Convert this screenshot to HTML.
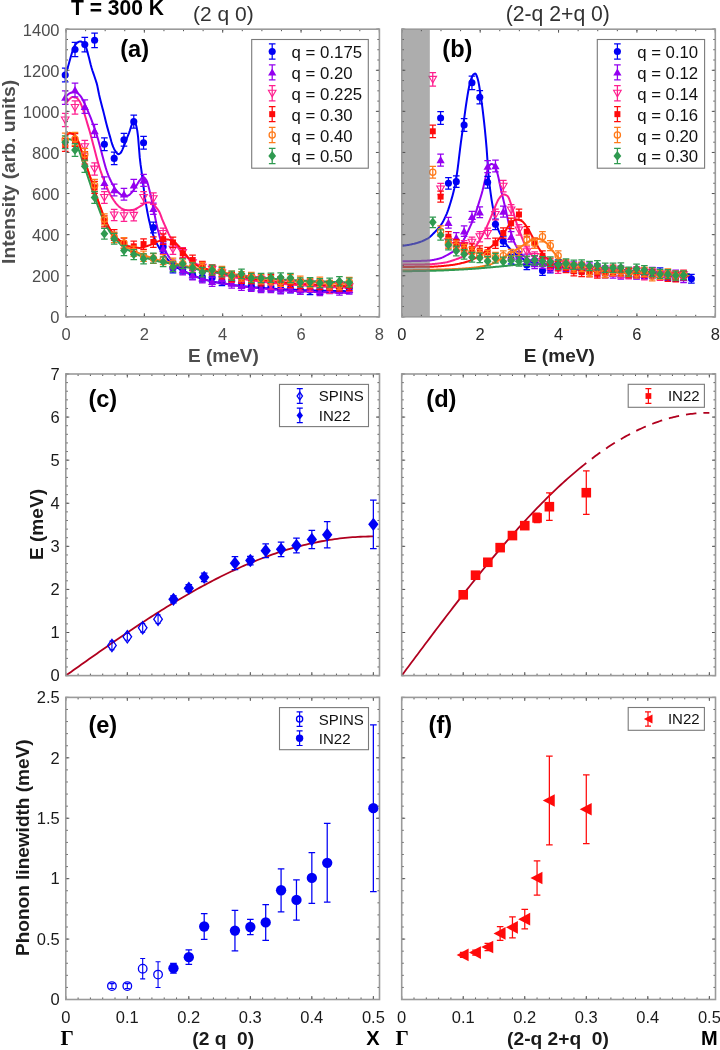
<!DOCTYPE html>
<html><head><meta charset="utf-8"><style>
html,body{margin:0;padding:0;background:#fff;}
svg{display:block;filter:blur(0.3px);}
</style></head><body>
<svg width="720" height="1050" viewBox="0 0 720 1050">
<rect width="720" height="1050" fill="#fff"/>
<path d="M65.8 73.6L66.63 71.06L67.46 68.42L68.29 65.67L69.12 62.82L69.95 59.79L70.79 56.72L71.62 53.93L72.45 51.26L73.28 48.75L74.11 46.73L74.94 45.35L75.77 44.2L76.6 43.27L77.43 42.57L78.26 42.06L79.1 41.63L79.93 41.41L80.76 41.48L81.59 41.78L82.42 42.23L83.25 42.79L84.08 43.7L84.91 45L85.74 46.59L86.57 48.76L87.41 51.71L88.24 54.95L89.07 58.09L89.9 61.42L90.73 64.77L91.56 67.81L92.39 70.45L93.22 72.89L94.05 75.27L94.88 77.76L95.72 80.24L96.55 82.86L97.38 86.11L98.21 90.28L99.04 94.38L99.87 97.94L100.7 101.32L101.53 104.55L102.36 107.64L103.19 110.78L104.03 114.12L104.86 117.57L105.69 121L106.52 124.27L107.35 127.37L108.18 130.37L109.01 133.28L109.84 136.15L110.67 139.09L111.5 142.04L112.34 144.73L113.17 146.89L114 148.69L114.83 150.25L115.66 151.55L116.49 152.63L117.32 153.64L118.15 154.19L118.98 154.05L119.81 153.55L120.65 152.87L121.48 151.65L122.31 149.87L123.14 147.84L123.97 145.84L124.8 143.8L125.63 141.62L126.46 139.4L127.29 137.26L128.12 135.2L128.96 133.1L129.79 130.75L130.62 128.04L131.45 125.62L132.28 123.53L133.11 121.85L133.94 121.59L134.77 122.38L135.6 123.69L136.43 126.37L137.27 130.61L138.1 137.17L138.93 147.49L139.76 157.67L140.59 164.66L141.42 170.45L142.25 176.75L143.08 183.29L143.91 189.95L144.74 196.5L145.58 201.94L146.41 206.68L147.24 211.25L148.07 215.57L148.9 219.48L149.73 223.08L150.56 226.53L151.39 229.76L152.22 232.39L153.05 234.64L153.89 236.72L154.72 238.78L155.55 240.77L156.38 242.63L157.21 244.31L158.04 245.86L158.87 247.32L159.7 248.71L160.53 250.07L161.36 251.38L162.2 252.64L163.03 253.83L163.86 254.93L164.69 255.96L165.52 256.94L166.35 257.89L167.18 258.84L168.01 259.8L168.84 260.81L169.67 261.84L170.51 262.85L171.34 263.8L172.17 264.65L173 265.38L173.83 265.96L174.66 266.47L175.49 266.94L176.32 267.36L177.15 267.76L177.98 268.13L178.82 268.49L179.65 268.84L180.48 269.2L181.31 269.57L182.14 269.97L182.97 270.39L183.8 270.82L184.63 271.26L185.46 271.7L186.29 272.15L187.13 272.59L187.96 273.04L188.79 273.47L189.62 273.9L190.45 274.31L191.28 274.71L192.11 275.09L192.94 275.45L193.77 275.79L194.6 276.12L195.44 276.44L196.27 276.75L197.1 277.05L197.93 277.35L198.76 277.63L199.59 277.91L200.42 278.19L201.25 278.45L202.08 278.71L202.91 278.96L203.75 279.21L204.58 279.45L205.41 279.69L206.24 279.92L207.07 280.16L207.9 280.38L208.73 280.61L209.56 280.83L210.39 281.04L211.22 281.24L212.05 281.44L212.89 281.63L213.72 281.82L214.55 281.99L215.38 282.16L216.21 282.31L217.04 282.46L217.87 282.6L218.7 282.73L219.53 282.86L220.36 282.99L221.2 283.11L222.03 283.23L222.86 283.34L223.69 283.46L224.52 283.58L225.35 283.7L226.18 283.82L227.01 283.95L227.84 284.08L228.67 284.21L229.51 284.35L230.34 284.48L231.17 284.62L232 284.75L232.83 284.88L233.66 285.01L234.49 285.14L235.32 285.27L236.15 285.38L236.98 285.5L237.82 285.6L238.65 285.7L239.48 285.8L240.31 285.9L241.14 286L241.97 286.09L242.8 286.19L243.63 286.28L244.46 286.37L245.29 286.46L246.13 286.55L246.96 286.64L247.79 286.72L248.62 286.8L249.45 286.89L250.28 286.97L251.11 287.05L251.94 287.12L252.77 287.2L253.6 287.27L254.44 287.35L255.27 287.42L256.1 287.49L256.93 287.56L257.76 287.63L258.59 287.69L259.42 287.76L260.25 287.82L261.08 287.88L261.91 287.94L262.75 288L263.58 288.06L264.41 288.12L265.24 288.18L266.07 288.24L266.9 288.3L267.73 288.36L268.56 288.41L269.39 288.47L270.22 288.52L271.06 288.58L271.89 288.63L272.72 288.68L273.55 288.73L274.38 288.79L275.21 288.84L276.04 288.89L276.87 288.93L277.7 288.98L278.53 289.03L279.37 289.08L280.2 289.12L281.03 289.17L281.86 289.21L282.69 289.25L283.52 289.3L284.35 289.34L285.18 289.38L286.01 289.42L286.84 289.46L287.68 289.5L288.51 289.53L289.34 289.57L290.17 289.61L291 289.64L291.83 289.68L292.66 289.71L293.49 289.75L294.32 289.78L295.15 289.81L295.99 289.84L296.82 289.88L297.65 289.91L298.48 289.94L299.31 289.97L300.14 290L300.97 290.03L301.8 290.06L302.63 290.09L303.46 290.12L304.3 290.14L305.13 290.17L305.96 290.2L306.79 290.23L307.62 290.25L308.45 290.28L309.28 290.3L310.11 290.33L310.94 290.35L311.77 290.38L312.61 290.4L313.44 290.43L314.27 290.45L315.1 290.47L315.93 290.49L316.76 290.52L317.59 290.54L318.42 290.56L319.25 290.58L320.08 290.6L320.92 290.62L321.75 290.64L322.58 290.66L323.41 290.68L324.24 290.7L325.07 290.72L325.9 290.74L326.73 290.76L327.56 290.78L328.39 290.8L329.23 290.82L330.06 290.84L330.89 290.86L331.72 290.87L332.55 290.89L333.38 290.91L334.21 290.93L335.04 290.94L335.87 290.96L336.7 290.98L337.54 290.99L338.37 291.01L339.2 291.03L340.03 291.04L340.86 291.06L341.69 291.07L342.52 291.09L343.35 291.1L344.18 291.11L345.01 291.13L345.85 291.14L346.68 291.15L347.51 291.17L348.34 291.18L349.17 291.19L350 291.2" stroke="#0000f5" stroke-width="2.0" fill="none" stroke-linejoin="round"/>
<path d="M65.8 96.7L66.63 95.77L67.46 94.94L68.29 94.23L69.12 93.68L69.95 93.19L70.79 92.77L71.62 92.45L72.45 92.28L73.28 92.18L74.11 92.12L74.94 92.1L75.77 92.29L76.6 92.69L77.43 93.22L78.26 93.79L79.1 94.49L79.93 95.4L80.76 96.45L81.59 97.63L82.42 99.08L83.25 100.8L84.08 102.64L84.91 104.44L85.74 106.21L86.57 108.01L87.41 109.87L88.24 111.79L89.07 113.78L89.9 115.85L90.73 117.98L91.56 120.16L92.39 122.4L93.22 124.7L94.05 127.05L94.88 129.45L95.72 131.85L96.55 134.32L97.38 136.96L98.21 139.84L99.04 142.9L99.87 146.02L100.7 149.15L101.53 152.35L102.36 155.5L103.19 158.58L104.03 161.69L104.86 164.74L105.69 167.63L106.52 170.27L107.35 172.62L108.18 174.81L109.01 176.85L109.84 178.75L110.67 180.54L111.5 182.23L112.34 183.84L113.17 185.36L114 186.77L114.83 188.05L115.66 189.23L116.49 190.35L117.32 191.4L118.15 192.33L118.98 193.12L119.81 193.81L120.65 194.5L121.48 195.12L122.31 195.58L123.14 195.79L123.97 195.8L124.8 195.8L125.63 195.8L126.46 195.8L127.29 195.8L128.12 195.68L128.96 195.22L129.79 194.5L130.62 193.65L131.45 192.76L132.28 191.86L133.11 190.78L133.94 189.56L134.77 188.28L135.6 187L136.43 185.69L137.27 184.26L138.1 182.81L138.93 181.45L139.76 180.28L140.59 179.31L141.42 178.33L142.25 177.54L143.08 177.12L143.91 177.26L144.74 177.94L145.58 179L146.41 180.31L147.24 182.01L148.07 184.79L148.9 188.04L149.73 191.28L150.56 194.78L151.39 198.55L152.22 202.62L153.05 207.03L153.89 211.23L154.72 215.31L155.55 219.43L156.38 223.52L157.21 227.19L158.04 230.55L158.87 233.77L159.7 236.96L160.53 239.94L161.36 242.51L162.2 244.85L163.03 246.9L163.86 248.62L164.69 250.1L165.52 251.44L166.35 252.74L167.18 254.08L168.01 255.41L168.84 256.7L169.67 257.88L170.51 258.91L171.34 259.86L172.17 260.74L173 261.57L173.83 262.37L174.66 263.17L175.49 263.98L176.32 264.8L177.15 265.63L177.98 266.44L178.82 267.23L179.65 267.99L180.48 268.71L181.31 269.37L182.14 269.96L182.97 270.5L183.8 271.01L184.63 271.5L185.46 271.97L186.29 272.41L187.13 272.84L187.96 273.25L188.79 273.65L189.62 274.03L190.45 274.4L191.28 274.76L192.11 275.11L192.94 275.45L193.77 275.79L194.6 276.12L195.44 276.44L196.27 276.75L197.1 277.05L197.93 277.35L198.76 277.63L199.59 277.91L200.42 278.19L201.25 278.45L202.08 278.71L202.91 278.96L203.75 279.21L204.58 279.45L205.41 279.69L206.24 279.92L207.07 280.15L207.9 280.38L208.73 280.6L209.56 280.82L210.39 281.03L211.22 281.23L212.05 281.43L212.89 281.62L213.72 281.81L214.55 281.99L215.38 282.16L216.21 282.32L217.04 282.47L217.87 282.62L218.7 282.76L219.53 282.89L220.36 283.03L221.2 283.15L222.03 283.28L222.86 283.41L223.69 283.53L224.52 283.66L225.35 283.79L226.18 283.92L227.01 284.05L227.84 284.19L228.67 284.33L229.51 284.47L230.34 284.61L231.17 284.75L232 284.89L232.83 285.03L233.66 285.17L234.49 285.31L235.32 285.44L236.15 285.56L236.98 285.69L237.82 285.8L238.65 285.91L239.48 286.02L240.31 286.13L241.14 286.24L241.97 286.34L242.8 286.45L243.63 286.55L244.46 286.65L245.29 286.75L246.13 286.85L246.96 286.94L247.79 287.04L248.62 287.13L249.45 287.23L250.28 287.32L251.11 287.41L251.94 287.5L252.77 287.58L253.6 287.67L254.44 287.75L255.27 287.84L256.1 287.92L256.93 288L257.76 288.09L258.59 288.17L259.42 288.25L260.25 288.32L261.08 288.4L261.91 288.48L262.75 288.56L263.58 288.63L264.41 288.71L265.24 288.79L266.07 288.86L266.9 288.94L267.73 289.01L268.56 289.08L269.39 289.16L270.22 289.23L271.06 289.3L271.89 289.37L272.72 289.44L273.55 289.51L274.38 289.58L275.21 289.65L276.04 289.72L276.87 289.78L277.7 289.85L278.53 289.91L279.37 289.98L280.2 290.04L281.03 290.1L281.86 290.16L282.69 290.22L283.52 290.28L284.35 290.34L285.18 290.4L286.01 290.45L286.84 290.51L287.68 290.56L288.51 290.61L289.34 290.66L290.17 290.71L291 290.76L291.83 290.81L292.66 290.85L293.49 290.9L294.32 290.95L295.15 290.99L295.99 291.04L296.82 291.08L297.65 291.12L298.48 291.17L299.31 291.21L300.14 291.25L300.97 291.29L301.8 291.33L302.63 291.37L303.46 291.41L304.3 291.45L305.13 291.49L305.96 291.53L306.79 291.57L307.62 291.6L308.45 291.64L309.28 291.67L310.11 291.71L310.94 291.75L311.77 291.78L312.61 291.81L313.44 291.85L314.27 291.88L315.1 291.91L315.93 291.95L316.76 291.98L317.59 292.01L318.42 292.04L319.25 292.07L320.08 292.1L320.92 292.13L321.75 292.16L322.58 292.19L323.41 292.22L324.24 292.25L325.07 292.28L325.9 292.31L326.73 292.34L327.56 292.37L328.39 292.39L329.23 292.42L330.06 292.45L330.89 292.48L331.72 292.5L332.55 292.53L333.38 292.56L334.21 292.58L335.04 292.61L335.87 292.63L336.7 292.66L337.54 292.68L338.37 292.71L339.2 292.73L340.03 292.75L340.86 292.78L341.69 292.8L342.52 292.82L343.35 292.84L344.18 292.86L345.01 292.88L345.85 292.9L346.68 292.92L347.51 292.94L348.34 292.96L349.17 292.98L350 293" stroke="#9400f0" stroke-width="2.0" fill="none" stroke-linejoin="round"/>
<path d="M65.7 104.2L66.53 102.81L67.36 101.55L68.19 100.46L69.03 99.58L69.86 98.78L70.69 98.02L71.52 97.43L72.35 97.12L73.18 97.12L74.01 97.22L74.84 97.4L75.68 97.63L76.51 97.9L77.34 98.43L78.17 99.33L79 100.47L79.83 101.75L80.66 103.36L81.49 105.39L82.33 107.57L83.16 109.9L83.99 112.44L84.82 115.06L85.65 117.76L86.48 120.55L87.31 123.34L88.14 126.1L88.98 128.86L89.81 131.73L90.64 134.76L91.47 137.89L92.3 141.02L93.13 144.18L93.96 147.36L94.8 150.59L95.63 153.82L96.46 156.92L97.29 159.96L98.12 162.94L98.95 165.81L99.78 168.52L100.61 171.05L101.45 173.45L102.28 175.74L103.11 177.95L103.94 180.12L104.77 182.28L105.6 184.43L106.43 186.52L107.26 188.52L108.1 190.37L108.93 192.06L109.76 193.65L110.59 195.14L111.42 196.56L112.25 197.91L113.08 199.21L113.91 200.49L114.75 201.71L115.58 202.84L116.41 203.87L117.24 204.79L118.07 205.65L118.9 206.44L119.73 207.15L120.56 207.75L121.4 208.26L122.23 208.73L123.06 209.15L123.89 209.5L124.72 209.74L125.55 209.89L126.38 210.02L127.22 210.13L128.05 210.21L128.88 210.25L129.71 210.24L130.54 210.19L131.37 210.1L132.2 209.98L133.03 209.85L133.87 209.67L134.7 209.36L135.53 208.96L136.36 208.52L137.19 208.06L138.02 207.62L138.85 207.15L139.68 206.64L140.52 206.13L141.35 205.61L142.18 205.09L143.01 204.5L143.84 203.9L144.67 203.37L145.5 202.98L146.33 202.78L147.17 202.61L148 202.48L148.83 202.41L149.66 202.43L150.49 202.64L151.32 202.99L152.15 203.41L152.99 203.92L153.82 204.67L154.65 205.61L155.48 206.62L156.31 207.6L157.14 208.63L157.97 209.74L158.8 211.02L159.64 212.56L160.47 214.57L161.3 216.84L162.13 219.08L162.96 221.09L163.79 223L164.62 224.87L165.45 226.73L166.29 228.6L167.12 230.5L167.95 232.37L168.78 234.15L169.61 235.8L170.44 237.36L171.27 238.84L172.1 240.2L172.94 241.42L173.77 242.52L174.6 243.55L175.43 244.55L176.26 245.57L177.09 246.59L177.92 247.6L178.75 248.59L179.59 249.54L180.42 250.45L181.25 251.3L182.08 252.13L182.91 252.94L183.74 253.75L184.57 254.58L185.41 255.45L186.24 256.32L187.07 257.17L187.9 257.95L188.73 258.65L189.56 259.31L190.39 259.94L191.22 260.53L192.06 261.11L192.89 261.66L193.72 262.19L194.55 262.72L195.38 263.24L196.21 263.75L197.04 264.25L197.87 264.75L198.71 265.24L199.54 265.72L200.37 266.19L201.2 266.64L202.03 267.08L202.86 267.5L203.69 267.91L204.52 268.29L205.36 268.65L206.19 269.01L207.02 269.35L207.85 269.68L208.68 270L209.51 270.32L210.34 270.63L211.18 270.93L212.01 271.22L212.84 271.51L213.67 271.79L214.5 272.06L215.33 272.33L216.16 272.59L216.99 272.85L217.83 273.1L218.66 273.35L219.49 273.6L220.32 273.84L221.15 274.08L221.98 274.32L222.81 274.55L223.64 274.78L224.48 275.01L225.31 275.23L226.14 275.45L226.97 275.66L227.8 275.87L228.63 276.08L229.46 276.28L230.29 276.48L231.13 276.67L231.96 276.86L232.79 277.04L233.62 277.22L234.45 277.39L235.28 277.56L236.11 277.72L236.95 277.88L237.78 278.04L238.61 278.2L239.44 278.35L240.27 278.5L241.1 278.65L241.93 278.8L242.76 278.95L243.6 279.09L244.43 279.23L245.26 279.37L246.09 279.51L246.92 279.64L247.75 279.77L248.58 279.9L249.41 280.03L250.25 280.16L251.08 280.28L251.91 280.41L252.74 280.53L253.57 280.65L254.4 280.76L255.23 280.88L256.06 280.99L256.9 281.1L257.73 281.21L258.56 281.32L259.39 281.42L260.22 281.53L261.05 281.63L261.88 281.73L262.71 281.83L263.55 281.93L264.38 282.03L265.21 282.12L266.04 282.22L266.87 282.31L267.7 282.4L268.53 282.49L269.37 282.58L270.2 282.67L271.03 282.76L271.86 282.85L272.69 282.93L273.52 283.02L274.35 283.1L275.18 283.18L276.02 283.26L276.85 283.35L277.68 283.42L278.51 283.5L279.34 283.58L280.17 283.66L281 283.73L281.83 283.81L282.67 283.88L283.5 283.96L284.33 284.03L285.16 284.1L285.99 284.17L286.82 284.24L287.65 284.31L288.48 284.38L289.32 284.45L290.15 284.51L290.98 284.58L291.81 284.64L292.64 284.71L293.47 284.77L294.3 284.84L295.14 284.9L295.97 284.96L296.8 285.02L297.63 285.09L298.46 285.15L299.29 285.21L300.12 285.27L300.95 285.33L301.79 285.38L302.62 285.44L303.45 285.5L304.28 285.55L305.11 285.61L305.94 285.67L306.77 285.72L307.6 285.77L308.44 285.83L309.27 285.88L310.1 285.93L310.93 285.98L311.76 286.03L312.59 286.08L313.42 286.13L314.25 286.18L315.09 286.23L315.92 286.28L316.75 286.32L317.58 286.37L318.41 286.42L319.24 286.46L320.07 286.5L320.9 286.55L321.74 286.59L322.57 286.63L323.4 286.68L324.23 286.72L325.06 286.76L325.89 286.8L326.72 286.84L327.56 286.88L328.39 286.92L329.22 286.96L330.05 287L330.88 287.04L331.71 287.08L332.54 287.12L333.37 287.16L334.21 287.19L335.04 287.23L335.87 287.27L336.7 287.3L337.53 287.34L338.36 287.37L339.19 287.41L340.02 287.44L340.86 287.47L341.69 287.51L342.52 287.54L343.35 287.57L344.18 287.6L345.01 287.63L345.84 287.66L346.67 287.69L347.51 287.72L348.34 287.75L349.17 287.77L350 287.8" stroke="#ff1f8f" stroke-width="2.0" fill="none" stroke-linejoin="round"/>
<path d="M65.8 135.6L66.63 134.67L67.46 133.9L68.29 133.31L69.12 132.94L69.95 132.8L70.79 132.89L71.62 133.14L72.45 133.54L73.28 134.04L74.11 134.63L74.94 135.31L75.77 136.4L76.6 137.88L77.43 139.6L78.26 141.42L79.1 143.49L79.93 145.94L80.76 148.57L81.59 151.17L82.42 153.66L83.25 156.18L84.08 158.71L84.91 161.24L85.74 163.76L86.57 166.29L87.41 168.81L88.24 171.31L89.07 173.76L89.9 176.18L90.73 178.6L91.56 181.08L92.39 183.66L93.22 186.32L94.05 189.01L94.88 191.64L95.72 194.21L96.55 196.76L97.38 199.29L98.21 201.78L99.04 204.23L99.87 206.63L100.7 209.01L101.53 211.42L102.36 213.79L103.19 216.08L104.03 218.23L104.86 220.19L105.69 221.94L106.52 223.58L107.35 225.12L108.18 226.57L109.01 227.94L109.84 229.26L110.67 230.52L111.5 231.75L112.34 232.93L113.17 234.07L114 235.15L114.83 236.17L115.66 237.13L116.49 238.02L117.32 238.89L118.15 239.72L118.98 240.52L119.81 241.29L120.65 242.04L121.48 242.75L122.31 243.44L123.14 244.1L123.97 244.74L124.8 245.36L125.63 245.95L126.46 246.53L127.29 247.09L128.12 247.63L128.96 248.16L129.79 248.67L130.62 249.16L131.45 249.64L132.28 250.1L133.11 250.55L133.94 250.98L134.77 251.39L135.6 251.79L136.43 252.16L137.27 252.53L138.1 252.88L138.93 253.22L139.76 253.55L140.59 253.87L141.42 254.18L142.25 254.49L143.08 254.8L143.91 255.1L144.74 255.41L145.58 255.71L146.41 256.02L147.24 256.33L148.07 256.63L148.9 256.94L149.73 257.25L150.56 257.55L151.39 257.85L152.22 258.14L153.05 258.43L153.89 258.71L154.72 258.99L155.55 259.26L156.38 259.51L157.21 259.76L158.04 260L158.87 260.22L159.7 260.43L160.53 260.62L161.36 260.81L162.2 260.98L163.03 261.14L163.86 261.29L164.69 261.44L165.52 261.58L166.35 261.72L167.18 261.86L168.01 262.01L168.84 262.16L169.67 262.31L170.51 262.48L171.34 262.65L172.17 262.83L173 263.03L173.83 263.23L174.66 263.43L175.49 263.64L176.32 263.85L177.15 264.06L177.98 264.28L178.82 264.49L179.65 264.69L180.48 264.9L181.31 265.1L182.14 265.29L182.97 265.47L183.8 265.65L184.63 265.83L185.46 266.01L186.29 266.18L187.13 266.35L187.96 266.52L188.79 266.69L189.62 266.86L190.45 267.03L191.28 267.19L192.11 267.36L192.94 267.53L193.77 267.7L194.6 267.87L195.44 268.04L196.27 268.21L197.1 268.38L197.93 268.55L198.76 268.72L199.59 268.89L200.42 269.06L201.25 269.22L202.08 269.38L202.91 269.54L203.75 269.69L204.58 269.83L205.41 269.97L206.24 270.11L207.07 270.24L207.9 270.37L208.73 270.49L209.56 270.62L210.39 270.74L211.22 270.86L212.05 270.98L212.89 271.1L213.72 271.22L214.55 271.35L215.38 271.47L216.21 271.59L217.04 271.71L217.87 271.83L218.7 271.95L219.53 272.07L220.36 272.19L221.2 272.31L222.03 272.42L222.86 272.54L223.69 272.66L224.52 272.78L225.35 272.9L226.18 273.02L227.01 273.15L227.84 273.27L228.67 273.4L229.51 273.53L230.34 273.66L231.17 273.79L232 273.93L232.83 274.06L233.66 274.19L234.49 274.32L235.32 274.44L236.15 274.57L236.98 274.69L237.82 274.8L238.65 274.92L239.48 275.03L240.31 275.14L241.14 275.25L241.97 275.36L242.8 275.47L243.63 275.57L244.46 275.68L245.29 275.78L246.13 275.89L246.96 275.99L247.79 276.09L248.62 276.19L249.45 276.29L250.28 276.39L251.11 276.49L251.94 276.59L252.77 276.68L253.6 276.78L254.44 276.88L255.27 276.97L256.1 277.06L256.93 277.16L257.76 277.25L258.59 277.34L259.42 277.44L260.25 277.53L261.08 277.62L261.91 277.71L262.75 277.8L263.58 277.89L264.41 277.98L265.24 278.08L266.07 278.17L266.9 278.26L267.73 278.35L268.56 278.44L269.39 278.53L270.22 278.61L271.06 278.7L271.89 278.79L272.72 278.88L273.55 278.96L274.38 279.05L275.21 279.14L276.04 279.22L276.87 279.3L277.7 279.39L278.53 279.47L279.37 279.55L280.2 279.63L281.03 279.71L281.86 279.79L282.69 279.87L283.52 279.94L284.35 280.02L285.18 280.09L286.01 280.17L286.84 280.24L287.68 280.31L288.51 280.38L289.34 280.45L290.17 280.51L291 280.58L291.83 280.64L292.66 280.71L293.49 280.77L294.32 280.84L295.15 280.9L295.99 280.96L296.82 281.02L297.65 281.08L298.48 281.14L299.31 281.2L300.14 281.26L300.97 281.31L301.8 281.37L302.63 281.43L303.46 281.48L304.3 281.54L305.13 281.59L305.96 281.65L306.79 281.7L307.62 281.76L308.45 281.81L309.28 281.86L310.11 281.91L310.94 281.96L311.77 282.01L312.61 282.07L313.44 282.12L314.27 282.17L315.1 282.21L315.93 282.26L316.76 282.31L317.59 282.36L318.42 282.41L319.25 282.46L320.08 282.5L320.92 282.55L321.75 282.6L322.58 282.65L323.41 282.69L324.24 282.74L325.07 282.78L325.9 282.83L326.73 282.88L327.56 282.92L328.39 282.96L329.23 283.01L330.06 283.05L330.89 283.1L331.72 283.14L332.55 283.18L333.38 283.23L334.21 283.27L335.04 283.31L335.87 283.35L336.7 283.39L337.54 283.43L338.37 283.47L339.2 283.51L340.03 283.55L340.86 283.59L341.69 283.63L342.52 283.67L343.35 283.71L344.18 283.75L345.01 283.78L345.85 283.82L346.68 283.86L347.51 283.89L348.34 283.93L349.17 283.97L350 284" stroke="#ff7a1a" stroke-width="2.0" fill="none" stroke-linejoin="round"/>
<path d="M65.8 136.3L66.63 135.31L67.46 134.49L68.29 133.86L69.12 133.45L69.95 133.3L70.79 133.38L71.62 133.62L72.45 134L73.28 134.49L74.11 135.05L74.94 135.7L75.77 136.75L76.6 138.17L77.43 139.84L78.26 141.62L79.1 143.67L79.93 146.12L80.76 148.76L81.59 151.37L82.42 153.86L83.25 156.38L84.08 158.91L84.91 161.44L85.74 163.96L86.57 166.49L87.41 169.01L88.24 171.51L89.07 173.97L89.9 176.4L90.73 178.83L91.56 181.29L92.39 183.79L93.22 186.33L94.05 188.86L94.88 191.36L95.72 193.81L96.55 196.23L97.38 198.64L98.21 201.01L99.04 203.35L99.87 205.65L100.7 207.92L101.53 210.19L102.36 212.43L103.19 214.61L104.03 216.7L104.86 218.67L105.69 220.54L106.52 222.35L107.35 224.1L108.18 225.76L109.01 227.31L109.84 228.74L110.67 230.06L111.5 231.32L112.34 232.52L113.17 233.65L114 234.72L114.83 235.71L115.66 236.64L116.49 237.5L117.32 238.31L118.15 239.08L118.98 239.8L119.81 240.49L120.65 241.14L121.48 241.77L122.31 242.36L123.14 242.95L123.97 243.53L124.8 244.09L125.63 244.62L126.46 245.1L127.29 245.51L128.12 245.85L128.96 246.14L129.79 246.42L130.62 246.68L131.45 246.92L132.28 247.14L133.11 247.32L133.94 247.47L134.77 247.58L135.6 247.66L136.43 247.73L137.27 247.79L138.1 247.84L138.93 247.88L139.76 247.9L140.59 247.87L141.42 247.75L142.25 247.55L143.08 247.3L143.91 247.03L144.74 246.77L145.58 246.53L146.41 246.28L147.24 246.02L148.07 245.73L148.9 245.43L149.73 245.11L150.56 244.76L151.39 244.35L152.22 243.9L153.05 243.45L153.89 243.01L154.72 242.62L155.55 242.28L156.38 241.97L157.21 241.67L158.04 241.39L158.87 241.13L159.7 240.88L160.53 240.65L161.36 240.41L162.2 240.18L163.03 239.96L163.86 239.78L164.69 239.64L165.52 239.54L166.35 239.46L167.18 239.4L168.01 239.44L168.84 239.63L169.67 239.9L170.51 240.17L171.34 240.49L172.17 240.86L173 241.28L173.83 241.76L174.66 242.27L175.49 242.86L176.32 243.59L177.15 244.43L177.98 245.34L178.82 246.27L179.65 247.2L180.48 248.19L181.31 249.22L182.14 250.26L182.97 251.3L183.8 252.3L184.63 253.29L185.46 254.27L186.29 255.25L187.13 256.25L187.96 257.26L188.79 258.32L189.62 259.35L190.45 260.33L191.28 261.31L192.11 262.25L192.94 263.03L193.77 263.62L194.6 264.13L195.44 264.61L196.27 265.06L197.1 265.47L197.93 265.85L198.76 266.21L199.59 266.55L200.42 266.87L201.25 267.17L202.08 267.47L202.91 267.77L203.75 268.07L204.58 268.36L205.41 268.66L206.24 268.94L207.07 269.22L207.9 269.49L208.73 269.75L209.56 270L210.39 270.24L211.22 270.48L212.05 270.72L212.89 270.94L213.72 271.17L214.55 271.38L215.38 271.6L216.21 271.81L217.04 272.01L217.87 272.21L218.7 272.41L219.53 272.61L220.36 272.8L221.2 272.99L222.03 273.18L222.86 273.36L223.69 273.55L224.52 273.73L225.35 273.9L226.18 274.08L227.01 274.25L227.84 274.42L228.67 274.59L229.51 274.75L230.34 274.91L231.17 275.08L232 275.24L232.83 275.39L233.66 275.55L234.49 275.71L235.32 275.86L236.15 276.01L236.98 276.16L237.82 276.31L238.65 276.46L239.48 276.61L240.31 276.76L241.14 276.9L241.97 277.05L242.8 277.19L243.63 277.33L244.46 277.47L245.29 277.61L246.13 277.75L246.96 277.89L247.79 278.02L248.62 278.15L249.45 278.28L250.28 278.41L251.11 278.54L251.94 278.67L252.77 278.79L253.6 278.92L254.44 279.04L255.27 279.16L256.1 279.27L256.93 279.39L257.76 279.5L258.59 279.62L259.42 279.73L260.25 279.83L261.08 279.94L261.91 280.04L262.75 280.15L263.58 280.25L264.41 280.35L265.24 280.46L266.07 280.56L266.9 280.66L267.73 280.76L268.56 280.85L269.39 280.95L270.22 281.05L271.06 281.14L271.89 281.23L272.72 281.33L273.55 281.42L274.38 281.51L275.21 281.6L276.04 281.69L276.87 281.77L277.7 281.86L278.53 281.94L279.37 282.03L280.2 282.11L281.03 282.19L281.86 282.27L282.69 282.35L283.52 282.43L284.35 282.51L285.18 282.58L286.01 282.66L286.84 282.73L287.68 282.8L288.51 282.88L289.34 282.95L290.17 283.01L291 283.08L291.83 283.15L292.66 283.21L293.49 283.28L294.32 283.34L295.15 283.41L295.99 283.47L296.82 283.53L297.65 283.6L298.48 283.66L299.31 283.72L300.14 283.78L300.97 283.84L301.8 283.89L302.63 283.95L303.46 284.01L304.3 284.06L305.13 284.12L305.96 284.17L306.79 284.23L307.62 284.28L308.45 284.33L309.28 284.39L310.11 284.44L310.94 284.49L311.77 284.54L312.61 284.59L313.44 284.64L314.27 284.68L315.1 284.73L315.93 284.78L316.76 284.83L317.59 284.87L318.42 284.92L319.25 284.96L320.08 285L320.92 285.05L321.75 285.09L322.58 285.13L323.41 285.18L324.24 285.22L325.07 285.26L325.9 285.3L326.73 285.34L327.56 285.38L328.39 285.42L329.23 285.46L330.06 285.5L330.89 285.54L331.72 285.58L332.55 285.62L333.38 285.66L334.21 285.69L335.04 285.73L335.87 285.77L336.7 285.8L337.54 285.84L338.37 285.87L339.2 285.91L340.03 285.94L340.86 285.97L341.69 286.01L342.52 286.04L343.35 286.07L344.18 286.1L345.01 286.13L345.85 286.16L346.68 286.19L347.51 286.22L348.34 286.25L349.17 286.27L350 286.3" stroke="#ff0a0a" stroke-width="2.0" fill="none" stroke-linejoin="round"/>
<path d="M65.8 140L66.63 139.67L67.46 139.46L68.29 139.34L69.12 139.3L69.95 139.37L70.79 139.58L71.62 139.91L72.45 140.33L73.28 140.79L74.11 141.43L74.94 142.36L75.77 143.52L76.6 144.84L77.43 146.44L78.26 148.47L79.1 150.76L79.93 153.1L80.76 155.48L81.59 158.01L82.42 160.61L83.25 163.15L84.08 165.61L84.91 168.05L85.74 170.47L86.57 172.93L87.41 175.42L88.24 177.94L89.07 180.47L89.9 182.99L90.73 185.53L91.56 188.08L92.39 190.62L93.22 193.08L94.05 195.45L94.88 197.76L95.72 200.03L96.55 202.28L97.38 204.53L98.21 206.81L99.04 209.1L99.87 211.37L100.7 213.58L101.53 215.7L102.36 217.69L103.19 219.56L104.03 221.38L104.86 223.14L105.69 224.82L106.52 226.41L107.35 227.91L108.18 229.29L109.01 230.6L109.84 231.85L110.67 233.05L111.5 234.19L112.34 235.29L113.17 236.34L114 237.34L114.83 238.31L115.66 239.24L116.49 240.16L117.32 241.06L118.15 241.93L118.98 242.78L119.81 243.61L120.65 244.41L121.48 245.17L122.31 245.9L123.14 246.59L123.97 247.25L124.8 247.86L125.63 248.43L126.46 248.98L127.29 249.5L128.12 249.99L128.96 250.47L129.79 250.93L130.62 251.37L131.45 251.79L132.28 252.21L133.11 252.61L133.94 253.01L134.77 253.39L135.6 253.78L136.43 254.15L137.27 254.52L138.1 254.88L138.93 255.22L139.76 255.57L140.59 255.9L141.42 256.22L142.25 256.53L143.08 256.84L143.91 257.13L144.74 257.41L145.58 257.69L146.41 257.96L147.24 258.23L148.07 258.5L148.9 258.76L149.73 259.01L150.56 259.27L151.39 259.51L152.22 259.75L153.05 259.99L153.89 260.22L154.72 260.44L155.55 260.66L156.38 260.87L157.21 261.07L158.04 261.27L158.87 261.46L159.7 261.64L160.53 261.81L161.36 261.97L162.2 262.12L163.03 262.26L163.86 262.4L164.69 262.53L165.52 262.66L166.35 262.79L167.18 262.92L168.01 263.05L168.84 263.19L169.67 263.33L170.51 263.48L171.34 263.65L172.17 263.83L173 264.01L173.83 264.21L174.66 264.42L175.49 264.63L176.32 264.84L177.15 265.06L177.98 265.27L178.82 265.49L179.65 265.7L180.48 265.9L181.31 266.1L182.14 266.29L182.97 266.47L183.8 266.64L184.63 266.81L185.46 266.98L186.29 267.14L187.13 267.3L187.96 267.46L188.79 267.62L189.62 267.78L190.45 267.94L191.28 268.1L192.11 268.26L192.94 268.43L193.77 268.6L194.6 268.77L195.44 268.95L196.27 269.13L197.1 269.31L197.93 269.49L198.76 269.68L199.59 269.86L200.42 270.03L201.25 270.21L202.08 270.37L202.91 270.53L203.75 270.69L204.58 270.83L205.41 270.97L206.24 271.1L207.07 271.22L207.9 271.34L208.73 271.46L209.56 271.57L210.39 271.68L211.22 271.79L212.05 271.91L212.89 272.02L213.72 272.13L214.55 272.25L215.38 272.37L216.21 272.49L217.04 272.62L217.87 272.74L218.7 272.87L219.53 273L220.36 273.13L221.2 273.26L222.03 273.39L222.86 273.52L223.69 273.65L224.52 273.78L225.35 273.9L226.18 274.03L227.01 274.14L227.84 274.26L228.67 274.38L229.51 274.5L230.34 274.62L231.17 274.74L232 274.85L232.83 274.97L233.66 275.08L234.49 275.19L235.32 275.3L236.15 275.4L236.98 275.5L237.82 275.6L238.65 275.7L239.48 275.79L240.31 275.89L241.14 275.98L241.97 276.07L242.8 276.16L243.63 276.25L244.46 276.34L245.29 276.42L246.13 276.51L246.96 276.59L247.79 276.68L248.62 276.76L249.45 276.84L250.28 276.92L251.11 277L251.94 277.08L252.77 277.16L253.6 277.23L254.44 277.31L255.27 277.39L256.1 277.46L256.93 277.53L257.76 277.61L258.59 277.68L259.42 277.75L260.25 277.82L261.08 277.89L261.91 277.96L262.75 278.03L263.58 278.1L264.41 278.17L265.24 278.24L266.07 278.31L266.9 278.37L267.73 278.44L268.56 278.51L269.39 278.57L270.22 278.64L271.06 278.7L271.89 278.77L272.72 278.83L273.55 278.9L274.38 278.96L275.21 279.02L276.04 279.08L276.87 279.14L277.7 279.2L278.53 279.26L279.37 279.32L280.2 279.38L281.03 279.44L281.86 279.49L282.69 279.55L283.52 279.6L284.35 279.66L285.18 279.71L286.01 279.76L286.84 279.81L287.68 279.86L288.51 279.91L289.34 279.96L290.17 280.01L291 280.06L291.83 280.1L292.66 280.15L293.49 280.19L294.32 280.24L295.15 280.28L295.99 280.33L296.82 280.37L297.65 280.41L298.48 280.45L299.31 280.5L300.14 280.54L300.97 280.58L301.8 280.62L302.63 280.66L303.46 280.7L304.3 280.74L305.13 280.77L305.96 280.81L306.79 280.85L307.62 280.89L308.45 280.92L309.28 280.96L310.11 281L310.94 281.03L311.77 281.07L312.61 281.1L313.44 281.14L314.27 281.17L315.1 281.2L315.93 281.24L316.76 281.27L317.59 281.31L318.42 281.34L319.25 281.37L320.08 281.4L320.92 281.44L321.75 281.47L322.58 281.5L323.41 281.53L324.24 281.56L325.07 281.59L325.9 281.62L326.73 281.65L327.56 281.69L328.39 281.72L329.23 281.75L330.06 281.77L330.89 281.8L331.72 281.83L332.55 281.86L333.38 281.89L334.21 281.92L335.04 281.95L335.87 281.98L336.7 282L337.54 282.03L338.37 282.06L339.2 282.08L340.03 282.11L340.86 282.14L341.69 282.16L342.52 282.19L343.35 282.21L344.18 282.24L345.01 282.26L345.85 282.28L346.68 282.31L347.51 282.33L348.34 282.35L349.17 282.38L350 282.4" stroke="#2f9a50" stroke-width="2.0" fill="none" stroke-linejoin="round"/>
<path d="M65.22 68.05V81.97M61.92 68.05h6.6M61.92 81.97h6.6" stroke="#0000f5" stroke-width="1.25" fill="none"/>
<circle cx="65.22" cy="75.01" r="3.55" fill="#0000f5"/>
<path d="M75.01 42.38V56.69M71.71 42.38h6.6M71.71 56.69h6.6" stroke="#0000f5" stroke-width="1.25" fill="none"/>
<circle cx="75.01" cy="49.54" r="3.55" fill="#0000f5"/>
<path d="M84.8 37.41V51.8M81.5 37.41h6.6M81.5 51.8h6.6" stroke="#0000f5" stroke-width="1.25" fill="none"/>
<circle cx="84.8" cy="44.61" r="3.55" fill="#0000f5"/>
<path d="M94.6 33.07V47.52M91.3 33.07h6.6M91.3 47.52h6.6" stroke="#0000f5" stroke-width="1.25" fill="none"/>
<circle cx="94.6" cy="40.29" r="3.55" fill="#0000f5"/>
<path d="M104.39 137.88V150.6M101.09 137.88h6.6M101.09 150.6h6.6" stroke="#0000f5" stroke-width="1.25" fill="none"/>
<circle cx="104.39" cy="144.24" r="3.55" fill="#0000f5"/>
<path d="M114.19 152.2V164.63M110.89 152.2h6.6M110.89 164.63h6.6" stroke="#0000f5" stroke-width="1.25" fill="none"/>
<circle cx="114.19" cy="158.41" r="3.55" fill="#0000f5"/>
<path d="M123.98 133.32V146.12M120.68 133.32h6.6M120.68 146.12h6.6" stroke="#0000f5" stroke-width="1.25" fill="none"/>
<circle cx="123.98" cy="139.72" r="3.55" fill="#0000f5"/>
<path d="M133.77 115.08V128.21M130.47 115.08h6.6M130.47 128.21h6.6" stroke="#0000f5" stroke-width="1.25" fill="none"/>
<circle cx="133.77" cy="121.64" r="3.55" fill="#0000f5"/>
<path d="M143.57 136.43V149.17M140.27 136.43h6.6M140.27 149.17h6.6" stroke="#0000f5" stroke-width="1.25" fill="none"/>
<circle cx="143.57" cy="142.8" r="3.55" fill="#0000f5"/>
<path d="M153.36 222V232.88M150.06 222h6.6M150.06 232.88h6.6" stroke="#0000f5" stroke-width="1.25" fill="none"/>
<circle cx="153.36" cy="227.44" r="3.55" fill="#0000f5"/>
<path d="M163.15 241.58V251.92M159.85 241.58h6.6M159.85 251.92h6.6" stroke="#0000f5" stroke-width="1.25" fill="none"/>
<circle cx="163.15" cy="246.75" r="3.55" fill="#0000f5"/>
<path d="M172.95 263.29V272.93M169.65 263.29h6.6M169.65 272.93h6.6" stroke="#0000f5" stroke-width="1.25" fill="none"/>
<circle cx="172.95" cy="268.11" r="3.55" fill="#0000f5"/>
<path d="M182.74 264.27V273.88M179.44 264.27h6.6M179.44 273.88h6.6" stroke="#0000f5" stroke-width="1.25" fill="none"/>
<circle cx="182.74" cy="269.07" r="3.55" fill="#0000f5"/>
<path d="M192.54 269.76V279.16M189.24 269.76h6.6M189.24 279.16h6.6" stroke="#0000f5" stroke-width="1.25" fill="none"/>
<circle cx="192.54" cy="274.46" r="3.55" fill="#0000f5"/>
<path d="M202.33 272.47V281.77M199.03 272.47h6.6M199.03 281.77h6.6" stroke="#0000f5" stroke-width="1.25" fill="none"/>
<circle cx="202.33" cy="277.12" r="3.55" fill="#0000f5"/>
<path d="M212.12 273.12V282.4M208.82 273.12h6.6M208.82 282.4h6.6" stroke="#0000f5" stroke-width="1.25" fill="none"/>
<circle cx="212.12" cy="277.76" r="3.55" fill="#0000f5"/>
<path d="M221.92 276.6V285.74M218.62 276.6h6.6M218.62 285.74h6.6" stroke="#0000f5" stroke-width="1.25" fill="none"/>
<circle cx="221.92" cy="281.17" r="3.55" fill="#0000f5"/>
<path d="M231.71 276.46V285.61M228.41 276.46h6.6M228.41 285.61h6.6" stroke="#0000f5" stroke-width="1.25" fill="none"/>
<circle cx="231.71" cy="281.04" r="3.55" fill="#0000f5"/>
<path d="M241.5 278.5V287.56M238.2 278.5h6.6M238.2 287.56h6.6" stroke="#0000f5" stroke-width="1.25" fill="none"/>
<circle cx="241.5" cy="283.03" r="3.55" fill="#0000f5"/>
<path d="M251.3 281.14V290.09M248 281.14h6.6M248 290.09h6.6" stroke="#0000f5" stroke-width="1.25" fill="none"/>
<circle cx="251.3" cy="285.61" r="3.55" fill="#0000f5"/>
<path d="M261.09 282.32V291.22M257.79 282.32h6.6M257.79 291.22h6.6" stroke="#0000f5" stroke-width="1.25" fill="none"/>
<circle cx="261.09" cy="286.77" r="3.55" fill="#0000f5"/>
<path d="M270.89 282.33V291.23M267.59 282.33h6.6M267.59 291.23h6.6" stroke="#0000f5" stroke-width="1.25" fill="none"/>
<circle cx="270.89" cy="286.78" r="3.55" fill="#0000f5"/>
<path d="M280.68 284.35V293.15M277.38 284.35h6.6M277.38 293.15h6.6" stroke="#0000f5" stroke-width="1.25" fill="none"/>
<circle cx="280.68" cy="288.75" r="3.55" fill="#0000f5"/>
<path d="M290.47 283.94V292.76M287.17 283.94h6.6M287.17 292.76h6.6" stroke="#0000f5" stroke-width="1.25" fill="none"/>
<circle cx="290.47" cy="288.35" r="3.55" fill="#0000f5"/>
<path d="M300.27 285.42V294.18M296.97 285.42h6.6M296.97 294.18h6.6" stroke="#0000f5" stroke-width="1.25" fill="none"/>
<circle cx="300.27" cy="289.8" r="3.55" fill="#0000f5"/>
<path d="M310.06 285.9V294.63M306.76 285.9h6.6M306.76 294.63h6.6" stroke="#0000f5" stroke-width="1.25" fill="none"/>
<circle cx="310.06" cy="290.27" r="3.55" fill="#0000f5"/>
<path d="M319.85 285.5V294.25M316.55 285.5h6.6M316.55 294.25h6.6" stroke="#0000f5" stroke-width="1.25" fill="none"/>
<circle cx="319.85" cy="289.88" r="3.55" fill="#0000f5"/>
<path d="M329.65 283.55V292.39M326.35 283.55h6.6M326.35 292.39h6.6" stroke="#0000f5" stroke-width="1.25" fill="none"/>
<circle cx="329.65" cy="287.97" r="3.55" fill="#0000f5"/>
<path d="M339.44 283.76V292.59M336.14 283.76h6.6M336.14 292.59h6.6" stroke="#0000f5" stroke-width="1.25" fill="none"/>
<circle cx="339.44" cy="288.18" r="3.55" fill="#0000f5"/>
<path d="M349.24 283.94V292.77M345.94 283.94h6.6M345.94 292.77h6.6" stroke="#0000f5" stroke-width="1.25" fill="none"/>
<circle cx="349.24" cy="288.36" r="3.55" fill="#0000f5"/>
<path d="M65.22 90.84V104.38M61.92 90.84h6.6M61.92 104.38h6.6" stroke="#9400f0" stroke-width="1.25" fill="none"/>
<path d="M65.22 93.65L69.32 100.85L61.12 100.85Z" fill="#9400f0"/>
<path d="M75.01 83.17V96.84M71.71 83.17h6.6M71.71 96.84h6.6" stroke="#9400f0" stroke-width="1.25" fill="none"/>
<path d="M75.01 86.05L79.11 93.25L70.91 93.25Z" fill="#9400f0"/>
<path d="M84.8 99.95V113.34M81.5 99.95h6.6M81.5 113.34h6.6" stroke="#9400f0" stroke-width="1.25" fill="none"/>
<path d="M84.8 102.69L88.9 109.89L80.7 109.89Z" fill="#9400f0"/>
<path d="M94.6 124.41V137.37M91.3 124.41h6.6M91.3 137.37h6.6" stroke="#9400f0" stroke-width="1.25" fill="none"/>
<path d="M94.6 126.93L98.7 134.13L90.5 134.13Z" fill="#9400f0"/>
<path d="M104.39 176.89V188.83M101.09 176.89h6.6M101.09 188.83h6.6" stroke="#9400f0" stroke-width="1.25" fill="none"/>
<path d="M104.39 178.9L108.49 186.1L100.29 186.1Z" fill="#9400f0"/>
<path d="M114.19 184.16V195.94M110.89 184.16h6.6M110.89 195.94h6.6" stroke="#9400f0" stroke-width="1.25" fill="none"/>
<path d="M114.19 186.09L118.29 193.29L110.09 193.29Z" fill="#9400f0"/>
<path d="M123.98 188.32V200M120.68 188.32h6.6M120.68 200h6.6" stroke="#9400f0" stroke-width="1.25" fill="none"/>
<path d="M123.98 190.2L128.08 197.4L119.88 197.4Z" fill="#9400f0"/>
<path d="M133.77 179.39V191.27M130.47 179.39h6.6M130.47 191.27h6.6" stroke="#9400f0" stroke-width="1.25" fill="none"/>
<path d="M133.77 181.37L137.87 188.57L129.67 188.57Z" fill="#9400f0"/>
<path d="M143.57 174.4V186.39M140.27 174.4h6.6M140.27 186.39h6.6" stroke="#9400f0" stroke-width="1.25" fill="none"/>
<path d="M143.57 176.44L147.67 183.64L139.47 183.64Z" fill="#9400f0"/>
<path d="M153.36 203.07V214.42M150.06 203.07h6.6M150.06 214.42h6.6" stroke="#9400f0" stroke-width="1.25" fill="none"/>
<path d="M153.36 204.78L157.46 211.98L149.26 211.98Z" fill="#9400f0"/>
<path d="M163.15 243.25V253.54M159.85 243.25h6.6M159.85 253.54h6.6" stroke="#9400f0" stroke-width="1.25" fill="none"/>
<path d="M163.15 244.43L167.25 251.63L159.05 251.63Z" fill="#9400f0"/>
<path d="M172.95 260.16V269.91M169.65 260.16h6.6M169.65 269.91h6.6" stroke="#9400f0" stroke-width="1.25" fill="none"/>
<path d="M172.95 261.07L177.05 268.27L168.85 268.27Z" fill="#9400f0"/>
<path d="M182.74 265.17V274.75M179.44 265.17h6.6M179.44 274.75h6.6" stroke="#9400f0" stroke-width="1.25" fill="none"/>
<path d="M182.74 266L186.84 273.2L178.64 273.2Z" fill="#9400f0"/>
<path d="M192.54 270.41V279.79M189.24 270.41h6.6M189.24 279.79h6.6" stroke="#9400f0" stroke-width="1.25" fill="none"/>
<path d="M192.54 271.14L196.64 278.34L188.44 278.34Z" fill="#9400f0"/>
<path d="M202.33 273.7V282.95M199.03 273.7h6.6M199.03 282.95h6.6" stroke="#9400f0" stroke-width="1.25" fill="none"/>
<path d="M202.33 274.37L206.43 281.57L198.23 281.57Z" fill="#9400f0"/>
<path d="M212.12 277.22V286.34M208.82 277.22h6.6M208.82 286.34h6.6" stroke="#9400f0" stroke-width="1.25" fill="none"/>
<path d="M212.12 277.82L216.22 285.02L208.02 285.02Z" fill="#9400f0"/>
<path d="M221.92 274.73V283.94M218.62 274.73h6.6M218.62 283.94h6.6" stroke="#9400f0" stroke-width="1.25" fill="none"/>
<path d="M221.92 275.37L226.02 282.57L217.82 282.57Z" fill="#9400f0"/>
<path d="M231.71 279V288.04M228.41 279h6.6M228.41 288.04h6.6" stroke="#9400f0" stroke-width="1.25" fill="none"/>
<path d="M231.71 279.56L235.81 286.76L227.61 286.76Z" fill="#9400f0"/>
<path d="M241.5 281.37V290.31M238.2 281.37h6.6M238.2 290.31h6.6" stroke="#9400f0" stroke-width="1.25" fill="none"/>
<path d="M241.5 281.88L245.6 289.08L237.4 289.08Z" fill="#9400f0"/>
<path d="M251.3 282.54V291.42M248 282.54h6.6M248 291.42h6.6" stroke="#9400f0" stroke-width="1.25" fill="none"/>
<path d="M251.3 283.02L255.4 290.22L247.2 290.22Z" fill="#9400f0"/>
<path d="M261.09 283.82V292.65M257.79 283.82h6.6M257.79 292.65h6.6" stroke="#9400f0" stroke-width="1.25" fill="none"/>
<path d="M261.09 284.28L265.19 291.48L256.99 291.48Z" fill="#9400f0"/>
<path d="M270.89 283.85V292.68M267.59 283.85h6.6M267.59 292.68h6.6" stroke="#9400f0" stroke-width="1.25" fill="none"/>
<path d="M270.89 284.31L274.99 291.51L266.79 291.51Z" fill="#9400f0"/>
<path d="M280.68 284.98V293.76M277.38 284.98h6.6M277.38 293.76h6.6" stroke="#9400f0" stroke-width="1.25" fill="none"/>
<path d="M280.68 285.41L284.78 292.61L276.58 292.61Z" fill="#9400f0"/>
<path d="M290.47 283.89V292.72M287.17 283.89h6.6M287.17 292.72h6.6" stroke="#9400f0" stroke-width="1.25" fill="none"/>
<path d="M290.47 284.35L294.57 291.55L286.37 291.55Z" fill="#9400f0"/>
<path d="M300.27 285.5V294.25M296.97 285.5h6.6M296.97 294.25h6.6" stroke="#9400f0" stroke-width="1.25" fill="none"/>
<path d="M300.27 285.92L304.37 293.12L296.17 293.12Z" fill="#9400f0"/>
<path d="M310.06 283.64V292.47M306.76 283.64h6.6M306.76 292.47h6.6" stroke="#9400f0" stroke-width="1.25" fill="none"/>
<path d="M310.06 284.09L314.16 291.29L305.96 291.29Z" fill="#9400f0"/>
<path d="M319.85 287.02V295.7M316.55 287.02h6.6M316.55 295.7h6.6" stroke="#9400f0" stroke-width="1.25" fill="none"/>
<path d="M319.85 287.4L323.95 294.6L315.75 294.6Z" fill="#9400f0"/>
<path d="M329.65 284.74V293.53M326.35 284.74h6.6M326.35 293.53h6.6" stroke="#9400f0" stroke-width="1.25" fill="none"/>
<path d="M329.65 285.17L333.75 292.37L325.55 292.37Z" fill="#9400f0"/>
<path d="M339.44 286.52V295.22M336.14 286.52h6.6M336.14 295.22h6.6" stroke="#9400f0" stroke-width="1.25" fill="none"/>
<path d="M339.44 286.91L343.54 294.11L335.34 294.11Z" fill="#9400f0"/>
<path d="M349.24 285.36V294.11M345.94 285.36h6.6M345.94 294.11h6.6" stroke="#9400f0" stroke-width="1.25" fill="none"/>
<path d="M349.24 285.77L353.34 292.97L345.14 292.97Z" fill="#9400f0"/>
<path d="M65.22 113.42V126.58M61.92 113.42h6.6M61.92 126.58h6.6" stroke="#ff1f8f" stroke-width="1.25" fill="none"/>
<path d="M65.22 123.63L69.02 117.03L61.42 117.03Z" fill="none" stroke="#ff1f8f" stroke-width="1.1"/>
<path d="M75.01 100.78V114.16M71.71 100.78h6.6M71.71 114.16h6.6" stroke="#ff1f8f" stroke-width="1.25" fill="none"/>
<path d="M75.01 111.1L78.81 104.5L71.21 104.5Z" fill="none" stroke="#ff1f8f" stroke-width="1.1"/>
<path d="M84.8 140.37V153.04M81.5 140.37h6.6M81.5 153.04h6.6" stroke="#ff1f8f" stroke-width="1.25" fill="none"/>
<path d="M84.8 150.34L88.6 143.74L81 143.74Z" fill="none" stroke="#ff1f8f" stroke-width="1.1"/>
<path d="M94.6 162.99V175.21M91.3 162.99h6.6M91.3 175.21h6.6" stroke="#ff1f8f" stroke-width="1.25" fill="none"/>
<path d="M94.6 172.73L98.4 166.13L90.8 166.13Z" fill="none" stroke="#ff1f8f" stroke-width="1.1"/>
<path d="M104.39 191.64V203.25M101.09 191.64h6.6M101.09 203.25h6.6" stroke="#ff1f8f" stroke-width="1.25" fill="none"/>
<path d="M104.39 201.08L108.19 194.48L100.59 194.48Z" fill="none" stroke="#ff1f8f" stroke-width="1.1"/>
<path d="M114.19 209.31V220.51M110.89 209.31h6.6M110.89 220.51h6.6" stroke="#ff1f8f" stroke-width="1.25" fill="none"/>
<path d="M114.19 218.54L117.99 211.94L110.39 211.94Z" fill="none" stroke="#ff1f8f" stroke-width="1.1"/>
<path d="M123.98 210.14V221.32M120.68 210.14h6.6M120.68 221.32h6.6" stroke="#ff1f8f" stroke-width="1.25" fill="none"/>
<path d="M123.98 219.36L127.78 212.76L120.18 212.76Z" fill="none" stroke="#ff1f8f" stroke-width="1.1"/>
<path d="M133.77 209.73V220.91M130.47 209.73h6.6M130.47 220.91h6.6" stroke="#ff1f8f" stroke-width="1.25" fill="none"/>
<path d="M133.77 218.95L137.57 212.35L129.97 212.35Z" fill="none" stroke="#ff1f8f" stroke-width="1.1"/>
<path d="M143.57 191.64V203.25M140.27 191.64h6.6M140.27 203.25h6.6" stroke="#ff1f8f" stroke-width="1.25" fill="none"/>
<path d="M143.57 201.08L147.37 194.48L139.77 194.48Z" fill="none" stroke="#ff1f8f" stroke-width="1.1"/>
<path d="M153.36 192.89V204.47M150.06 192.89h6.6M150.06 204.47h6.6" stroke="#ff1f8f" stroke-width="1.25" fill="none"/>
<path d="M153.36 202.31L157.16 195.71L149.56 195.71Z" fill="none" stroke="#ff1f8f" stroke-width="1.1"/>
<path d="M163.15 228.04V238.75M159.85 228.04h6.6M159.85 238.75h6.6" stroke="#ff1f8f" stroke-width="1.25" fill="none"/>
<path d="M163.15 237.03L166.95 230.43L159.35 230.43Z" fill="none" stroke="#ff1f8f" stroke-width="1.1"/>
<path d="M172.95 244.08V254.34M169.65 244.08h6.6M169.65 254.34h6.6" stroke="#ff1f8f" stroke-width="1.25" fill="none"/>
<path d="M172.95 252.84L176.75 246.24L169.15 246.24Z" fill="none" stroke="#ff1f8f" stroke-width="1.1"/>
<path d="M182.74 247.55V257.71M179.44 247.55h6.6M179.44 257.71h6.6" stroke="#ff1f8f" stroke-width="1.25" fill="none"/>
<path d="M182.74 256.26L186.54 249.66L178.94 249.66Z" fill="none" stroke="#ff1f8f" stroke-width="1.1"/>
<path d="M192.54 257.76V267.59M189.24 257.76h6.6M189.24 267.59h6.6" stroke="#ff1f8f" stroke-width="1.25" fill="none"/>
<path d="M192.54 266.3L196.34 259.7L188.74 259.7Z" fill="none" stroke="#ff1f8f" stroke-width="1.1"/>
<path d="M202.33 262.31V271.99M199.03 262.31h6.6M199.03 271.99h6.6" stroke="#ff1f8f" stroke-width="1.25" fill="none"/>
<path d="M202.33 270.78L206.13 264.18L198.53 264.18Z" fill="none" stroke="#ff1f8f" stroke-width="1.1"/>
<path d="M212.12 264.52V274.12M208.82 264.52h6.6M208.82 274.12h6.6" stroke="#ff1f8f" stroke-width="1.25" fill="none"/>
<path d="M212.12 272.95L215.92 266.35L208.32 266.35Z" fill="none" stroke="#ff1f8f" stroke-width="1.1"/>
<path d="M221.92 268.18V277.65M218.62 268.18h6.6M218.62 277.65h6.6" stroke="#ff1f8f" stroke-width="1.25" fill="none"/>
<path d="M221.92 276.55L225.72 269.95L218.12 269.95Z" fill="none" stroke="#ff1f8f" stroke-width="1.1"/>
<path d="M231.71 273.14V282.41M228.41 273.14h6.6M228.41 282.41h6.6" stroke="#ff1f8f" stroke-width="1.25" fill="none"/>
<path d="M231.71 281.4L235.51 274.8L227.91 274.8Z" fill="none" stroke="#ff1f8f" stroke-width="1.1"/>
<path d="M241.5 273.54V282.8M238.2 273.54h6.6M238.2 282.8h6.6" stroke="#ff1f8f" stroke-width="1.25" fill="none"/>
<path d="M241.5 281.8L245.3 275.2L237.7 275.2Z" fill="none" stroke="#ff1f8f" stroke-width="1.1"/>
<path d="M251.3 274.38V283.61M248 274.38h6.6M248 283.61h6.6" stroke="#ff1f8f" stroke-width="1.25" fill="none"/>
<path d="M251.3 282.62L255.1 276.02L247.5 276.02Z" fill="none" stroke="#ff1f8f" stroke-width="1.1"/>
<path d="M261.09 275.17V284.37M257.79 275.17h6.6M257.79 284.37h6.6" stroke="#ff1f8f" stroke-width="1.25" fill="none"/>
<path d="M261.09 283.4L264.89 276.8L257.29 276.8Z" fill="none" stroke="#ff1f8f" stroke-width="1.1"/>
<path d="M270.89 280.18V289.17M267.59 280.18h6.6M267.59 289.17h6.6" stroke="#ff1f8f" stroke-width="1.25" fill="none"/>
<path d="M270.89 288.3L274.69 281.7L267.09 281.7Z" fill="none" stroke="#ff1f8f" stroke-width="1.1"/>
<path d="M280.68 279.58V288.6M277.38 279.58h6.6M277.38 288.6h6.6" stroke="#ff1f8f" stroke-width="1.25" fill="none"/>
<path d="M280.68 287.72L284.48 281.12L276.88 281.12Z" fill="none" stroke="#ff1f8f" stroke-width="1.1"/>
<path d="M290.47 278.71V287.77M287.17 278.71h6.6M287.17 287.77h6.6" stroke="#ff1f8f" stroke-width="1.25" fill="none"/>
<path d="M290.47 286.87L294.27 280.27L286.67 280.27Z" fill="none" stroke="#ff1f8f" stroke-width="1.1"/>
<path d="M300.27 282.07V290.97M296.97 282.07h6.6M296.97 290.97h6.6" stroke="#ff1f8f" stroke-width="1.25" fill="none"/>
<path d="M300.27 290.15L304.07 283.55L296.47 283.55Z" fill="none" stroke="#ff1f8f" stroke-width="1.1"/>
<path d="M310.06 282.61V291.49M306.76 282.61h6.6M306.76 291.49h6.6" stroke="#ff1f8f" stroke-width="1.25" fill="none"/>
<path d="M310.06 290.68L313.86 284.08L306.26 284.08Z" fill="none" stroke="#ff1f8f" stroke-width="1.1"/>
<path d="M319.85 279.83V288.83M316.55 279.83h6.6M316.55 288.83h6.6" stroke="#ff1f8f" stroke-width="1.25" fill="none"/>
<path d="M319.85 287.96L323.65 281.36L316.05 281.36Z" fill="none" stroke="#ff1f8f" stroke-width="1.1"/>
<path d="M329.65 284.53V293.32M326.35 284.53h6.6M326.35 293.32h6.6" stroke="#ff1f8f" stroke-width="1.25" fill="none"/>
<path d="M329.65 292.55L333.45 285.95L325.85 285.95Z" fill="none" stroke="#ff1f8f" stroke-width="1.1"/>
<path d="M339.44 280.77V289.73M336.14 280.77h6.6M336.14 289.73h6.6" stroke="#ff1f8f" stroke-width="1.25" fill="none"/>
<path d="M339.44 288.88L343.24 282.28L335.64 282.28Z" fill="none" stroke="#ff1f8f" stroke-width="1.1"/>
<path d="M349.24 282.25V291.15M345.94 282.25h6.6M345.94 291.15h6.6" stroke="#ff1f8f" stroke-width="1.25" fill="none"/>
<path d="M349.24 290.33L353.04 283.73L345.44 283.73Z" fill="none" stroke="#ff1f8f" stroke-width="1.1"/>
<path d="M65.22 138.71V151.41M61.92 138.71h6.6M61.92 151.41h6.6" stroke="#ff0a0a" stroke-width="1.25" fill="none"/>
<rect x="62.22" y="142.06" width="6" height="6" fill="#ff0a0a"/>
<path d="M75.01 133.53V146.32M71.71 133.53h6.6M71.71 146.32h6.6" stroke="#ff0a0a" stroke-width="1.25" fill="none"/>
<rect x="72.01" y="136.93" width="6" height="6" fill="#ff0a0a"/>
<path d="M84.8 151.57V164.02M81.5 151.57h6.6M81.5 164.02h6.6" stroke="#ff0a0a" stroke-width="1.25" fill="none"/>
<rect x="81.8" y="154.8" width="6" height="6" fill="#ff0a0a"/>
<path d="M94.6 181.46V193.3M91.3 181.46h6.6M91.3 193.3h6.6" stroke="#ff0a0a" stroke-width="1.25" fill="none"/>
<rect x="91.6" y="184.38" width="6" height="6" fill="#ff0a0a"/>
<path d="M104.39 215.76V226.79M101.09 215.76h6.6M101.09 226.79h6.6" stroke="#ff0a0a" stroke-width="1.25" fill="none"/>
<rect x="101.39" y="218.28" width="6" height="6" fill="#ff0a0a"/>
<path d="M114.19 229.7V240.37M110.89 229.7h6.6M110.89 240.37h6.6" stroke="#ff0a0a" stroke-width="1.25" fill="none"/>
<rect x="111.19" y="232.04" width="6" height="6" fill="#ff0a0a"/>
<path d="M123.98 238.04V248.48M120.68 238.04h6.6M120.68 248.48h6.6" stroke="#ff0a0a" stroke-width="1.25" fill="none"/>
<rect x="120.98" y="240.26" width="6" height="6" fill="#ff0a0a"/>
<path d="M133.77 241.16V251.51M130.47 241.16h6.6M130.47 251.51h6.6" stroke="#ff0a0a" stroke-width="1.25" fill="none"/>
<rect x="130.77" y="243.34" width="6" height="6" fill="#ff0a0a"/>
<path d="M143.57 238.87V249.29M140.27 238.87h6.6M140.27 249.29h6.6" stroke="#ff0a0a" stroke-width="1.25" fill="none"/>
<rect x="140.57" y="241.08" width="6" height="6" fill="#ff0a0a"/>
<path d="M153.36 236.79V247.26M150.06 236.79h6.6M150.06 247.26h6.6" stroke="#ff0a0a" stroke-width="1.25" fill="none"/>
<rect x="150.36" y="239.02" width="6" height="6" fill="#ff0a0a"/>
<path d="M163.15 233.87V244.43M159.85 233.87h6.6M159.85 244.43h6.6" stroke="#ff0a0a" stroke-width="1.25" fill="none"/>
<rect x="160.15" y="236.15" width="6" height="6" fill="#ff0a0a"/>
<path d="M172.95 237.2V247.67M169.65 237.2h6.6M169.65 247.67h6.6" stroke="#ff0a0a" stroke-width="1.25" fill="none"/>
<rect x="169.95" y="239.43" width="6" height="6" fill="#ff0a0a"/>
<path d="M182.74 248.26V258.39M179.44 248.26h6.6M179.44 258.39h6.6" stroke="#ff0a0a" stroke-width="1.25" fill="none"/>
<rect x="179.74" y="250.32" width="6" height="6" fill="#ff0a0a"/>
<path d="M192.54 255.14V265.06M189.24 255.14h6.6M189.24 265.06h6.6" stroke="#ff0a0a" stroke-width="1.25" fill="none"/>
<rect x="189.54" y="257.1" width="6" height="6" fill="#ff0a0a"/>
<path d="M202.33 261.44V271.15M199.03 261.44h6.6M199.03 271.15h6.6" stroke="#ff0a0a" stroke-width="1.25" fill="none"/>
<rect x="199.33" y="263.29" width="6" height="6" fill="#ff0a0a"/>
<path d="M212.12 265.63V275.19M208.82 265.63h6.6M208.82 275.19h6.6" stroke="#ff0a0a" stroke-width="1.25" fill="none"/>
<rect x="209.12" y="267.41" width="6" height="6" fill="#ff0a0a"/>
<path d="M221.92 269.43V278.85M218.62 269.43h6.6M218.62 278.85h6.6" stroke="#ff0a0a" stroke-width="1.25" fill="none"/>
<rect x="218.92" y="271.14" width="6" height="6" fill="#ff0a0a"/>
<path d="M231.71 272.57V281.87M228.41 272.57h6.6M228.41 281.87h6.6" stroke="#ff0a0a" stroke-width="1.25" fill="none"/>
<rect x="228.71" y="274.22" width="6" height="6" fill="#ff0a0a"/>
<path d="M241.5 274.1V283.34M238.2 274.1h6.6M238.2 283.34h6.6" stroke="#ff0a0a" stroke-width="1.25" fill="none"/>
<rect x="238.5" y="275.72" width="6" height="6" fill="#ff0a0a"/>
<path d="M251.3 274.46V283.69M248 274.46h6.6M248 283.69h6.6" stroke="#ff0a0a" stroke-width="1.25" fill="none"/>
<rect x="248.3" y="276.08" width="6" height="6" fill="#ff0a0a"/>
<path d="M261.09 276.65V285.79M257.79 276.65h6.6M257.79 285.79h6.6" stroke="#ff0a0a" stroke-width="1.25" fill="none"/>
<rect x="258.09" y="278.22" width="6" height="6" fill="#ff0a0a"/>
<path d="M270.89 274.42V283.65M267.59 274.42h6.6M267.59 283.65h6.6" stroke="#ff0a0a" stroke-width="1.25" fill="none"/>
<rect x="267.89" y="276.03" width="6" height="6" fill="#ff0a0a"/>
<path d="M280.68 276.57V285.71M277.38 276.57h6.6M277.38 285.71h6.6" stroke="#ff0a0a" stroke-width="1.25" fill="none"/>
<rect x="277.68" y="278.14" width="6" height="6" fill="#ff0a0a"/>
<path d="M290.47 278.66V287.72M287.17 278.66h6.6M287.17 287.72h6.6" stroke="#ff0a0a" stroke-width="1.25" fill="none"/>
<rect x="287.47" y="280.19" width="6" height="6" fill="#ff0a0a"/>
<path d="M300.27 279.54V288.56M296.97 279.54h6.6M296.97 288.56h6.6" stroke="#ff0a0a" stroke-width="1.25" fill="none"/>
<rect x="297.27" y="281.05" width="6" height="6" fill="#ff0a0a"/>
<path d="M310.06 279.82V288.83M306.76 279.82h6.6M306.76 288.83h6.6" stroke="#ff0a0a" stroke-width="1.25" fill="none"/>
<rect x="307.06" y="281.33" width="6" height="6" fill="#ff0a0a"/>
<path d="M319.85 280.58V289.55M316.55 280.58h6.6M316.55 289.55h6.6" stroke="#ff0a0a" stroke-width="1.25" fill="none"/>
<rect x="316.85" y="282.07" width="6" height="6" fill="#ff0a0a"/>
<path d="M329.65 281.23V290.17M326.35 281.23h6.6M326.35 290.17h6.6" stroke="#ff0a0a" stroke-width="1.25" fill="none"/>
<rect x="326.65" y="282.7" width="6" height="6" fill="#ff0a0a"/>
<path d="M339.44 282.29V291.19M336.14 282.29h6.6M336.14 291.19h6.6" stroke="#ff0a0a" stroke-width="1.25" fill="none"/>
<rect x="336.44" y="283.74" width="6" height="6" fill="#ff0a0a"/>
<path d="M349.24 281.67V290.59M345.94 281.67h6.6M345.94 290.59h6.6" stroke="#ff0a0a" stroke-width="1.25" fill="none"/>
<rect x="346.24" y="283.13" width="6" height="6" fill="#ff0a0a"/>
<path d="M65.22 133.11V145.92M61.92 133.11h6.6M61.92 145.92h6.6" stroke="#ff7a1a" stroke-width="1.25" fill="none"/>
<circle cx="65.22" cy="139.52" r="3.1" fill="none" stroke="#ff7a1a" stroke-width="1.25"/>
<path d="M75.01 132.49V145.31M71.71 132.49h6.6M71.71 145.31h6.6" stroke="#ff7a1a" stroke-width="1.25" fill="none"/>
<circle cx="75.01" cy="138.9" r="3.1" fill="none" stroke="#ff7a1a" stroke-width="1.25"/>
<path d="M84.8 148.25V160.77M81.5 148.25h6.6M81.5 160.77h6.6" stroke="#ff7a1a" stroke-width="1.25" fill="none"/>
<circle cx="84.8" cy="154.51" r="3.1" fill="none" stroke="#ff7a1a" stroke-width="1.25"/>
<path d="M94.6 179.39V191.27M91.3 179.39h6.6M91.3 191.27h6.6" stroke="#ff7a1a" stroke-width="1.25" fill="none"/>
<circle cx="94.6" cy="185.33" r="3.1" fill="none" stroke="#ff7a1a" stroke-width="1.25"/>
<path d="M104.39 213.75V224.84M101.09 213.75h6.6M101.09 224.84h6.6" stroke="#ff7a1a" stroke-width="1.25" fill="none"/>
<circle cx="104.39" cy="219.29" r="3.1" fill="none" stroke="#ff7a1a" stroke-width="1.25"/>
<path d="M114.19 232.05V242.65M110.89 232.05h6.6M110.89 242.65h6.6" stroke="#ff7a1a" stroke-width="1.25" fill="none"/>
<circle cx="114.19" cy="237.35" r="3.1" fill="none" stroke="#ff7a1a" stroke-width="1.25"/>
<path d="M123.98 237.74V248.19M120.68 237.74h6.6M120.68 248.19h6.6" stroke="#ff7a1a" stroke-width="1.25" fill="none"/>
<circle cx="123.98" cy="242.97" r="3.1" fill="none" stroke="#ff7a1a" stroke-width="1.25"/>
<path d="M133.77 246.17V256.36M130.47 246.17h6.6M130.47 256.36h6.6" stroke="#ff7a1a" stroke-width="1.25" fill="none"/>
<circle cx="133.77" cy="251.27" r="3.1" fill="none" stroke="#ff7a1a" stroke-width="1.25"/>
<path d="M143.57 251.2V261.25M140.27 251.2h6.6M140.27 261.25h6.6" stroke="#ff7a1a" stroke-width="1.25" fill="none"/>
<circle cx="143.57" cy="256.23" r="3.1" fill="none" stroke="#ff7a1a" stroke-width="1.25"/>
<path d="M153.36 253.51V263.48M150.06 253.51h6.6M150.06 263.48h6.6" stroke="#ff7a1a" stroke-width="1.25" fill="none"/>
<circle cx="153.36" cy="258.49" r="3.1" fill="none" stroke="#ff7a1a" stroke-width="1.25"/>
<path d="M163.15 254.68V264.61M159.85 254.68h6.6M159.85 264.61h6.6" stroke="#ff7a1a" stroke-width="1.25" fill="none"/>
<circle cx="163.15" cy="259.65" r="3.1" fill="none" stroke="#ff7a1a" stroke-width="1.25"/>
<path d="M172.95 258.06V267.88M169.65 258.06h6.6M169.65 267.88h6.6" stroke="#ff7a1a" stroke-width="1.25" fill="none"/>
<circle cx="172.95" cy="262.97" r="3.1" fill="none" stroke="#ff7a1a" stroke-width="1.25"/>
<path d="M182.74 258.65V268.45M179.44 258.65h6.6M179.44 268.45h6.6" stroke="#ff7a1a" stroke-width="1.25" fill="none"/>
<circle cx="182.74" cy="263.55" r="3.1" fill="none" stroke="#ff7a1a" stroke-width="1.25"/>
<path d="M192.54 262.41V272.08M189.24 262.41h6.6M189.24 272.08h6.6" stroke="#ff7a1a" stroke-width="1.25" fill="none"/>
<circle cx="192.54" cy="267.25" r="3.1" fill="none" stroke="#ff7a1a" stroke-width="1.25"/>
<path d="M202.33 262.4V272.07M199.03 262.4h6.6M199.03 272.07h6.6" stroke="#ff7a1a" stroke-width="1.25" fill="none"/>
<circle cx="202.33" cy="267.23" r="3.1" fill="none" stroke="#ff7a1a" stroke-width="1.25"/>
<path d="M212.12 265.09V274.67M208.82 265.09h6.6M208.82 274.67h6.6" stroke="#ff7a1a" stroke-width="1.25" fill="none"/>
<circle cx="212.12" cy="269.88" r="3.1" fill="none" stroke="#ff7a1a" stroke-width="1.25"/>
<path d="M221.92 266.45V275.98M218.62 266.45h6.6M218.62 275.98h6.6" stroke="#ff7a1a" stroke-width="1.25" fill="none"/>
<circle cx="221.92" cy="271.21" r="3.1" fill="none" stroke="#ff7a1a" stroke-width="1.25"/>
<path d="M231.71 271.1V280.46M228.41 271.1h6.6M228.41 280.46h6.6" stroke="#ff7a1a" stroke-width="1.25" fill="none"/>
<circle cx="231.71" cy="275.78" r="3.1" fill="none" stroke="#ff7a1a" stroke-width="1.25"/>
<path d="M241.5 271.71V281.05M238.2 271.71h6.6M238.2 281.05h6.6" stroke="#ff7a1a" stroke-width="1.25" fill="none"/>
<circle cx="241.5" cy="276.38" r="3.1" fill="none" stroke="#ff7a1a" stroke-width="1.25"/>
<path d="M251.3 272.46V281.76M248 272.46h6.6M248 281.76h6.6" stroke="#ff7a1a" stroke-width="1.25" fill="none"/>
<circle cx="251.3" cy="277.11" r="3.1" fill="none" stroke="#ff7a1a" stroke-width="1.25"/>
<path d="M261.09 274.59V283.81M257.79 274.59h6.6M257.79 283.81h6.6" stroke="#ff7a1a" stroke-width="1.25" fill="none"/>
<circle cx="261.09" cy="279.2" r="3.1" fill="none" stroke="#ff7a1a" stroke-width="1.25"/>
<path d="M270.89 275.71V284.88M267.59 275.71h6.6M267.59 284.88h6.6" stroke="#ff7a1a" stroke-width="1.25" fill="none"/>
<circle cx="270.89" cy="280.3" r="3.1" fill="none" stroke="#ff7a1a" stroke-width="1.25"/>
<path d="M280.68 277.2V286.31M277.38 277.2h6.6M277.38 286.31h6.6" stroke="#ff7a1a" stroke-width="1.25" fill="none"/>
<circle cx="280.68" cy="281.75" r="3.1" fill="none" stroke="#ff7a1a" stroke-width="1.25"/>
<path d="M290.47 274.51V283.73M287.17 274.51h6.6M287.17 283.73h6.6" stroke="#ff7a1a" stroke-width="1.25" fill="none"/>
<circle cx="290.47" cy="279.12" r="3.1" fill="none" stroke="#ff7a1a" stroke-width="1.25"/>
<path d="M300.27 276.23V285.38M296.97 276.23h6.6M296.97 285.38h6.6" stroke="#ff7a1a" stroke-width="1.25" fill="none"/>
<circle cx="300.27" cy="280.81" r="3.1" fill="none" stroke="#ff7a1a" stroke-width="1.25"/>
<path d="M310.06 278.68V287.73M306.76 278.68h6.6M306.76 287.73h6.6" stroke="#ff7a1a" stroke-width="1.25" fill="none"/>
<circle cx="310.06" cy="283.21" r="3.1" fill="none" stroke="#ff7a1a" stroke-width="1.25"/>
<path d="M319.85 277.13V286.25M316.55 277.13h6.6M316.55 286.25h6.6" stroke="#ff7a1a" stroke-width="1.25" fill="none"/>
<circle cx="319.85" cy="281.69" r="3.1" fill="none" stroke="#ff7a1a" stroke-width="1.25"/>
<path d="M329.65 280.26V289.24M326.35 280.26h6.6M326.35 289.24h6.6" stroke="#ff7a1a" stroke-width="1.25" fill="none"/>
<circle cx="329.65" cy="284.75" r="3.1" fill="none" stroke="#ff7a1a" stroke-width="1.25"/>
<path d="M339.44 280.77V289.73M336.14 280.77h6.6M336.14 289.73h6.6" stroke="#ff7a1a" stroke-width="1.25" fill="none"/>
<circle cx="339.44" cy="285.25" r="3.1" fill="none" stroke="#ff7a1a" stroke-width="1.25"/>
<path d="M349.24 277.46V286.56M345.94 277.46h6.6M345.94 286.56h6.6" stroke="#ff7a1a" stroke-width="1.25" fill="none"/>
<circle cx="349.24" cy="282.01" r="3.1" fill="none" stroke="#ff7a1a" stroke-width="1.25"/>
<path d="M65.22 135.81V148.56M61.92 135.81h6.6M61.92 148.56h6.6" stroke="#2f9a50" stroke-width="1.25" fill="none"/>
<path d="M65.22 137.39L69.12 142.19L65.22 146.99L61.32 142.19Z" fill="#2f9a50"/>
<path d="M75.01 143.69V156.29M71.71 143.69h6.6M71.71 156.29h6.6" stroke="#2f9a50" stroke-width="1.25" fill="none"/>
<path d="M75.01 145.19L78.91 149.99L75.01 154.79L71.11 149.99Z" fill="#2f9a50"/>
<path d="M84.8 160.08V172.36M81.5 160.08h6.6M81.5 172.36h6.6" stroke="#2f9a50" stroke-width="1.25" fill="none"/>
<path d="M84.8 161.42L88.7 166.22L84.8 171.02L80.9 166.22Z" fill="#2f9a50"/>
<path d="M94.6 191.64V203.25M91.3 191.64h6.6M91.3 203.25h6.6" stroke="#2f9a50" stroke-width="1.25" fill="none"/>
<path d="M94.6 192.65L98.5 197.45L94.6 202.25L90.7 197.45Z" fill="#2f9a50"/>
<path d="M104.39 228.45V239.16M101.09 228.45h6.6M101.09 239.16h6.6" stroke="#2f9a50" stroke-width="1.25" fill="none"/>
<path d="M104.39 229.01L108.29 233.81L104.39 238.61L100.49 233.81Z" fill="#2f9a50"/>
<path d="M114.19 233.45V244.02M110.89 233.45h6.6M110.89 244.02h6.6" stroke="#2f9a50" stroke-width="1.25" fill="none"/>
<path d="M114.19 233.94L118.09 238.74L114.19 243.54L110.29 238.74Z" fill="#2f9a50"/>
<path d="M123.98 245.33V255.56M120.68 245.33h6.6M120.68 255.56h6.6" stroke="#2f9a50" stroke-width="1.25" fill="none"/>
<path d="M123.98 245.65L127.88 250.45L123.98 255.25L120.08 250.45Z" fill="#2f9a50"/>
<path d="M133.77 249.51V259.6M130.47 249.51h6.6M130.47 259.6h6.6" stroke="#2f9a50" stroke-width="1.25" fill="none"/>
<path d="M133.77 249.76L137.67 254.56L133.77 259.36L129.87 254.56Z" fill="#2f9a50"/>
<path d="M143.57 253.98V263.93M140.27 253.98h6.6M140.27 263.93h6.6" stroke="#2f9a50" stroke-width="1.25" fill="none"/>
<path d="M143.57 254.16L147.47 258.96L143.57 263.76L139.67 258.96Z" fill="#2f9a50"/>
<path d="M153.36 253.1V263.08M150.06 253.1h6.6M150.06 263.08h6.6" stroke="#2f9a50" stroke-width="1.25" fill="none"/>
<path d="M153.36 253.29L157.26 258.09L153.36 262.89L149.46 258.09Z" fill="#2f9a50"/>
<path d="M163.15 256.81V266.68M159.85 256.81h6.6M159.85 266.68h6.6" stroke="#2f9a50" stroke-width="1.25" fill="none"/>
<path d="M163.15 256.95L167.05 261.75L163.15 266.55L159.25 261.75Z" fill="#2f9a50"/>
<path d="M172.95 261.83V271.52M169.65 261.83h6.6M169.65 271.52h6.6" stroke="#2f9a50" stroke-width="1.25" fill="none"/>
<path d="M172.95 261.88L176.85 266.68L172.95 271.48L169.05 266.68Z" fill="#2f9a50"/>
<path d="M182.74 258.9V268.7M179.44 258.9h6.6M179.44 268.7h6.6" stroke="#2f9a50" stroke-width="1.25" fill="none"/>
<path d="M182.74 259L186.64 263.8L182.74 268.6L178.84 263.8Z" fill="#2f9a50"/>
<path d="M192.54 262.87V272.53M189.24 262.87h6.6M189.24 272.53h6.6" stroke="#2f9a50" stroke-width="1.25" fill="none"/>
<path d="M192.54 262.9L196.44 267.7L192.54 272.5L188.64 267.7Z" fill="#2f9a50"/>
<path d="M202.33 267.48V276.97M199.03 267.48h6.6M199.03 276.97h6.6" stroke="#2f9a50" stroke-width="1.25" fill="none"/>
<path d="M202.33 267.42L206.23 272.22L202.33 277.02L198.43 272.22Z" fill="#2f9a50"/>
<path d="M212.12 265.17V274.75M208.82 265.17h6.6M208.82 274.75h6.6" stroke="#2f9a50" stroke-width="1.25" fill="none"/>
<path d="M212.12 265.16L216.02 269.96L212.12 274.76L208.22 269.96Z" fill="#2f9a50"/>
<path d="M221.92 267.48V276.97M218.62 267.48h6.6M218.62 276.97h6.6" stroke="#2f9a50" stroke-width="1.25" fill="none"/>
<path d="M221.92 267.42L225.82 272.22L221.92 277.02L218.02 272.22Z" fill="#2f9a50"/>
<path d="M231.71 271.03V280.39M228.41 271.03h6.6M228.41 280.39h6.6" stroke="#2f9a50" stroke-width="1.25" fill="none"/>
<path d="M231.71 270.91L235.61 275.71L231.71 280.51L227.81 275.71Z" fill="#2f9a50"/>
<path d="M241.5 269.06V278.5M238.2 269.06h6.6M238.2 278.5h6.6" stroke="#2f9a50" stroke-width="1.25" fill="none"/>
<path d="M241.5 268.98L245.4 273.78L241.5 278.58L237.6 273.78Z" fill="#2f9a50"/>
<path d="M251.3 273.3V282.57M248 273.3h6.6M248 282.57h6.6" stroke="#2f9a50" stroke-width="1.25" fill="none"/>
<path d="M251.3 273.14L255.2 277.94L251.3 282.74L247.4 277.94Z" fill="#2f9a50"/>
<path d="M261.09 273.44V282.71M257.79 273.44h6.6M257.79 282.71h6.6" stroke="#2f9a50" stroke-width="1.25" fill="none"/>
<path d="M261.09 273.27L264.99 278.07L261.09 282.87L257.19 278.07Z" fill="#2f9a50"/>
<path d="M270.89 273.07V282.35M267.59 273.07h6.6M267.59 282.35h6.6" stroke="#2f9a50" stroke-width="1.25" fill="none"/>
<path d="M270.89 272.91L274.79 277.71L270.89 282.51L266.99 277.71Z" fill="#2f9a50"/>
<path d="M280.68 272.82V282.11M277.38 272.82h6.6M277.38 282.11h6.6" stroke="#2f9a50" stroke-width="1.25" fill="none"/>
<path d="M280.68 272.66L284.58 277.46L280.68 282.26L276.78 277.46Z" fill="#2f9a50"/>
<path d="M290.47 273.42V282.69M287.17 273.42h6.6M287.17 282.69h6.6" stroke="#2f9a50" stroke-width="1.25" fill="none"/>
<path d="M290.47 273.25L294.37 278.05L290.47 282.85L286.57 278.05Z" fill="#2f9a50"/>
<path d="M300.27 277.82V286.91M296.97 277.82h6.6M296.97 286.91h6.6" stroke="#2f9a50" stroke-width="1.25" fill="none"/>
<path d="M300.27 277.56L304.17 282.36L300.27 287.16L296.37 282.36Z" fill="#2f9a50"/>
<path d="M310.06 277.52V286.62M306.76 277.52h6.6M306.76 286.62h6.6" stroke="#2f9a50" stroke-width="1.25" fill="none"/>
<path d="M310.06 277.27L313.96 282.07L310.06 286.87L306.16 282.07Z" fill="#2f9a50"/>
<path d="M319.85 278.53V287.58M316.55 278.53h6.6M316.55 287.58h6.6" stroke="#2f9a50" stroke-width="1.25" fill="none"/>
<path d="M319.85 278.26L323.75 283.06L319.85 287.86L315.95 283.06Z" fill="#2f9a50"/>
<path d="M329.65 278.12V287.19M326.35 278.12h6.6M326.35 287.19h6.6" stroke="#2f9a50" stroke-width="1.25" fill="none"/>
<path d="M329.65 277.86L333.55 282.66L329.65 287.46L325.75 282.66Z" fill="#2f9a50"/>
<path d="M339.44 276.71V285.84M336.14 276.71h6.6M336.14 285.84h6.6" stroke="#2f9a50" stroke-width="1.25" fill="none"/>
<path d="M339.44 276.48L343.34 281.28L339.44 286.08L335.54 281.28Z" fill="#2f9a50"/>
<path d="M349.24 278.07V287.15M345.94 278.07h6.6M345.94 287.15h6.6" stroke="#2f9a50" stroke-width="1.25" fill="none"/>
<path d="M349.24 277.81L353.14 282.61L349.24 287.41L345.34 282.61Z" fill="#2f9a50"/>
<path d="M401.8 245.8L402.63 245.74L403.46 245.67L404.29 245.58L405.13 245.48L405.96 245.36L406.79 245.23L407.62 245.09L408.45 244.94L409.28 244.78L410.12 244.61L410.95 244.44L411.78 244.26L412.61 244.07L413.44 243.87L414.27 243.68L415.1 243.47L415.94 243.26L416.77 243.04L417.6 242.8L418.43 242.54L419.26 242.27L420.09 241.98L420.92 241.67L421.76 241.35L422.59 241L423.42 240.64L424.25 240.26L425.08 239.86L425.91 239.44L426.75 239L427.58 238.54L428.41 238.05L429.24 237.47L430.07 236.79L430.9 236.05L431.73 235.25L432.57 234.41L433.4 233.55L434.23 232.69L435.06 231.83L435.89 230.97L436.72 230.09L437.56 229.18L438.39 228.23L439.22 227.23L440.05 226.16L440.88 225.01L441.71 223.77L442.54 222.4L443.38 220.9L444.21 219.28L445.04 217.55L445.87 215.71L446.7 213.78L447.53 211.7L448.37 209.4L449.2 206.91L450.03 204.26L450.86 201.5L451.69 198.65L452.52 195.7L453.35 192.54L454.19 189.06L455.02 185.14L455.85 180.6L456.68 175.49L457.51 169.92L458.34 163.45L459.17 156.28L460.01 149.35L460.84 142.99L461.67 136.84L462.5 130.8L463.33 124.76L464.16 118.58L465 112.35L465.83 106.35L466.66 100.86L467.49 95.7L468.32 90.73L469.15 86.31L469.98 82.85L470.82 80.1L471.65 77.66L472.48 75.74L473.31 74.59L474.14 73.94L474.97 73.54L475.81 73.85L476.64 75.61L477.47 78.1L478.3 81.18L479.13 85.52L479.96 90.69L480.79 96.25L481.63 101.94L482.46 108.23L483.29 115.09L484.12 122.43L484.95 130.26L485.78 138.84L486.61 148.37L487.45 160.17L488.28 172.42L489.11 181.02L489.94 188.09L490.77 194.22L491.6 199.79L492.44 204.94L493.27 209.65L494.1 213.91L494.93 217.71L495.76 221.23L496.59 224.44L497.42 227.24L498.26 229.56L499.09 231.54L499.92 233.29L500.75 234.87L501.58 236.36L502.41 237.82L503.25 239.28L504.08 240.7L504.91 242.06L505.74 243.37L506.57 244.6L507.4 245.74L508.23 246.79L509.07 247.77L509.9 248.71L510.73 249.6L511.56 250.44L512.39 251.25L513.22 252.01L514.06 252.73L514.89 253.41L515.72 254.06L516.55 254.7L517.38 255.32L518.21 255.93L519.04 256.51L519.88 257.06L520.71 257.59L521.54 258.09L522.37 258.55L523.2 258.97L524.03 259.35L524.86 259.69L525.7 260.01L526.53 260.33L527.36 260.63L528.19 260.92L529.02 261.2L529.85 261.47L530.69 261.73L531.52 261.98L532.35 262.22L533.18 262.45L534.01 262.68L534.84 262.89L535.67 263.1L536.51 263.3L537.34 263.5L538.17 263.68L539 263.86L539.83 264.04L540.66 264.2L541.5 264.37L542.33 264.52L543.16 264.68L543.99 264.82L544.82 264.97L545.65 265.11L546.48 265.24L547.32 265.37L548.15 265.5L548.98 265.62L549.81 265.74L550.64 265.86L551.47 265.97L552.3 266.08L553.14 266.19L553.97 266.29L554.8 266.4L555.63 266.5L556.46 266.6L557.29 266.69L558.13 266.79L558.96 266.88L559.79 266.98L560.62 267.07L561.45 267.16L562.28 267.25L563.11 267.34L563.95 267.42L564.78 267.51L565.61 267.59L566.44 267.68L567.27 267.76L568.1 267.84L568.94 267.92L569.77 268L570.6 268.08L571.43 268.15L572.26 268.23L573.09 268.31L573.92 268.38L574.76 268.45L575.59 268.53L576.42 268.6L577.25 268.67L578.08 268.74L578.91 268.81L579.74 268.88L580.58 268.95L581.41 269.02L582.24 269.09L583.07 269.15L583.9 269.22L584.73 269.29L585.57 269.36L586.4 269.42L587.23 269.49L588.06 269.55L588.89 269.62L589.72 269.69L590.55 269.75L591.39 269.82L592.22 269.88L593.05 269.95L593.88 270.01L594.71 270.08L595.54 270.14L596.38 270.21L597.21 270.28L598.04 270.34L598.87 270.41L599.7 270.48L600.53 270.54L601.36 270.61L602.2 270.68L603.03 270.74L603.86 270.81L604.69 270.88L605.52 270.94L606.35 271.01L607.19 271.08L608.02 271.14L608.85 271.21L609.68 271.27L610.51 271.34L611.34 271.41L612.17 271.47L613.01 271.54L613.84 271.6L614.67 271.67L615.5 271.73L616.33 271.8L617.16 271.86L617.99 271.92L618.83 271.99L619.66 272.05L620.49 272.11L621.32 272.18L622.15 272.24L622.98 272.3L623.82 272.36L624.65 272.42L625.48 272.49L626.31 272.55L627.14 272.61L627.97 272.67L628.8 272.73L629.64 272.79L630.47 272.85L631.3 272.91L632.13 272.96L632.96 273.02L633.79 273.08L634.63 273.14L635.46 273.2L636.29 273.25L637.12 273.31L637.95 273.36L638.78 273.42L639.61 273.47L640.45 273.53L641.28 273.58L642.11 273.64L642.94 273.69L643.77 273.75L644.6 273.8L645.43 273.85L646.27 273.91L647.1 273.96L647.93 274.01L648.76 274.07L649.59 274.12L650.42 274.17L651.26 274.22L652.09 274.27L652.92 274.33L653.75 274.38L654.58 274.43L655.41 274.48L656.24 274.53L657.08 274.58L657.91 274.63L658.74 274.68L659.57 274.73L660.4 274.78L661.23 274.83L662.07 274.88L662.9 274.93L663.73 274.98L664.56 275.03L665.39 275.08L666.22 275.13L667.05 275.18L667.89 275.22L668.72 275.27L669.55 275.32L670.38 275.37L671.21 275.41L672.04 275.46L672.88 275.51L673.71 275.55L674.54 275.6L675.37 275.64L676.2 275.69L677.03 275.73L677.86 275.78L678.7 275.82L679.53 275.87L680.36 275.91L681.19 275.96L682.02 276L682.85 276.04L683.68 276.09L684.52 276.13L685.35 276.17L686.18 276.21L687.01 276.26L687.84 276.3L688.67 276.34L689.51 276.38L690.34 276.42L691.17 276.46L692 276.5" stroke="#0000f5" stroke-width="2.0" fill="none" stroke-linejoin="round"/>
<path d="M401.8 261.2L402.63 261.2L403.47 261.2L404.3 261.19L405.13 261.19L405.96 261.18L406.8 261.18L407.63 261.17L408.46 261.16L409.3 261.15L410.13 261.14L410.96 261.13L411.8 261.11L412.63 261.1L413.46 261.08L414.29 261.06L415.13 261.04L415.96 261.02L416.79 261L417.63 260.98L418.46 260.96L419.29 260.93L420.12 260.9L420.96 260.88L421.79 260.85L422.62 260.82L423.46 260.79L424.29 260.76L425.12 260.72L425.96 260.69L426.79 260.65L427.62 260.62L428.45 260.58L429.29 260.51L430.12 260.43L430.95 260.33L431.79 260.21L432.62 260.07L433.45 259.92L434.28 259.75L435.12 259.57L435.95 259.39L436.78 259.19L437.62 258.98L438.45 258.77L439.28 258.55L440.12 258.3L440.95 258.02L441.78 257.7L442.61 257.35L443.45 256.97L444.28 256.57L445.11 256.15L445.95 255.71L446.78 255.25L447.61 254.79L448.45 254.31L449.28 253.83L450.11 253.35L450.94 252.87L451.78 252.38L452.61 251.88L453.44 251.35L454.28 250.8L455.11 250.21L455.94 249.58L456.77 248.9L457.61 248.17L458.44 247.36L459.27 246.42L460.11 245.35L460.94 244.19L461.77 242.93L462.61 241.62L463.44 240.27L464.27 238.85L465.1 237.31L465.94 235.66L466.77 233.94L467.6 232.16L468.44 230.35L469.27 228.53L470.1 226.7L470.93 224.83L471.77 222.91L472.6 220.93L473.43 218.88L474.27 216.75L475.1 214.51L475.93 212.12L476.77 209.6L477.6 207L478.43 204.34L479.26 201.67L480.1 199L480.93 196.28L481.76 193.42L482.6 190.35L483.43 186.92L484.26 183.27L485.09 179.66L485.93 176.22L486.76 172.64L487.59 169.57L488.43 167.57L489.26 165.86L490.09 164.57L490.93 164L491.76 164.08L492.59 164.31L493.42 164.68L494.26 165.21L495.09 166.6L495.92 168.76L496.76 171.26L497.59 173.99L498.42 177.41L499.25 181.3L500.09 185.36L500.92 189.31L501.75 192.95L502.59 196.46L503.42 199.93L504.25 203.4L505.09 206.92L505.92 210.52L506.75 214.38L507.58 218.41L508.42 222.39L509.25 226.09L510.08 229.29L510.92 232.18L511.75 234.94L512.58 237.54L513.42 239.94L514.25 242.09L515.08 243.98L515.91 245.57L516.75 247.04L517.58 248.43L518.41 249.73L519.25 250.95L520.08 252.08L520.91 253.12L521.74 254.08L522.58 254.94L523.41 255.71L524.24 256.38L525.08 256.98L525.91 257.55L526.74 258.1L527.58 258.61L528.41 259.1L529.24 259.56L530.07 259.99L530.91 260.4L531.74 260.79L532.57 261.16L533.41 261.5L534.24 261.83L535.07 262.13L535.9 262.42L536.74 262.68L537.57 262.93L538.4 263.17L539.24 263.4L540.07 263.62L540.9 263.83L541.74 264.03L542.57 264.23L543.4 264.42L544.23 264.6L545.07 264.77L545.9 264.94L546.73 265.1L547.57 265.26L548.4 265.41L549.23 265.55L550.06 265.69L550.9 265.83L551.73 265.95L552.56 266.08L553.4 266.2L554.23 266.32L555.06 266.43L555.9 266.54L556.73 266.65L557.56 266.75L558.39 266.85L559.23 266.95L560.06 267.05L560.89 267.15L561.73 267.24L562.56 267.33L563.39 267.43L564.22 267.51L565.06 267.6L565.89 267.69L566.72 267.77L567.56 267.85L568.39 267.94L569.22 268.02L570.06 268.09L570.89 268.17L571.72 268.25L572.55 268.32L573.39 268.4L574.22 268.47L575.05 268.54L575.89 268.61L576.72 268.68L577.55 268.75L578.38 268.82L579.22 268.89L580.05 268.95L580.88 269.02L581.72 269.08L582.55 269.15L583.38 269.21L584.22 269.28L585.05 269.34L585.88 269.41L586.71 269.47L587.55 269.53L588.38 269.6L589.21 269.66L590.05 269.72L590.88 269.79L591.71 269.85L592.55 269.91L593.38 269.98L594.21 270.04L595.04 270.11L595.88 270.17L596.71 270.24L597.54 270.3L598.38 270.37L599.21 270.44L600.04 270.5L600.87 270.57L601.71 270.64L602.54 270.71L603.37 270.77L604.21 270.84L605.04 270.91L605.87 270.98L606.71 271.04L607.54 271.11L608.37 271.17L609.2 271.24L610.04 271.31L610.87 271.37L611.7 271.44L612.54 271.5L613.37 271.57L614.2 271.63L615.03 271.7L615.87 271.76L616.7 271.82L617.53 271.89L618.37 271.95L619.2 272.01L620.03 272.08L620.87 272.14L621.7 272.2L622.53 272.26L623.36 272.33L624.2 272.39L625.03 272.45L625.86 272.51L626.7 272.57L627.53 272.63L628.36 272.69L629.19 272.75L630.03 272.81L630.86 272.87L631.69 272.93L632.53 272.99L633.36 273.05L634.19 273.1L635.03 273.16L635.86 273.22L636.69 273.28L637.52 273.33L638.36 273.39L639.19 273.45L640.02 273.5L640.86 273.56L641.69 273.61L642.52 273.67L643.35 273.72L644.19 273.78L645.02 273.83L645.85 273.89L646.69 273.94L647.52 274L648.35 274.05L649.19 274.11L650.02 274.16L650.85 274.21L651.68 274.27L652.52 274.32L653.35 274.37L654.18 274.43L655.02 274.48L655.85 274.53L656.68 274.58L657.52 274.64L658.35 274.69L659.18 274.74L660.01 274.79L660.85 274.84L661.68 274.89L662.51 274.94L663.35 275L664.18 275.05L665.01 275.1L665.84 275.15L666.68 275.2L667.51 275.25L668.34 275.3L669.18 275.34L670.01 275.39L670.84 275.44L671.68 275.49L672.51 275.54L673.34 275.59L674.17 275.64L675.01 275.68L675.84 275.73L676.67 275.78L677.51 275.83L678.34 275.87L679.17 275.92L680 275.96L680.84 276.01L681.67 276.06L682.5 276.1L683.34 276.15L684.17 276.19L685 276.24L685.84 276.28L686.67 276.33L687.5 276.37L688.33 276.41L689.17 276.46L690 276.5" stroke="#9400f0" stroke-width="2.0" fill="none" stroke-linejoin="round"/>
<path d="M401.8 264.6L402.63 264.6L403.47 264.6L404.3 264.6L405.13 264.59L405.96 264.59L406.8 264.59L407.63 264.58L408.46 264.58L409.3 264.57L410.13 264.57L410.96 264.56L411.8 264.55L412.63 264.55L413.46 264.54L414.29 264.53L415.13 264.52L415.96 264.51L416.79 264.5L417.63 264.49L418.46 264.47L419.29 264.46L420.12 264.45L420.96 264.44L421.79 264.42L422.62 264.41L423.46 264.39L424.29 264.38L425.12 264.36L425.96 264.34L426.79 264.33L427.62 264.31L428.45 264.29L429.29 264.26L430.12 264.23L430.95 264.18L431.79 264.13L432.62 264.07L433.45 264.01L434.28 263.93L435.12 263.86L435.95 263.77L436.78 263.68L437.62 263.59L438.45 263.48L439.28 263.38L440.12 263.27L440.95 263.16L441.78 263.04L442.61 262.92L443.45 262.79L444.28 262.66L445.11 262.53L445.95 262.38L446.78 262.2L447.61 262L448.45 261.79L449.28 261.55L450.11 261.31L450.94 261.05L451.78 260.78L452.61 260.5L453.44 260.22L454.28 259.93L455.11 259.64L455.94 259.35L456.77 259.06L457.61 258.75L458.44 258.44L459.27 258.12L460.11 257.78L460.94 257.42L461.77 257.05L462.61 256.66L463.44 256.26L464.27 255.83L465.1 255.38L465.94 254.9L466.77 254.39L467.6 253.85L468.44 253.27L469.27 252.66L470.1 252.01L470.93 251.32L471.77 250.59L472.6 249.81L473.43 248.94L474.27 247.97L475.1 246.91L475.93 245.79L476.77 244.6L477.6 243.38L478.43 242.12L479.26 240.85L480.1 239.52L480.93 238.12L481.76 236.66L482.6 235.14L483.43 233.57L484.26 231.96L485.09 230.31L485.93 228.58L486.76 226.78L487.59 224.92L488.43 223.03L489.26 221.1L490.09 219.15L490.93 217.16L491.76 215.07L492.59 212.95L493.42 210.85L494.26 208.83L495.09 206.9L495.92 204.91L496.76 202.93L497.59 201.09L498.42 199.51L499.25 198.3L500.09 197.23L500.92 196.21L501.75 195.33L502.59 194.7L503.42 194.41L504.25 194.46L505.09 194.67L505.92 195.03L506.75 195.5L507.58 196.06L508.42 197.23L509.25 199.11L510.08 201.4L510.92 203.77L511.75 206.25L512.58 209.12L513.42 212.21L514.25 215.33L515.08 218.3L515.91 220.97L516.75 223.48L517.58 225.9L518.41 228.23L519.25 230.49L520.08 232.71L520.91 234.92L521.74 237.12L522.58 239.24L523.41 241.22L524.24 242.99L525.08 244.59L525.91 246.14L526.74 247.64L527.58 249.09L528.41 250.47L529.24 251.77L530.07 252.99L530.91 254.11L531.74 255.12L532.57 256.02L533.41 256.79L534.24 257.49L535.07 258.16L535.9 258.79L536.74 259.39L537.57 259.95L538.4 260.48L539.24 260.97L540.07 261.44L540.9 261.86L541.74 262.26L542.57 262.62L543.4 262.95L544.23 263.25L545.07 263.51L545.9 263.77L546.73 264.02L547.57 264.25L548.4 264.47L549.23 264.69L550.06 264.89L550.9 265.08L551.73 265.26L552.56 265.44L553.4 265.61L554.23 265.77L555.06 265.92L555.9 266.07L556.73 266.2L557.56 266.34L558.39 266.47L559.23 266.59L560.06 266.71L560.89 266.82L561.73 266.94L562.56 267.05L563.39 267.15L564.22 267.26L565.06 267.36L565.89 267.46L566.72 267.56L567.56 267.66L568.39 267.75L569.22 267.84L570.06 267.93L570.89 268.02L571.72 268.11L572.55 268.19L573.39 268.27L574.22 268.36L575.05 268.44L575.89 268.51L576.72 268.59L577.55 268.67L578.38 268.74L579.22 268.81L580.05 268.89L580.88 268.96L581.72 269.03L582.55 269.1L583.38 269.17L584.22 269.24L585.05 269.3L585.88 269.37L586.71 269.44L587.55 269.5L588.38 269.57L589.21 269.64L590.05 269.7L590.88 269.77L591.71 269.83L592.55 269.9L593.38 269.96L594.21 270.03L595.04 270.1L595.88 270.16L596.71 270.23L597.54 270.3L598.38 270.37L599.21 270.43L600.04 270.5L600.87 270.57L601.71 270.64L602.54 270.71L603.37 270.78L604.21 270.85L605.04 270.92L605.87 270.98L606.71 271.05L607.54 271.12L608.37 271.19L609.2 271.25L610.04 271.32L610.87 271.38L611.7 271.45L612.54 271.51L613.37 271.58L614.2 271.64L615.03 271.71L615.87 271.77L616.7 271.84L617.53 271.9L618.37 271.96L619.2 272.02L620.03 272.09L620.87 272.15L621.7 272.21L622.53 272.27L623.36 272.33L624.2 272.39L625.03 272.46L625.86 272.52L626.7 272.58L627.53 272.64L628.36 272.7L629.19 272.75L630.03 272.81L630.86 272.87L631.69 272.93L632.53 272.99L633.36 273.05L634.19 273.1L635.03 273.16L635.86 273.22L636.69 273.28L637.52 273.33L638.36 273.39L639.19 273.45L640.02 273.5L640.86 273.56L641.69 273.61L642.52 273.67L643.35 273.72L644.19 273.78L645.02 273.83L645.85 273.89L646.69 273.94L647.52 274L648.35 274.05L649.19 274.11L650.02 274.16L650.85 274.21L651.68 274.27L652.52 274.32L653.35 274.37L654.18 274.43L655.02 274.48L655.85 274.53L656.68 274.58L657.52 274.64L658.35 274.69L659.18 274.74L660.01 274.79L660.85 274.84L661.68 274.89L662.51 274.94L663.35 275L664.18 275.05L665.01 275.1L665.84 275.15L666.68 275.2L667.51 275.25L668.34 275.3L669.18 275.34L670.01 275.39L670.84 275.44L671.68 275.49L672.51 275.54L673.34 275.59L674.17 275.64L675.01 275.68L675.84 275.73L676.67 275.78L677.51 275.83L678.34 275.87L679.17 275.92L680 275.96L680.84 276.01L681.67 276.06L682.5 276.1L683.34 276.15L684.17 276.19L685 276.24L685.84 276.28L686.67 276.33L687.5 276.37L688.33 276.41L689.17 276.46L690 276.5" stroke="#ff1f8f" stroke-width="2.0" fill="none" stroke-linejoin="round"/>
<path d="M401.8 266.9L402.63 266.9L403.47 266.9L404.3 266.9L405.13 266.9L405.96 266.9L406.8 266.9L407.63 266.89L408.46 266.89L409.3 266.89L410.13 266.89L410.96 266.89L411.8 266.88L412.63 266.88L413.46 266.88L414.29 266.88L415.13 266.87L415.96 266.87L416.79 266.87L417.63 266.86L418.46 266.86L419.29 266.85L420.12 266.85L420.96 266.85L421.79 266.84L422.62 266.84L423.46 266.83L424.29 266.83L425.12 266.82L425.96 266.81L426.79 266.81L427.62 266.8L428.45 266.8L429.29 266.78L430.12 266.77L430.95 266.74L431.79 266.72L432.62 266.68L433.45 266.65L434.28 266.6L435.12 266.56L435.95 266.51L436.78 266.45L437.62 266.4L438.45 266.33L439.28 266.27L440.12 266.2L440.95 266.13L441.78 266.06L442.61 265.98L443.45 265.9L444.28 265.82L445.11 265.74L445.95 265.65L446.78 265.57L447.61 265.48L448.45 265.39L449.28 265.3L450.11 265.21L450.94 265.11L451.78 265.01L452.61 264.9L453.44 264.77L454.28 264.64L455.11 264.5L455.94 264.35L456.77 264.19L457.61 264.03L458.44 263.86L459.27 263.68L460.11 263.49L460.94 263.29L461.77 263.09L462.61 262.88L463.44 262.66L464.27 262.44L465.1 262.21L465.94 261.98L466.77 261.74L467.6 261.48L468.44 261.21L469.27 260.91L470.1 260.59L470.93 260.24L471.77 259.88L472.6 259.5L473.43 259.11L474.27 258.69L475.1 258.27L475.93 257.83L476.77 257.38L477.6 256.92L478.43 256.45L479.26 255.94L480.1 255.39L480.93 254.81L481.76 254.21L482.6 253.58L483.43 252.94L484.26 252.3L485.09 251.65L485.93 251L486.76 250.35L487.59 249.69L488.43 249.02L489.26 248.33L490.09 247.63L490.93 246.91L491.76 246.18L492.59 245.43L493.42 244.66L494.26 243.88L495.09 243.09L495.92 242.27L496.76 241.43L497.59 240.56L498.42 239.66L499.25 238.72L500.09 237.73L500.92 236.68L501.75 235.58L502.59 234.46L503.42 233.31L504.25 232.15L505.09 230.99L505.92 229.84L506.75 228.59L507.58 227.26L508.42 225.91L509.25 224.64L510.08 223.52L510.92 222.65L511.75 221.99L512.58 221.36L513.42 220.76L514.25 220.25L515.08 219.85L515.91 219.59L516.75 219.5L517.58 219.56L518.41 219.72L519.25 219.97L520.08 220.28L520.91 220.63L521.74 221.02L522.58 221.57L523.41 222.37L524.24 223.35L525.08 224.44L525.91 225.6L526.74 226.76L527.58 227.98L528.41 229.34L529.24 230.8L530.07 232.32L530.91 233.88L531.74 235.45L532.57 237L533.41 238.49L534.24 239.98L535.07 241.5L535.9 243.04L536.74 244.56L537.57 246.05L538.4 247.49L539.24 248.84L540.07 250.1L540.9 251.29L541.74 252.45L542.57 253.57L543.4 254.64L544.23 255.66L545.07 256.62L545.9 257.51L546.73 258.33L547.57 259.1L548.4 259.85L549.23 260.56L550.06 261.23L550.9 261.85L551.73 262.41L552.56 262.92L553.4 263.35L554.23 263.73L555.06 264.09L555.9 264.43L556.73 264.74L557.56 265.04L558.39 265.31L559.23 265.58L560.06 265.82L560.89 266.06L561.73 266.29L562.56 266.51L563.39 266.72L564.22 266.94L565.06 267.14L565.89 267.35L566.72 267.56L567.56 267.76L568.39 267.95L569.22 268.14L570.06 268.33L570.89 268.51L571.72 268.68L572.55 268.85L573.39 269.02L574.22 269.17L575.05 269.32L575.89 269.45L576.72 269.58L577.55 269.7L578.38 269.81L579.22 269.92L580.05 270.01L580.88 270.09L581.72 270.17L582.55 270.25L583.38 270.33L584.22 270.4L585.05 270.47L585.88 270.54L586.71 270.61L587.55 270.68L588.38 270.74L589.21 270.8L590.05 270.86L590.88 270.92L591.71 270.98L592.55 271.04L593.38 271.09L594.21 271.15L595.04 271.2L595.88 271.25L596.71 271.3L597.54 271.35L598.38 271.39L599.21 271.44L600.04 271.49L600.87 271.53L601.71 271.57L602.54 271.62L603.37 271.66L604.21 271.7L605.04 271.74L605.87 271.79L606.71 271.83L607.54 271.87L608.37 271.91L609.2 271.95L610.04 271.99L610.87 272.03L611.7 272.07L612.54 272.11L613.37 272.15L614.2 272.2L615.03 272.24L615.87 272.28L616.7 272.32L617.53 272.37L618.37 272.41L619.2 272.46L620.03 272.5L620.87 272.55L621.7 272.59L622.53 272.64L623.36 272.68L624.2 272.73L625.03 272.77L625.86 272.82L626.7 272.86L627.53 272.9L628.36 272.95L629.19 272.99L630.03 273.03L630.86 273.08L631.69 273.12L632.53 273.16L633.36 273.2L634.19 273.24L635.03 273.28L635.86 273.33L636.69 273.37L637.52 273.41L638.36 273.45L639.19 273.49L640.02 273.53L640.86 273.57L641.69 273.61L642.52 273.65L643.35 273.69L644.19 273.73L645.02 273.77L645.85 273.81L646.69 273.85L647.52 273.89L648.35 273.93L649.19 273.97L650.02 274.01L650.85 274.05L651.68 274.09L652.52 274.13L653.35 274.17L654.18 274.21L655.02 274.25L655.85 274.29L656.68 274.34L657.52 274.38L658.35 274.42L659.18 274.46L660.01 274.5L660.85 274.54L661.68 274.58L662.51 274.63L663.35 274.67L664.18 274.71L665.01 274.75L665.84 274.79L666.68 274.83L667.51 274.88L668.34 274.92L669.18 274.96L670.01 275L670.84 275.04L671.68 275.08L672.51 275.13L673.34 275.17L674.17 275.21L675.01 275.25L675.84 275.29L676.67 275.33L677.51 275.38L678.34 275.42L679.17 275.46L680 275.5L680.84 275.54L681.67 275.58L682.5 275.63L683.34 275.67L684.17 275.71L685 275.75L685.84 275.79L686.67 275.83L687.5 275.88L688.33 275.92L689.17 275.96L690 276" stroke="#ff0a0a" stroke-width="2.0" fill="none" stroke-linejoin="round"/>
<path d="M401.8 270.2L402.63 270.2L403.47 270.2L404.3 270.2L405.13 270.19L405.96 270.19L406.8 270.19L407.63 270.18L408.46 270.17L409.3 270.17L410.13 270.16L410.96 270.15L411.8 270.14L412.63 270.13L413.46 270.12L414.29 270.11L415.13 270.1L415.96 270.09L416.79 270.08L417.63 270.06L418.46 270.05L419.29 270.04L420.12 270.02L420.96 270.01L421.79 269.99L422.62 269.97L423.46 269.96L424.29 269.94L425.12 269.92L425.96 269.9L426.79 269.88L427.62 269.86L428.45 269.84L429.29 269.82L430.12 269.8L430.95 269.78L431.79 269.76L432.62 269.74L433.45 269.71L434.28 269.69L435.12 269.67L435.95 269.64L436.78 269.62L437.62 269.6L438.45 269.57L439.28 269.55L440.12 269.52L440.95 269.5L441.78 269.47L442.61 269.45L443.45 269.42L444.28 269.39L445.11 269.37L445.95 269.34L446.78 269.31L447.61 269.29L448.45 269.26L449.28 269.23L450.11 269.2L450.94 269.17L451.78 269.14L452.61 269.11L453.44 269.08L454.28 269.04L455.11 269.01L455.94 268.97L456.77 268.93L457.61 268.89L458.44 268.84L459.27 268.8L460.11 268.75L460.94 268.7L461.77 268.65L462.61 268.59L463.44 268.54L464.27 268.48L465.1 268.42L465.94 268.36L466.77 268.29L467.6 268.23L468.44 268.16L469.27 268.09L470.1 268.01L470.93 267.94L471.77 267.86L472.6 267.78L473.43 267.69L474.27 267.6L475.1 267.5L475.93 267.39L476.77 267.28L477.6 267.16L478.43 267.03L479.26 266.89L480.1 266.75L480.93 266.6L481.76 266.44L482.6 266.27L483.43 266.1L484.26 265.92L485.09 265.73L485.93 265.53L486.76 265.33L487.59 265.11L488.43 264.89L489.26 264.67L490.09 264.43L490.93 264.17L491.76 263.86L492.59 263.52L493.42 263.13L494.26 262.72L495.09 262.28L495.92 261.82L496.76 261.35L497.59 260.87L498.42 260.39L499.25 259.92L500.09 259.45L500.92 258.98L501.75 258.49L502.59 257.98L503.42 257.46L504.25 256.94L505.09 256.4L505.92 255.87L506.75 255.33L507.58 254.8L508.42 254.27L509.25 253.76L510.08 253.25L510.92 252.76L511.75 252.28L512.58 251.8L513.42 251.33L514.25 250.87L515.08 250.4L515.91 249.93L516.75 249.46L517.58 248.97L518.41 248.48L519.25 247.97L520.08 247.45L520.91 246.89L521.74 246.3L522.58 245.68L523.41 245.05L524.24 244.42L525.08 243.8L525.91 243.2L526.74 242.63L527.58 242.11L528.41 241.64L529.24 241.18L530.07 240.69L530.91 240.21L531.74 239.76L532.57 239.37L533.41 239.06L534.24 238.86L535.07 238.8L535.9 238.82L536.74 238.86L537.57 238.92L538.4 239L539.24 239.1L540.07 239.21L540.9 239.41L541.74 239.74L542.57 240.18L543.4 240.71L544.23 241.31L545.07 241.96L545.9 242.64L546.73 243.33L547.57 244.12L548.4 245.08L549.23 246.15L550.06 247.3L550.9 248.49L551.73 249.67L552.56 250.79L553.4 251.81L554.23 252.8L555.06 253.79L555.9 254.77L556.73 255.73L557.56 256.65L558.39 257.52L559.23 258.32L560.06 259.05L560.89 259.73L561.73 260.39L562.56 261.04L563.39 261.66L564.22 262.26L565.06 262.83L565.89 263.37L566.72 263.87L567.56 264.34L568.39 264.78L569.22 265.17L570.06 265.52L570.89 265.85L571.72 266.16L572.55 266.46L573.39 266.74L574.22 267.02L575.05 267.28L575.89 267.53L576.72 267.77L577.55 267.99L578.38 268.21L579.22 268.41L580.05 268.59L580.88 268.77L581.72 268.93L582.55 269.08L583.38 269.21L584.22 269.34L585.05 269.47L585.88 269.59L586.71 269.71L587.55 269.83L588.38 269.94L589.21 270.05L590.05 270.16L590.88 270.27L591.71 270.38L592.55 270.48L593.38 270.58L594.21 270.67L595.04 270.77L595.88 270.86L596.71 270.95L597.54 271.04L598.38 271.13L599.21 271.21L600.04 271.29L600.87 271.37L601.71 271.45L602.54 271.53L603.37 271.6L604.21 271.67L605.04 271.75L605.87 271.82L606.71 271.88L607.54 271.95L608.37 272.02L609.2 272.08L610.04 272.14L610.87 272.2L611.7 272.26L612.54 272.32L613.37 272.38L614.2 272.43L615.03 272.49L615.87 272.54L616.7 272.6L617.53 272.65L618.37 272.7L619.2 272.75L620.03 272.8L620.87 272.85L621.7 272.9L622.53 272.95L623.36 272.99L624.2 273.04L625.03 273.08L625.86 273.13L626.7 273.17L627.53 273.21L628.36 273.25L629.19 273.29L630.03 273.33L630.86 273.37L631.69 273.41L632.53 273.45L633.36 273.49L634.19 273.52L635.03 273.56L635.86 273.59L636.69 273.63L637.52 273.66L638.36 273.7L639.19 273.73L640.02 273.76L640.86 273.8L641.69 273.83L642.52 273.86L643.35 273.89L644.19 273.92L645.02 273.95L645.85 273.99L646.69 274.02L647.52 274.05L648.35 274.08L649.19 274.11L650.02 274.14L650.85 274.17L651.68 274.2L652.52 274.23L653.35 274.26L654.18 274.29L655.02 274.32L655.85 274.35L656.68 274.38L657.52 274.41L658.35 274.44L659.18 274.47L660.01 274.5L660.85 274.53L661.68 274.56L662.51 274.59L663.35 274.62L664.18 274.65L665.01 274.68L665.84 274.71L666.68 274.74L667.51 274.77L668.34 274.8L669.18 274.83L670.01 274.86L670.84 274.89L671.68 274.92L672.51 274.95L673.34 274.97L674.17 275L675.01 275.03L675.84 275.06L676.67 275.08L677.51 275.11L678.34 275.14L679.17 275.17L680 275.19L680.84 275.22L681.67 275.25L682.5 275.27L683.34 275.3L684.17 275.32L685 275.35L685.84 275.38L686.67 275.4L687.5 275.43L688.33 275.45L689.17 275.48L690 275.5" stroke="#ff7a1a" stroke-width="2.0" fill="none" stroke-linejoin="round"/>
<path d="M401.8 271.2L402.63 271.2L403.47 271.2L404.3 271.19L405.13 271.19L405.96 271.18L406.8 271.18L407.63 271.17L408.46 271.16L409.3 271.16L410.13 271.15L410.96 271.14L411.8 271.13L412.63 271.12L413.46 271.1L414.29 271.09L415.13 271.08L415.96 271.07L416.79 271.05L417.63 271.04L418.46 271.03L419.29 271.01L420.12 271L420.96 270.98L421.79 270.97L422.62 270.95L423.46 270.93L424.29 270.92L425.12 270.9L425.96 270.88L426.79 270.87L427.62 270.85L428.45 270.83L429.29 270.81L430.12 270.8L430.95 270.78L431.79 270.76L432.62 270.74L433.45 270.72L434.28 270.69L435.12 270.67L435.95 270.65L436.78 270.62L437.62 270.59L438.45 270.57L439.28 270.54L440.12 270.51L440.95 270.48L441.78 270.44L442.61 270.41L443.45 270.38L444.28 270.34L445.11 270.31L445.95 270.27L446.78 270.24L447.61 270.2L448.45 270.16L449.28 270.12L450.11 270.08L450.94 270.04L451.78 270L452.61 269.96L453.44 269.92L454.28 269.88L455.11 269.83L455.94 269.79L456.77 269.75L457.61 269.7L458.44 269.66L459.27 269.61L460.11 269.57L460.94 269.52L461.77 269.48L462.61 269.43L463.44 269.38L464.27 269.34L465.1 269.29L465.94 269.24L466.77 269.2L467.6 269.15L468.44 269.1L469.27 269.05L470.1 268.99L470.93 268.94L471.77 268.88L472.6 268.82L473.43 268.76L474.27 268.7L475.1 268.64L475.93 268.58L476.77 268.51L477.6 268.45L478.43 268.38L479.26 268.31L480.1 268.24L480.93 268.17L481.76 268.1L482.6 268.03L483.43 267.96L484.26 267.89L485.09 267.82L485.93 267.75L486.76 267.67L487.59 267.6L488.43 267.52L489.26 267.45L490.09 267.38L490.93 267.3L491.76 267.23L492.59 267.15L493.42 267.08L494.26 267L495.09 266.93L495.92 266.86L496.76 266.78L497.59 266.71L498.42 266.64L499.25 266.56L500.09 266.49L500.92 266.42L501.75 266.34L502.59 266.26L503.42 266.17L504.25 266.09L505.09 266L505.92 265.91L506.75 265.81L507.58 265.72L508.42 265.63L509.25 265.54L510.08 265.44L510.92 265.35L511.75 265.26L512.58 265.18L513.42 265.09L514.25 265.01L515.08 264.94L515.91 264.86L516.75 264.79L517.58 264.73L518.41 264.67L519.25 264.62L520.08 264.58L520.91 264.54L521.74 264.51L522.58 264.49L523.41 264.47L524.24 264.45L525.08 264.43L525.91 264.41L526.74 264.39L527.58 264.37L528.41 264.35L529.24 264.34L530.07 264.32L530.91 264.3L531.74 264.28L532.57 264.27L533.41 264.25L534.24 264.24L535.07 264.22L535.9 264.21L536.74 264.19L537.57 264.18L538.4 264.16L539.24 264.15L540.07 264.14L540.9 264.13L541.74 264.12L542.57 264.11L543.4 264.1L544.23 264.09L545.07 264.08L545.9 264.07L546.73 264.06L547.57 264.05L548.4 264.04L549.23 264.04L550.06 264.03L550.9 264.03L551.73 264.02L552.56 264.02L553.4 264.01L554.23 264.01L555.06 264.01L555.9 264L556.73 264L557.56 264L558.39 264L559.23 264L560.06 264.01L560.89 264.02L561.73 264.04L562.56 264.07L563.39 264.1L564.22 264.13L565.06 264.17L565.89 264.22L566.72 264.27L567.56 264.32L568.39 264.38L569.22 264.44L570.06 264.51L570.89 264.58L571.72 264.65L572.55 264.73L573.39 264.81L574.22 264.89L575.05 264.97L575.89 265.06L576.72 265.15L577.55 265.24L578.38 265.33L579.22 265.43L580.05 265.52L580.88 265.62L581.72 265.72L582.55 265.81L583.38 265.91L584.22 266.01L585.05 266.11L585.88 266.21L586.71 266.31L587.55 266.41L588.38 266.51L589.21 266.6L590.05 266.7L590.88 266.79L591.71 266.89L592.55 266.98L593.38 267.07L594.21 267.15L595.04 267.24L595.88 267.32L596.71 267.4L597.54 267.48L598.38 267.55L599.21 267.63L600.04 267.7L600.87 267.78L601.71 267.85L602.54 267.93L603.37 268.01L604.21 268.08L605.04 268.16L605.87 268.24L606.71 268.32L607.54 268.4L608.37 268.47L609.2 268.55L610.04 268.63L610.87 268.71L611.7 268.79L612.54 268.87L613.37 268.94L614.2 269.02L615.03 269.1L615.87 269.18L616.7 269.26L617.53 269.33L618.37 269.41L619.2 269.49L620.03 269.57L620.87 269.64L621.7 269.72L622.53 269.79L623.36 269.87L624.2 269.94L625.03 270.02L625.86 270.09L626.7 270.16L627.53 270.23L628.36 270.31L629.19 270.38L630.03 270.45L630.86 270.52L631.69 270.58L632.53 270.65L633.36 270.72L634.19 270.78L635.03 270.85L635.86 270.91L636.69 270.98L637.52 271.04L638.36 271.1L639.19 271.16L640.02 271.22L640.86 271.28L641.69 271.34L642.52 271.4L643.35 271.46L644.19 271.52L645.02 271.58L645.85 271.64L646.69 271.69L647.52 271.75L648.35 271.81L649.19 271.87L650.02 271.92L650.85 271.98L651.68 272.03L652.52 272.09L653.35 272.14L654.18 272.2L655.02 272.25L655.85 272.3L656.68 272.36L657.52 272.41L658.35 272.46L659.18 272.51L660.01 272.57L660.85 272.62L661.68 272.67L662.51 272.72L663.35 272.77L664.18 272.82L665.01 272.87L665.84 272.92L666.68 272.97L667.51 273.02L668.34 273.07L669.18 273.11L670.01 273.16L670.84 273.21L671.68 273.26L672.51 273.31L673.34 273.35L674.17 273.4L675.01 273.45L675.84 273.49L676.67 273.54L677.51 273.58L678.34 273.63L679.17 273.67L680 273.71L680.84 273.76L681.67 273.8L682.5 273.84L683.34 273.88L684.17 273.92L685 273.96L685.84 274L686.67 274.04L687.5 274.08L688.33 274.12L689.17 274.16L690 274.2" stroke="#2f9a50" stroke-width="2.0" fill="none" stroke-linejoin="round"/>
<path d="M440.6 111.55V124.34M437.3 111.55h6.6M437.3 124.34h6.6" stroke="#0000f5" stroke-width="1.25" fill="none"/>
<circle cx="440.6" cy="117.95" r="3.55" fill="#0000f5"/>
<path d="M448.43 177.51V189.03M445.13 177.51h6.6M445.13 189.03h6.6" stroke="#0000f5" stroke-width="1.25" fill="none"/>
<circle cx="448.43" cy="183.27" r="3.55" fill="#0000f5"/>
<path d="M456.27 175.85V187.4M452.97 175.85h6.6M452.97 187.4h6.6" stroke="#0000f5" stroke-width="1.25" fill="none"/>
<circle cx="456.27" cy="181.63" r="3.55" fill="#0000f5"/>
<path d="M464.11 118.6V131.26M460.81 118.6h6.6M460.81 131.26h6.6" stroke="#0000f5" stroke-width="1.25" fill="none"/>
<circle cx="464.11" cy="124.93" r="3.55" fill="#0000f5"/>
<path d="M471.95 76.13V89.51M468.65 76.13h6.6M468.65 89.51h6.6" stroke="#0000f5" stroke-width="1.25" fill="none"/>
<circle cx="471.95" cy="82.82" r="3.55" fill="#0000f5"/>
<path d="M479.78 90.63V103.77M476.48 90.63h6.6M476.48 103.77h6.6" stroke="#0000f5" stroke-width="1.25" fill="none"/>
<circle cx="479.78" cy="97.2" r="3.55" fill="#0000f5"/>
<path d="M487.62 176.48V188.01M484.32 176.48h6.6M484.32 188.01h6.6" stroke="#0000f5" stroke-width="1.25" fill="none"/>
<circle cx="487.62" cy="182.24" r="3.55" fill="#0000f5"/>
<path d="M495.46 219.08V229.63M492.16 219.08h6.6M492.16 229.63h6.6" stroke="#0000f5" stroke-width="1.25" fill="none"/>
<circle cx="495.46" cy="224.36" r="3.55" fill="#0000f5"/>
<path d="M503.3 236.16V246.25M500 236.16h6.6M500 246.25h6.6" stroke="#0000f5" stroke-width="1.25" fill="none"/>
<circle cx="503.3" cy="241.2" r="3.55" fill="#0000f5"/>
<path d="M511.13 254.3V263.84M507.83 254.3h6.6M507.83 263.84h6.6" stroke="#0000f5" stroke-width="1.25" fill="none"/>
<circle cx="511.13" cy="259.07" r="3.55" fill="#0000f5"/>
<path d="M518.97 251.69V261.31M515.67 251.69h6.6M515.67 261.31h6.6" stroke="#0000f5" stroke-width="1.25" fill="none"/>
<circle cx="518.97" cy="256.5" r="3.55" fill="#0000f5"/>
<path d="M526.81 260.36V269.7M523.51 260.36h6.6M523.51 269.7h6.6" stroke="#0000f5" stroke-width="1.25" fill="none"/>
<circle cx="526.81" cy="265.03" r="3.55" fill="#0000f5"/>
<path d="M534.65 255.85V265.34M531.35 255.85h6.6M531.35 265.34h6.6" stroke="#0000f5" stroke-width="1.25" fill="none"/>
<circle cx="534.65" cy="260.6" r="3.55" fill="#0000f5"/>
<path d="M542.48 266.22V275.35M539.18 266.22h6.6M539.18 275.35h6.6" stroke="#0000f5" stroke-width="1.25" fill="none"/>
<circle cx="542.48" cy="270.78" r="3.55" fill="#0000f5"/>
<path d="M550.32 263.64V272.87M547.02 263.64h6.6M547.02 272.87h6.6" stroke="#0000f5" stroke-width="1.25" fill="none"/>
<circle cx="550.32" cy="268.25" r="3.55" fill="#0000f5"/>
<path d="M558.16 259.75V269.11M554.86 259.75h6.6M554.86 269.11h6.6" stroke="#0000f5" stroke-width="1.25" fill="none"/>
<circle cx="558.16" cy="264.43" r="3.55" fill="#0000f5"/>
<path d="M566 262.09V271.37M562.7 262.09h6.6M562.7 271.37h6.6" stroke="#0000f5" stroke-width="1.25" fill="none"/>
<circle cx="566" cy="266.73" r="3.55" fill="#0000f5"/>
<path d="M573.83 263.97V273.18M570.53 263.97h6.6M570.53 273.18h6.6" stroke="#0000f5" stroke-width="1.25" fill="none"/>
<circle cx="573.83" cy="268.58" r="3.55" fill="#0000f5"/>
<path d="M581.67 263.85V273.06M578.37 263.85h6.6M578.37 273.06h6.6" stroke="#0000f5" stroke-width="1.25" fill="none"/>
<circle cx="581.67" cy="268.46" r="3.55" fill="#0000f5"/>
<path d="M589.51 265.29V274.46M586.21 265.29h6.6M586.21 274.46h6.6" stroke="#0000f5" stroke-width="1.25" fill="none"/>
<circle cx="589.51" cy="269.87" r="3.55" fill="#0000f5"/>
<path d="M597.35 263.8V273.02M594.05 263.8h6.6M594.05 273.02h6.6" stroke="#0000f5" stroke-width="1.25" fill="none"/>
<circle cx="597.35" cy="268.41" r="3.55" fill="#0000f5"/>
<path d="M605.18 268.52V277.57M601.88 268.52h6.6M601.88 277.57h6.6" stroke="#0000f5" stroke-width="1.25" fill="none"/>
<circle cx="605.18" cy="273.05" r="3.55" fill="#0000f5"/>
<path d="M613.02 266.32V275.45M609.72 266.32h6.6M609.72 275.45h6.6" stroke="#0000f5" stroke-width="1.25" fill="none"/>
<circle cx="613.02" cy="270.88" r="3.55" fill="#0000f5"/>
<path d="M620.86 266V275.14M617.56 266h6.6M617.56 275.14h6.6" stroke="#0000f5" stroke-width="1.25" fill="none"/>
<circle cx="620.86" cy="270.57" r="3.55" fill="#0000f5"/>
<path d="M628.7 267.72V276.8M625.4 267.72h6.6M625.4 276.8h6.6" stroke="#0000f5" stroke-width="1.25" fill="none"/>
<circle cx="628.7" cy="272.26" r="3.55" fill="#0000f5"/>
<path d="M636.53 269.72V278.73M633.23 269.72h6.6M633.23 278.73h6.6" stroke="#0000f5" stroke-width="1.25" fill="none"/>
<circle cx="636.53" cy="274.23" r="3.55" fill="#0000f5"/>
<path d="M644.37 269.72V278.72M641.07 269.72h6.6M641.07 278.72h6.6" stroke="#0000f5" stroke-width="1.25" fill="none"/>
<circle cx="644.37" cy="274.22" r="3.55" fill="#0000f5"/>
<path d="M652.21 269.68V278.69M648.91 269.68h6.6M648.91 278.69h6.6" stroke="#0000f5" stroke-width="1.25" fill="none"/>
<circle cx="652.21" cy="274.19" r="3.55" fill="#0000f5"/>
<path d="M660.05 267.96V277.03M656.75 267.96h6.6M656.75 277.03h6.6" stroke="#0000f5" stroke-width="1.25" fill="none"/>
<circle cx="660.05" cy="272.49" r="3.55" fill="#0000f5"/>
<path d="M667.88 271.54V280.48M664.58 271.54h6.6M664.58 280.48h6.6" stroke="#0000f5" stroke-width="1.25" fill="none"/>
<circle cx="667.88" cy="276.01" r="3.55" fill="#0000f5"/>
<path d="M675.72 272.58V281.47M672.42 272.58h6.6M672.42 281.47h6.6" stroke="#0000f5" stroke-width="1.25" fill="none"/>
<circle cx="675.72" cy="277.02" r="3.55" fill="#0000f5"/>
<path d="M683.56 271.5V280.44M680.26 271.5h6.6M680.26 280.44h6.6" stroke="#0000f5" stroke-width="1.25" fill="none"/>
<circle cx="683.56" cy="275.97" r="3.55" fill="#0000f5"/>
<path d="M691.4 274.38V283.21M688.1 274.38h6.6M688.1 283.21h6.6" stroke="#0000f5" stroke-width="1.25" fill="none"/>
<circle cx="691.4" cy="278.8" r="3.55" fill="#0000f5"/>
<path d="M440.6 154.06V166.05M437.3 154.06h6.6M437.3 166.05h6.6" stroke="#9400f0" stroke-width="1.25" fill="none"/>
<path d="M440.6 156.1L444.7 163.3L436.5 163.3Z" fill="#9400f0"/>
<path d="M448.43 217.42V228.01M445.13 217.42h6.6M445.13 228.01h6.6" stroke="#9400f0" stroke-width="1.25" fill="none"/>
<path d="M448.43 218.75L452.53 225.95L444.33 225.95Z" fill="#9400f0"/>
<path d="M456.27 232.62V242.8M452.97 232.62h6.6M452.97 242.8h6.6" stroke="#9400f0" stroke-width="1.25" fill="none"/>
<path d="M456.27 233.75L460.37 240.95L452.17 240.95Z" fill="#9400f0"/>
<path d="M464.11 225.95V236.32M460.81 225.95h6.6M460.81 236.32h6.6" stroke="#9400f0" stroke-width="1.25" fill="none"/>
<path d="M464.11 227.18L468.21 234.38L460.01 234.38Z" fill="#9400f0"/>
<path d="M471.95 211.39V222.13M468.65 211.39h6.6M468.65 222.13h6.6" stroke="#9400f0" stroke-width="1.25" fill="none"/>
<path d="M471.95 212.8L476.05 220L467.85 220Z" fill="#9400f0"/>
<path d="M479.78 206.81V217.66M476.48 206.81h6.6M476.48 217.66h6.6" stroke="#9400f0" stroke-width="1.25" fill="none"/>
<path d="M479.78 208.28L483.88 215.48L475.68 215.48Z" fill="#9400f0"/>
<path d="M487.62 160.7V172.56M484.32 160.7h6.6M484.32 172.56h6.6" stroke="#9400f0" stroke-width="1.25" fill="none"/>
<path d="M487.62 162.67L491.72 169.87L483.52 169.87Z" fill="#9400f0"/>
<path d="M495.46 160.08V171.95M492.16 160.08h6.6M492.16 171.95h6.6" stroke="#9400f0" stroke-width="1.25" fill="none"/>
<path d="M495.46 162.06L499.56 169.26L491.36 169.26Z" fill="#9400f0"/>
<path d="M503.3 206.19V217.05M500 206.19h6.6M500 217.05h6.6" stroke="#9400f0" stroke-width="1.25" fill="none"/>
<path d="M503.3 207.66L507.4 214.86L499.2 214.86Z" fill="#9400f0"/>
<path d="M511.13 231.58V241.79M507.83 231.58h6.6M507.83 241.79h6.6" stroke="#9400f0" stroke-width="1.25" fill="none"/>
<path d="M511.13 232.72L515.23 239.92L507.03 239.92Z" fill="#9400f0"/>
<path d="M518.97 251.8V261.42M515.67 251.8h6.6M515.67 261.42h6.6" stroke="#9400f0" stroke-width="1.25" fill="none"/>
<path d="M518.97 252.65L523.07 259.85L514.87 259.85Z" fill="#9400f0"/>
<path d="M526.81 254.19V263.73M523.51 254.19h6.6M523.51 263.73h6.6" stroke="#9400f0" stroke-width="1.25" fill="none"/>
<path d="M526.81 255L530.91 262.2L522.71 262.2Z" fill="#9400f0"/>
<path d="M534.65 259.33V268.7M531.35 259.33h6.6M531.35 268.7h6.6" stroke="#9400f0" stroke-width="1.25" fill="none"/>
<path d="M534.65 260.05L538.75 267.25L530.55 267.25Z" fill="#9400f0"/>
<path d="M542.48 258.91V268.3M539.18 258.91h6.6M539.18 268.3h6.6" stroke="#9400f0" stroke-width="1.25" fill="none"/>
<path d="M542.48 259.65L546.58 266.85L538.38 266.85Z" fill="#9400f0"/>
<path d="M550.32 262.71V271.97M547.02 262.71h6.6M547.02 271.97h6.6" stroke="#9400f0" stroke-width="1.25" fill="none"/>
<path d="M550.32 263.38L554.42 270.58L546.22 270.58Z" fill="#9400f0"/>
<path d="M558.16 260.47V269.81M554.86 260.47h6.6M554.86 269.81h6.6" stroke="#9400f0" stroke-width="1.25" fill="none"/>
<path d="M558.16 261.18L562.26 268.38L554.06 268.38Z" fill="#9400f0"/>
<path d="M566 262.63V271.89M562.7 262.63h6.6M562.7 271.89h6.6" stroke="#9400f0" stroke-width="1.25" fill="none"/>
<path d="M566 263.3L570.1 270.5L561.9 270.5Z" fill="#9400f0"/>
<path d="M573.83 261.77V271.06M570.53 261.77h6.6M570.53 271.06h6.6" stroke="#9400f0" stroke-width="1.25" fill="none"/>
<path d="M573.83 262.46L577.93 269.66L569.73 269.66Z" fill="#9400f0"/>
<path d="M581.67 262.27V271.55M578.37 262.27h6.6M578.37 271.55h6.6" stroke="#9400f0" stroke-width="1.25" fill="none"/>
<path d="M581.67 262.95L585.77 270.15L577.57 270.15Z" fill="#9400f0"/>
<path d="M589.51 262.77V272.03M586.21 262.77h6.6M586.21 272.03h6.6" stroke="#9400f0" stroke-width="1.25" fill="none"/>
<path d="M589.51 263.44L593.61 270.64L585.41 270.64Z" fill="#9400f0"/>
<path d="M597.35 266.63V275.75M594.05 266.63h6.6M594.05 275.75h6.6" stroke="#9400f0" stroke-width="1.25" fill="none"/>
<path d="M597.35 267.23L601.45 274.43L593.25 274.43Z" fill="#9400f0"/>
<path d="M605.18 265.84V274.98M601.88 265.84h6.6M601.88 274.98h6.6" stroke="#9400f0" stroke-width="1.25" fill="none"/>
<path d="M605.18 266.45L609.28 273.65L601.08 273.65Z" fill="#9400f0"/>
<path d="M613.02 269.06V278.09M609.72 269.06h6.6M609.72 278.09h6.6" stroke="#9400f0" stroke-width="1.25" fill="none"/>
<path d="M613.02 269.61L617.12 276.81L608.92 276.81Z" fill="#9400f0"/>
<path d="M620.86 270.05V279.04M617.56 270.05h6.6M617.56 279.04h6.6" stroke="#9400f0" stroke-width="1.25" fill="none"/>
<path d="M620.86 270.58L624.96 277.78L616.76 277.78Z" fill="#9400f0"/>
<path d="M628.7 269V278.03M625.4 269h6.6M625.4 278.03h6.6" stroke="#9400f0" stroke-width="1.25" fill="none"/>
<path d="M628.7 269.56L632.8 276.76L624.6 276.76Z" fill="#9400f0"/>
<path d="M636.53 270.17V279.16M633.23 270.17h6.6M633.23 279.16h6.6" stroke="#9400f0" stroke-width="1.25" fill="none"/>
<path d="M636.53 270.71L640.63 277.91L632.43 277.91Z" fill="#9400f0"/>
<path d="M644.37 269.86V278.86M641.07 269.86h6.6M641.07 278.86h6.6" stroke="#9400f0" stroke-width="1.25" fill="none"/>
<path d="M644.37 270.4L648.47 277.6L640.27 277.6Z" fill="#9400f0"/>
<path d="M652.21 267.4V276.49M648.91 267.4h6.6M648.91 276.49h6.6" stroke="#9400f0" stroke-width="1.25" fill="none"/>
<path d="M652.21 267.99L656.31 275.19L648.11 275.19Z" fill="#9400f0"/>
<path d="M660.05 270.21V279.19M656.75 270.21h6.6M656.75 279.19h6.6" stroke="#9400f0" stroke-width="1.25" fill="none"/>
<path d="M660.05 270.74L664.15 277.94L655.95 277.94Z" fill="#9400f0"/>
<path d="M667.88 270.6V279.58M664.58 270.6h6.6M664.58 279.58h6.6" stroke="#9400f0" stroke-width="1.25" fill="none"/>
<path d="M667.88 271.13L671.98 278.33L663.78 278.33Z" fill="#9400f0"/>
<path d="M675.72 270.07V279.06M672.42 270.07h6.6M672.42 279.06h6.6" stroke="#9400f0" stroke-width="1.25" fill="none"/>
<path d="M675.72 270.61L679.82 277.81L671.62 277.81Z" fill="#9400f0"/>
<path d="M683.56 273.68V282.54M680.26 273.68h6.6M680.26 282.54h6.6" stroke="#9400f0" stroke-width="1.25" fill="none"/>
<path d="M683.56 274.15L687.66 281.35L679.46 281.35Z" fill="#9400f0"/>
<path d="M432.76 72.61V86.04M429.46 72.61h6.6M429.46 86.04h6.6" stroke="#ff1f8f" stroke-width="1.25" fill="none"/>
<path d="M432.76 82.95L436.56 76.35L428.96 76.35Z" fill="none" stroke="#ff1f8f" stroke-width="1.1"/>
<path d="M440.6 183.33V194.72M437.3 183.33h6.6M437.3 194.72h6.6" stroke="#ff1f8f" stroke-width="1.25" fill="none"/>
<path d="M440.6 192.65L444.4 186.05L436.8 186.05Z" fill="none" stroke="#ff1f8f" stroke-width="1.1"/>
<path d="M448.43 236.78V246.85M445.13 236.78h6.6M445.13 246.85h6.6" stroke="#ff1f8f" stroke-width="1.25" fill="none"/>
<path d="M448.43 245.45L452.23 238.85L444.63 238.85Z" fill="none" stroke="#ff1f8f" stroke-width="1.1"/>
<path d="M456.27 240.54V250.5M452.97 240.54h6.6M452.97 250.5h6.6" stroke="#ff1f8f" stroke-width="1.25" fill="none"/>
<path d="M456.27 249.15L460.07 242.55L452.47 242.55Z" fill="none" stroke="#ff1f8f" stroke-width="1.1"/>
<path d="M464.11 240.54V250.5M460.81 240.54h6.6M460.81 250.5h6.6" stroke="#ff1f8f" stroke-width="1.25" fill="none"/>
<path d="M464.11 249.15L467.91 242.55L460.31 242.55Z" fill="none" stroke="#ff1f8f" stroke-width="1.1"/>
<path d="M471.95 237.2V247.26M468.65 237.2h6.6M468.65 247.26h6.6" stroke="#ff1f8f" stroke-width="1.25" fill="none"/>
<path d="M471.95 245.86L475.75 239.26L468.15 239.26Z" fill="none" stroke="#ff1f8f" stroke-width="1.1"/>
<path d="M479.78 231.58V241.79M476.48 231.58h6.6M476.48 241.79h6.6" stroke="#ff1f8f" stroke-width="1.25" fill="none"/>
<path d="M479.78 240.31L483.58 233.71L475.98 233.71Z" fill="none" stroke="#ff1f8f" stroke-width="1.1"/>
<path d="M487.62 228.24V238.55M484.32 228.24h6.6M484.32 238.55h6.6" stroke="#ff1f8f" stroke-width="1.25" fill="none"/>
<path d="M487.62 237.03L491.42 230.43L483.82 230.43Z" fill="none" stroke="#ff1f8f" stroke-width="1.1"/>
<path d="M495.46 209.1V219.89M492.16 209.1h6.6M492.16 219.89h6.6" stroke="#ff1f8f" stroke-width="1.25" fill="none"/>
<path d="M495.46 218.13L499.26 211.53L491.66 211.53Z" fill="none" stroke="#ff1f8f" stroke-width="1.1"/>
<path d="M503.3 180.42V191.87M500 180.42h6.6M500 191.87h6.6" stroke="#ff1f8f" stroke-width="1.25" fill="none"/>
<path d="M503.3 189.78L507.1 183.18L499.5 183.18Z" fill="none" stroke="#ff1f8f" stroke-width="1.1"/>
<path d="M511.13 204.52V215.43M507.83 204.52h6.6M507.83 215.43h6.6" stroke="#ff1f8f" stroke-width="1.25" fill="none"/>
<path d="M511.13 213.61L514.93 207.01L507.33 207.01Z" fill="none" stroke="#ff1f8f" stroke-width="1.1"/>
<path d="M518.97 224.7V235.1M515.67 224.7h6.6M515.67 235.1h6.6" stroke="#ff1f8f" stroke-width="1.25" fill="none"/>
<path d="M518.97 233.53L522.77 226.93L515.17 226.93Z" fill="none" stroke="#ff1f8f" stroke-width="1.1"/>
<path d="M526.81 246.79V256.57M523.51 246.79h6.6M523.51 256.57h6.6" stroke="#ff1f8f" stroke-width="1.25" fill="none"/>
<path d="M526.81 255.31L530.61 248.71L523.01 248.71Z" fill="none" stroke="#ff1f8f" stroke-width="1.1"/>
<path d="M534.65 251.8V261.42M531.35 251.8h6.6M531.35 261.42h6.6" stroke="#ff1f8f" stroke-width="1.25" fill="none"/>
<path d="M534.65 260.24L538.45 253.64L530.85 253.64Z" fill="none" stroke="#ff1f8f" stroke-width="1.1"/>
<path d="M542.48 256.57V266.04M539.18 256.57h6.6M539.18 266.04h6.6" stroke="#ff1f8f" stroke-width="1.25" fill="none"/>
<path d="M542.48 264.94L546.28 258.34L538.68 258.34Z" fill="none" stroke="#ff1f8f" stroke-width="1.1"/>
<path d="M550.32 260.07V269.42M547.02 260.07h6.6M547.02 269.42h6.6" stroke="#ff1f8f" stroke-width="1.25" fill="none"/>
<path d="M550.32 268.37L554.12 261.77L546.52 261.77Z" fill="none" stroke="#ff1f8f" stroke-width="1.1"/>
<path d="M558.16 264.14V273.35M554.86 264.14h6.6M554.86 273.35h6.6" stroke="#ff1f8f" stroke-width="1.25" fill="none"/>
<path d="M558.16 272.38L561.96 265.78L554.36 265.78Z" fill="none" stroke="#ff1f8f" stroke-width="1.1"/>
<path d="M566 260.35V269.69M562.7 260.35h6.6M562.7 269.69h6.6" stroke="#ff1f8f" stroke-width="1.25" fill="none"/>
<path d="M566 268.65L569.8 262.05L562.2 262.05Z" fill="none" stroke="#ff1f8f" stroke-width="1.1"/>
<path d="M573.83 263.24V272.48M570.53 263.24h6.6M570.53 272.48h6.6" stroke="#ff1f8f" stroke-width="1.25" fill="none"/>
<path d="M573.83 271.49L577.63 264.89L570.03 264.89Z" fill="none" stroke="#ff1f8f" stroke-width="1.1"/>
<path d="M581.67 262.47V271.73M578.37 262.47h6.6M578.37 271.73h6.6" stroke="#ff1f8f" stroke-width="1.25" fill="none"/>
<path d="M581.67 270.73L585.47 264.13L577.87 264.13Z" fill="none" stroke="#ff1f8f" stroke-width="1.1"/>
<path d="M589.51 264.84V274.02M586.21 264.84h6.6M586.21 274.02h6.6" stroke="#ff1f8f" stroke-width="1.25" fill="none"/>
<path d="M589.51 273.06L593.31 266.46L585.71 266.46Z" fill="none" stroke="#ff1f8f" stroke-width="1.1"/>
<path d="M597.35 267.77V276.85M594.05 267.77h6.6M594.05 276.85h6.6" stroke="#ff1f8f" stroke-width="1.25" fill="none"/>
<path d="M597.35 275.94L601.15 269.34L593.55 269.34Z" fill="none" stroke="#ff1f8f" stroke-width="1.1"/>
<path d="M605.18 266.43V275.56M601.88 266.43h6.6M601.88 275.56h6.6" stroke="#ff1f8f" stroke-width="1.25" fill="none"/>
<path d="M605.18 274.63L608.98 268.03L601.38 268.03Z" fill="none" stroke="#ff1f8f" stroke-width="1.1"/>
<path d="M613.02 267.19V276.29M609.72 267.19h6.6M609.72 276.29h6.6" stroke="#ff1f8f" stroke-width="1.25" fill="none"/>
<path d="M613.02 275.37L616.82 268.77L609.22 268.77Z" fill="none" stroke="#ff1f8f" stroke-width="1.1"/>
<path d="M620.86 269.16V278.19M617.56 269.16h6.6M617.56 278.19h6.6" stroke="#ff1f8f" stroke-width="1.25" fill="none"/>
<path d="M620.86 277.31L624.66 270.71L617.06 270.71Z" fill="none" stroke="#ff1f8f" stroke-width="1.1"/>
<path d="M628.7 269.97V278.97M625.4 269.97h6.6M625.4 278.97h6.6" stroke="#ff1f8f" stroke-width="1.25" fill="none"/>
<path d="M628.7 278.1L632.5 271.5L624.9 271.5Z" fill="none" stroke="#ff1f8f" stroke-width="1.1"/>
<path d="M636.53 266.58V275.7M633.23 266.58h6.6M633.23 275.7h6.6" stroke="#ff1f8f" stroke-width="1.25" fill="none"/>
<path d="M636.53 274.77L640.33 268.17L632.73 268.17Z" fill="none" stroke="#ff1f8f" stroke-width="1.1"/>
<path d="M644.37 270.92V279.88M641.07 270.92h6.6M641.07 279.88h6.6" stroke="#ff1f8f" stroke-width="1.25" fill="none"/>
<path d="M644.37 279.03L648.17 272.43L640.57 272.43Z" fill="none" stroke="#ff1f8f" stroke-width="1.1"/>
<path d="M652.21 267.61V276.69M648.91 267.61h6.6M648.91 276.69h6.6" stroke="#ff1f8f" stroke-width="1.25" fill="none"/>
<path d="M652.21 275.78L656.01 269.18L648.41 269.18Z" fill="none" stroke="#ff1f8f" stroke-width="1.1"/>
<path d="M660.05 271.56V280.49M656.75 271.56h6.6M656.75 280.49h6.6" stroke="#ff1f8f" stroke-width="1.25" fill="none"/>
<path d="M660.05 279.65L663.85 273.05L656.25 273.05Z" fill="none" stroke="#ff1f8f" stroke-width="1.1"/>
<path d="M667.88 270.74V279.7M664.58 270.74h6.6M664.58 279.7h6.6" stroke="#ff1f8f" stroke-width="1.25" fill="none"/>
<path d="M667.88 278.85L671.68 272.25L664.08 272.25Z" fill="none" stroke="#ff1f8f" stroke-width="1.1"/>
<path d="M675.72 270.61V279.58M672.42 270.61h6.6M672.42 279.58h6.6" stroke="#ff1f8f" stroke-width="1.25" fill="none"/>
<path d="M675.72 278.73L679.52 272.13L671.92 272.13Z" fill="none" stroke="#ff1f8f" stroke-width="1.1"/>
<path d="M683.56 270.16V279.15M680.26 270.16h6.6M680.26 279.15h6.6" stroke="#ff1f8f" stroke-width="1.25" fill="none"/>
<path d="M683.56 278.29L687.36 271.69L679.76 271.69Z" fill="none" stroke="#ff1f8f" stroke-width="1.1"/>
<path d="M432.76 125.03V137.57M429.46 125.03h6.6M429.46 137.57h6.6" stroke="#ff0a0a" stroke-width="1.25" fill="none"/>
<rect x="429.76" y="128.3" width="6" height="6" fill="#ff0a0a"/>
<path d="M440.6 191.02V202.23M437.3 191.02h6.6M437.3 202.23h6.6" stroke="#ff0a0a" stroke-width="1.25" fill="none"/>
<rect x="437.6" y="193.62" width="6" height="6" fill="#ff0a0a"/>
<path d="M448.43 231.58V241.79M445.13 231.58h6.6M445.13 241.79h6.6" stroke="#ff0a0a" stroke-width="1.25" fill="none"/>
<rect x="445.43" y="233.68" width="6" height="6" fill="#ff0a0a"/>
<path d="M456.27 239.49V249.48M452.97 239.49h6.6M452.97 249.48h6.6" stroke="#ff0a0a" stroke-width="1.25" fill="none"/>
<rect x="453.27" y="241.49" width="6" height="6" fill="#ff0a0a"/>
<path d="M464.11 243.04V252.93M460.81 243.04h6.6M460.81 252.93h6.6" stroke="#ff0a0a" stroke-width="1.25" fill="none"/>
<rect x="461.11" y="244.98" width="6" height="6" fill="#ff0a0a"/>
<path d="M471.95 243.87V253.73M468.65 243.87h6.6M468.65 253.73h6.6" stroke="#ff0a0a" stroke-width="1.25" fill="none"/>
<rect x="468.95" y="245.8" width="6" height="6" fill="#ff0a0a"/>
<path d="M479.78 245.75V255.56M476.48 245.75h6.6M476.48 255.56h6.6" stroke="#ff0a0a" stroke-width="1.25" fill="none"/>
<rect x="476.78" y="247.65" width="6" height="6" fill="#ff0a0a"/>
<path d="M487.62 247.42V257.17M484.32 247.42h6.6M484.32 257.17h6.6" stroke="#ff0a0a" stroke-width="1.25" fill="none"/>
<rect x="484.62" y="249.3" width="6" height="6" fill="#ff0a0a"/>
<path d="M495.46 238.24V248.27M492.16 238.24h6.6M492.16 248.27h6.6" stroke="#ff0a0a" stroke-width="1.25" fill="none"/>
<rect x="492.46" y="240.26" width="6" height="6" fill="#ff0a0a"/>
<path d="M503.3 227.83V238.14M500 227.83h6.6M500 238.14h6.6" stroke="#ff0a0a" stroke-width="1.25" fill="none"/>
<rect x="500.3" y="229.99" width="6" height="6" fill="#ff0a0a"/>
<path d="M511.13 218.04V228.62M507.83 218.04h6.6M507.83 228.62h6.6" stroke="#ff0a0a" stroke-width="1.25" fill="none"/>
<rect x="508.13" y="220.33" width="6" height="6" fill="#ff0a0a"/>
<path d="M518.97 209.1V219.89M515.67 209.1h6.6M515.67 219.89h6.6" stroke="#ff0a0a" stroke-width="1.25" fill="none"/>
<rect x="515.97" y="211.5" width="6" height="6" fill="#ff0a0a"/>
<path d="M526.81 226.58V236.93M523.51 226.58h6.6M523.51 236.93h6.6" stroke="#ff0a0a" stroke-width="1.25" fill="none"/>
<rect x="523.81" y="228.75" width="6" height="6" fill="#ff0a0a"/>
<path d="M534.65 238.24V248.27M531.35 238.24h6.6M531.35 248.27h6.6" stroke="#ff0a0a" stroke-width="1.25" fill="none"/>
<rect x="531.65" y="240.26" width="6" height="6" fill="#ff0a0a"/>
<path d="M542.48 250.96V260.61M539.18 250.96h6.6M539.18 260.61h6.6" stroke="#ff0a0a" stroke-width="1.25" fill="none"/>
<rect x="539.48" y="252.79" width="6" height="6" fill="#ff0a0a"/>
<path d="M550.32 258.24V267.65M547.02 258.24h6.6M547.02 267.65h6.6" stroke="#ff0a0a" stroke-width="1.25" fill="none"/>
<rect x="547.32" y="259.94" width="6" height="6" fill="#ff0a0a"/>
<path d="M558.16 261.64V270.94M554.86 261.64h6.6M554.86 270.94h6.6" stroke="#ff0a0a" stroke-width="1.25" fill="none"/>
<rect x="555.16" y="263.29" width="6" height="6" fill="#ff0a0a"/>
<path d="M566 263.47V272.7M562.7 263.47h6.6M562.7 272.7h6.6" stroke="#ff0a0a" stroke-width="1.25" fill="none"/>
<rect x="563" y="265.08" width="6" height="6" fill="#ff0a0a"/>
<path d="M573.83 266.69V275.8M570.53 266.69h6.6M570.53 275.8h6.6" stroke="#ff0a0a" stroke-width="1.25" fill="none"/>
<rect x="570.83" y="268.24" width="6" height="6" fill="#ff0a0a"/>
<path d="M581.67 267.62V276.7M578.37 267.62h6.6M578.37 276.7h6.6" stroke="#ff0a0a" stroke-width="1.25" fill="none"/>
<rect x="578.67" y="269.16" width="6" height="6" fill="#ff0a0a"/>
<path d="M589.51 267.87V276.94M586.21 267.87h6.6M586.21 276.94h6.6" stroke="#ff0a0a" stroke-width="1.25" fill="none"/>
<rect x="586.51" y="269.41" width="6" height="6" fill="#ff0a0a"/>
<path d="M597.35 268.96V278M594.05 268.96h6.6M594.05 278h6.6" stroke="#ff0a0a" stroke-width="1.25" fill="none"/>
<rect x="594.35" y="270.48" width="6" height="6" fill="#ff0a0a"/>
<path d="M605.18 268.76V277.8M601.88 268.76h6.6M601.88 277.8h6.6" stroke="#ff0a0a" stroke-width="1.25" fill="none"/>
<rect x="602.18" y="270.28" width="6" height="6" fill="#ff0a0a"/>
<path d="M613.02 265.24V274.41M609.72 265.24h6.6M609.72 274.41h6.6" stroke="#ff0a0a" stroke-width="1.25" fill="none"/>
<rect x="610.02" y="266.83" width="6" height="6" fill="#ff0a0a"/>
<path d="M620.86 266.48V275.6M617.56 266.48h6.6M617.56 275.6h6.6" stroke="#ff0a0a" stroke-width="1.25" fill="none"/>
<rect x="617.86" y="268.04" width="6" height="6" fill="#ff0a0a"/>
<path d="M628.7 268.57V277.62M625.4 268.57h6.6M625.4 277.62h6.6" stroke="#ff0a0a" stroke-width="1.25" fill="none"/>
<rect x="625.7" y="270.09" width="6" height="6" fill="#ff0a0a"/>
<path d="M636.53 268.02V277.09M633.23 268.02h6.6M633.23 277.09h6.6" stroke="#ff0a0a" stroke-width="1.25" fill="none"/>
<rect x="633.53" y="269.56" width="6" height="6" fill="#ff0a0a"/>
<path d="M644.37 268.1V277.17M641.07 268.1h6.6M641.07 277.17h6.6" stroke="#ff0a0a" stroke-width="1.25" fill="none"/>
<rect x="641.37" y="269.64" width="6" height="6" fill="#ff0a0a"/>
<path d="M652.21 267.93V277M648.91 267.93h6.6M648.91 277h6.6" stroke="#ff0a0a" stroke-width="1.25" fill="none"/>
<rect x="649.21" y="269.47" width="6" height="6" fill="#ff0a0a"/>
<path d="M660.05 270.53V279.5M656.75 270.53h6.6M656.75 279.5h6.6" stroke="#ff0a0a" stroke-width="1.25" fill="none"/>
<rect x="657.05" y="272.01" width="6" height="6" fill="#ff0a0a"/>
<path d="M667.88 272.39V281.3M664.58 272.39h6.6M664.58 281.3h6.6" stroke="#ff0a0a" stroke-width="1.25" fill="none"/>
<rect x="664.88" y="273.85" width="6" height="6" fill="#ff0a0a"/>
<path d="M675.72 272.95V281.83M672.42 272.95h6.6M672.42 281.83h6.6" stroke="#ff0a0a" stroke-width="1.25" fill="none"/>
<rect x="672.72" y="274.39" width="6" height="6" fill="#ff0a0a"/>
<path d="M683.56 271V279.95M680.26 271h6.6M680.26 279.95h6.6" stroke="#ff0a0a" stroke-width="1.25" fill="none"/>
<rect x="680.56" y="272.47" width="6" height="6" fill="#ff0a0a"/>
<path d="M432.76 166.3V178.05M429.46 166.3h6.6M429.46 178.05h6.6" stroke="#ff7a1a" stroke-width="1.25" fill="none"/>
<circle cx="432.76" cy="172.18" r="3.1" fill="none" stroke="#ff7a1a" stroke-width="1.25"/>
<path d="M440.6 225.95V236.32M437.3 225.95h6.6M437.3 236.32h6.6" stroke="#ff7a1a" stroke-width="1.25" fill="none"/>
<circle cx="440.6" cy="231.14" r="3.1" fill="none" stroke="#ff7a1a" stroke-width="1.25"/>
<path d="M448.43 238.24V248.27M445.13 238.24h6.6M445.13 248.27h6.6" stroke="#ff7a1a" stroke-width="1.25" fill="none"/>
<circle cx="448.43" cy="243.26" r="3.1" fill="none" stroke="#ff7a1a" stroke-width="1.25"/>
<path d="M456.27 240.95V250.9M452.97 240.95h6.6M452.97 250.9h6.6" stroke="#ff7a1a" stroke-width="1.25" fill="none"/>
<circle cx="456.27" cy="245.93" r="3.1" fill="none" stroke="#ff7a1a" stroke-width="1.25"/>
<path d="M464.11 244.5V254.34M460.81 244.5h6.6M460.81 254.34h6.6" stroke="#ff7a1a" stroke-width="1.25" fill="none"/>
<circle cx="464.11" cy="249.42" r="3.1" fill="none" stroke="#ff7a1a" stroke-width="1.25"/>
<path d="M471.95 247.21V256.97M468.65 247.21h6.6M468.65 256.97h6.6" stroke="#ff7a1a" stroke-width="1.25" fill="none"/>
<circle cx="471.95" cy="252.09" r="3.1" fill="none" stroke="#ff7a1a" stroke-width="1.25"/>
<path d="M479.78 249.3V258.99M476.48 249.3h6.6M476.48 258.99h6.6" stroke="#ff7a1a" stroke-width="1.25" fill="none"/>
<circle cx="479.78" cy="254.14" r="3.1" fill="none" stroke="#ff7a1a" stroke-width="1.25"/>
<path d="M487.62 250.34V260M484.32 250.34h6.6M484.32 260h6.6" stroke="#ff7a1a" stroke-width="1.25" fill="none"/>
<circle cx="487.62" cy="255.17" r="3.1" fill="none" stroke="#ff7a1a" stroke-width="1.25"/>
<path d="M495.46 252.43V262.03M492.16 252.43h6.6M492.16 262.03h6.6" stroke="#ff7a1a" stroke-width="1.25" fill="none"/>
<circle cx="495.46" cy="257.23" r="3.1" fill="none" stroke="#ff7a1a" stroke-width="1.25"/>
<path d="M503.3 250.96V260.61M500 250.96h6.6M500 260.61h6.6" stroke="#ff7a1a" stroke-width="1.25" fill="none"/>
<circle cx="503.3" cy="255.79" r="3.1" fill="none" stroke="#ff7a1a" stroke-width="1.25"/>
<path d="M511.13 249.3V258.99M507.83 249.3h6.6M507.83 258.99h6.6" stroke="#ff7a1a" stroke-width="1.25" fill="none"/>
<circle cx="511.13" cy="254.14" r="3.1" fill="none" stroke="#ff7a1a" stroke-width="1.25"/>
<path d="M518.97 245.96V255.76M515.67 245.96h6.6M515.67 255.76h6.6" stroke="#ff7a1a" stroke-width="1.25" fill="none"/>
<circle cx="518.97" cy="250.86" r="3.1" fill="none" stroke="#ff7a1a" stroke-width="1.25"/>
<path d="M526.81 234.91V245.03M523.51 234.91h6.6M523.51 245.03h6.6" stroke="#ff7a1a" stroke-width="1.25" fill="none"/>
<circle cx="526.81" cy="239.97" r="3.1" fill="none" stroke="#ff7a1a" stroke-width="1.25"/>
<path d="M534.65 238.24V248.27M531.35 238.24h6.6M531.35 248.27h6.6" stroke="#ff7a1a" stroke-width="1.25" fill="none"/>
<circle cx="534.65" cy="243.26" r="3.1" fill="none" stroke="#ff7a1a" stroke-width="1.25"/>
<path d="M542.48 231.58V241.79M539.18 231.58h6.6M539.18 241.79h6.6" stroke="#ff7a1a" stroke-width="1.25" fill="none"/>
<circle cx="542.48" cy="236.68" r="3.1" fill="none" stroke="#ff7a1a" stroke-width="1.25"/>
<path d="M550.32 240.74V250.7M547.02 240.74h6.6M547.02 250.7h6.6" stroke="#ff7a1a" stroke-width="1.25" fill="none"/>
<circle cx="550.32" cy="245.72" r="3.1" fill="none" stroke="#ff7a1a" stroke-width="1.25"/>
<path d="M558.16 250.96V260.61M554.86 250.96h6.6M554.86 260.61h6.6" stroke="#ff7a1a" stroke-width="1.25" fill="none"/>
<circle cx="558.16" cy="255.79" r="3.1" fill="none" stroke="#ff7a1a" stroke-width="1.25"/>
<path d="M566 259.56V268.92M562.7 259.56h6.6M562.7 268.92h6.6" stroke="#ff7a1a" stroke-width="1.25" fill="none"/>
<circle cx="566" cy="264.24" r="3.1" fill="none" stroke="#ff7a1a" stroke-width="1.25"/>
<path d="M573.83 262.9V272.15M570.53 262.9h6.6M570.53 272.15h6.6" stroke="#ff7a1a" stroke-width="1.25" fill="none"/>
<circle cx="573.83" cy="267.53" r="3.1" fill="none" stroke="#ff7a1a" stroke-width="1.25"/>
<path d="M581.67 262.34V271.61M578.37 262.34h6.6M578.37 271.61h6.6" stroke="#ff7a1a" stroke-width="1.25" fill="none"/>
<circle cx="581.67" cy="266.97" r="3.1" fill="none" stroke="#ff7a1a" stroke-width="1.25"/>
<path d="M589.51 267.38V276.47M586.21 267.38h6.6M586.21 276.47h6.6" stroke="#ff7a1a" stroke-width="1.25" fill="none"/>
<circle cx="589.51" cy="271.93" r="3.1" fill="none" stroke="#ff7a1a" stroke-width="1.25"/>
<path d="M597.35 264.74V273.92M594.05 264.74h6.6M594.05 273.92h6.6" stroke="#ff7a1a" stroke-width="1.25" fill="none"/>
<circle cx="597.35" cy="269.33" r="3.1" fill="none" stroke="#ff7a1a" stroke-width="1.25"/>
<path d="M605.18 268.29V277.35M601.88 268.29h6.6M601.88 277.35h6.6" stroke="#ff7a1a" stroke-width="1.25" fill="none"/>
<circle cx="605.18" cy="272.82" r="3.1" fill="none" stroke="#ff7a1a" stroke-width="1.25"/>
<path d="M613.02 266.38V275.51M609.72 266.38h6.6M609.72 275.51h6.6" stroke="#ff7a1a" stroke-width="1.25" fill="none"/>
<circle cx="613.02" cy="270.94" r="3.1" fill="none" stroke="#ff7a1a" stroke-width="1.25"/>
<path d="M620.86 266.91V276.02M617.56 266.91h6.6M617.56 276.02h6.6" stroke="#ff7a1a" stroke-width="1.25" fill="none"/>
<circle cx="620.86" cy="271.47" r="3.1" fill="none" stroke="#ff7a1a" stroke-width="1.25"/>
<path d="M628.7 267.63V276.72M625.4 267.63h6.6M625.4 276.72h6.6" stroke="#ff7a1a" stroke-width="1.25" fill="none"/>
<circle cx="628.7" cy="272.17" r="3.1" fill="none" stroke="#ff7a1a" stroke-width="1.25"/>
<path d="M636.53 269.05V278.08M633.23 269.05h6.6M633.23 278.08h6.6" stroke="#ff7a1a" stroke-width="1.25" fill="none"/>
<circle cx="636.53" cy="273.57" r="3.1" fill="none" stroke="#ff7a1a" stroke-width="1.25"/>
<path d="M644.37 267.42V276.51M641.07 267.42h6.6M641.07 276.51h6.6" stroke="#ff7a1a" stroke-width="1.25" fill="none"/>
<circle cx="644.37" cy="271.96" r="3.1" fill="none" stroke="#ff7a1a" stroke-width="1.25"/>
<path d="M652.21 271.88V280.8M648.91 271.88h6.6M648.91 280.8h6.6" stroke="#ff7a1a" stroke-width="1.25" fill="none"/>
<circle cx="652.21" cy="276.34" r="3.1" fill="none" stroke="#ff7a1a" stroke-width="1.25"/>
<path d="M660.05 270.43V279.41M656.75 270.43h6.6M656.75 279.41h6.6" stroke="#ff7a1a" stroke-width="1.25" fill="none"/>
<circle cx="660.05" cy="274.92" r="3.1" fill="none" stroke="#ff7a1a" stroke-width="1.25"/>
<path d="M667.88 268.96V277.99M664.58 268.96h6.6M664.58 277.99h6.6" stroke="#ff7a1a" stroke-width="1.25" fill="none"/>
<circle cx="667.88" cy="273.48" r="3.1" fill="none" stroke="#ff7a1a" stroke-width="1.25"/>
<path d="M675.72 271.13V280.08M672.42 271.13h6.6M672.42 280.08h6.6" stroke="#ff7a1a" stroke-width="1.25" fill="none"/>
<circle cx="675.72" cy="275.6" r="3.1" fill="none" stroke="#ff7a1a" stroke-width="1.25"/>
<path d="M683.56 270.36V279.34M680.26 270.36h6.6M680.26 279.34h6.6" stroke="#ff7a1a" stroke-width="1.25" fill="none"/>
<circle cx="683.56" cy="274.85" r="3.1" fill="none" stroke="#ff7a1a" stroke-width="1.25"/>
<path d="M432.76 217V227.6M429.46 217h6.6M429.46 227.6h6.6" stroke="#2f9a50" stroke-width="1.25" fill="none"/>
<path d="M432.76 217.5L436.66 222.3L432.76 227.1L428.86 222.3Z" fill="#2f9a50"/>
<path d="M440.6 229.91V240.17M437.3 229.91h6.6M437.3 240.17h6.6" stroke="#2f9a50" stroke-width="1.25" fill="none"/>
<path d="M440.6 230.24L444.5 235.04L440.6 239.84L436.7 235.04Z" fill="#2f9a50"/>
<path d="M448.43 239.91V249.89M445.13 239.91h6.6M445.13 249.89h6.6" stroke="#2f9a50" stroke-width="1.25" fill="none"/>
<path d="M448.43 240.1L452.33 244.9L448.43 249.7L444.53 244.9Z" fill="#2f9a50"/>
<path d="M456.27 246.17V255.96M452.97 246.17h6.6M452.97 255.96h6.6" stroke="#2f9a50" stroke-width="1.25" fill="none"/>
<path d="M456.27 246.26L460.17 251.06L456.27 255.86L452.37 251.06Z" fill="#2f9a50"/>
<path d="M464.11 249.5V259.2M460.81 249.5h6.6M460.81 259.2h6.6" stroke="#2f9a50" stroke-width="1.25" fill="none"/>
<path d="M464.11 249.55L468.01 254.35L464.11 259.15L460.21 254.35Z" fill="#2f9a50"/>
<path d="M471.95 252.43V262.03M468.65 252.43h6.6M468.65 262.03h6.6" stroke="#2f9a50" stroke-width="1.25" fill="none"/>
<path d="M471.95 252.43L475.85 257.23L471.95 262.03L468.05 257.23Z" fill="#2f9a50"/>
<path d="M479.78 253.05V262.63M476.48 253.05h6.6M476.48 262.63h6.6" stroke="#2f9a50" stroke-width="1.25" fill="none"/>
<path d="M479.78 253.04L483.68 257.84L479.78 262.64L475.88 257.84Z" fill="#2f9a50"/>
<path d="M487.62 256.39V265.86M484.32 256.39h6.6M484.32 265.86h6.6" stroke="#2f9a50" stroke-width="1.25" fill="none"/>
<path d="M487.62 256.33L491.52 261.13L487.62 265.93L483.72 261.13Z" fill="#2f9a50"/>
<path d="M495.46 253.47V263.04M492.16 253.47h6.6M492.16 263.04h6.6" stroke="#2f9a50" stroke-width="1.25" fill="none"/>
<path d="M495.46 253.45L499.36 258.25L495.46 263.05L491.56 258.25Z" fill="#2f9a50"/>
<path d="M503.3 257.02V266.47M500 257.02h6.6M500 266.47h6.6" stroke="#2f9a50" stroke-width="1.25" fill="none"/>
<path d="M503.3 256.95L507.2 261.75L503.3 266.55L499.4 261.75Z" fill="#2f9a50"/>
<path d="M511.13 255.98V265.46M507.83 255.98h6.6M507.83 265.46h6.6" stroke="#2f9a50" stroke-width="1.25" fill="none"/>
<path d="M511.13 255.92L515.03 260.72L511.13 265.52L507.23 260.72Z" fill="#2f9a50"/>
<path d="M518.97 256.6V266.07M515.67 256.6h6.6M515.67 266.07h6.6" stroke="#2f9a50" stroke-width="1.25" fill="none"/>
<path d="M518.97 256.53L522.87 261.33L518.97 266.13L515.07 261.33Z" fill="#2f9a50"/>
<path d="M526.81 256.18V265.66M523.51 256.18h6.6M523.51 265.66h6.6" stroke="#2f9a50" stroke-width="1.25" fill="none"/>
<path d="M526.81 256.12L530.71 260.92L526.81 265.72L522.91 260.92Z" fill="#2f9a50"/>
<path d="M534.65 255.56V265.06M531.35 255.56h6.6M531.35 265.06h6.6" stroke="#2f9a50" stroke-width="1.25" fill="none"/>
<path d="M534.65 255.51L538.55 260.31L534.65 265.11L530.75 260.31Z" fill="#2f9a50"/>
<path d="M542.48 256.6V266.07M539.18 256.6h6.6M539.18 266.07h6.6" stroke="#2f9a50" stroke-width="1.25" fill="none"/>
<path d="M542.48 256.53L546.38 261.33L542.48 266.13L538.58 261.33Z" fill="#2f9a50"/>
<path d="M550.32 256.91V266.37M547.02 256.91h6.6M547.02 266.37h6.6" stroke="#2f9a50" stroke-width="1.25" fill="none"/>
<path d="M550.32 256.84L554.22 261.64L550.32 266.44L546.42 261.64Z" fill="#2f9a50"/>
<path d="M558.16 260.09V269.44M554.86 260.09h6.6M554.86 269.44h6.6" stroke="#2f9a50" stroke-width="1.25" fill="none"/>
<path d="M558.16 259.97L562.06 264.77L558.16 269.57L554.26 264.77Z" fill="#2f9a50"/>
<path d="M566 258.91V268.3M562.7 258.91h6.6M562.7 268.3h6.6" stroke="#2f9a50" stroke-width="1.25" fill="none"/>
<path d="M566 258.8L569.9 263.6L566 268.4L562.1 263.6Z" fill="#2f9a50"/>
<path d="M573.83 260.05V269.4M570.53 260.05h6.6M570.53 269.4h6.6" stroke="#2f9a50" stroke-width="1.25" fill="none"/>
<path d="M573.83 259.93L577.73 264.73L573.83 269.53L569.93 264.73Z" fill="#2f9a50"/>
<path d="M581.67 259.86V269.22M578.37 259.86h6.6M578.37 269.22h6.6" stroke="#2f9a50" stroke-width="1.25" fill="none"/>
<path d="M581.67 259.74L585.57 264.54L581.67 269.34L577.77 264.54Z" fill="#2f9a50"/>
<path d="M589.51 261.38V270.69M586.21 261.38h6.6M586.21 270.69h6.6" stroke="#2f9a50" stroke-width="1.25" fill="none"/>
<path d="M589.51 261.23L593.41 266.03L589.51 270.83L585.61 266.03Z" fill="#2f9a50"/>
<path d="M597.35 260.65V269.98M594.05 260.65h6.6M594.05 269.98h6.6" stroke="#2f9a50" stroke-width="1.25" fill="none"/>
<path d="M597.35 260.52L601.25 265.32L597.35 270.12L593.45 265.32Z" fill="#2f9a50"/>
<path d="M605.18 263.2V272.44M601.88 263.2h6.6M601.88 272.44h6.6" stroke="#2f9a50" stroke-width="1.25" fill="none"/>
<path d="M605.18 263.02L609.08 267.82L605.18 272.62L601.28 267.82Z" fill="#2f9a50"/>
<path d="M613.02 263.22V272.46M609.72 263.22h6.6M609.72 272.46h6.6" stroke="#2f9a50" stroke-width="1.25" fill="none"/>
<path d="M613.02 263.04L616.92 267.84L613.02 272.64L609.12 267.84Z" fill="#2f9a50"/>
<path d="M620.86 262.98V272.22M617.56 262.98h6.6M617.56 272.22h6.6" stroke="#2f9a50" stroke-width="1.25" fill="none"/>
<path d="M620.86 262.8L624.76 267.6L620.86 272.4L616.96 267.6Z" fill="#2f9a50"/>
<path d="M628.7 267V276.1M625.4 267h6.6M625.4 276.1h6.6" stroke="#2f9a50" stroke-width="1.25" fill="none"/>
<path d="M628.7 266.75L632.6 271.55L628.7 276.35L624.8 271.55Z" fill="#2f9a50"/>
<path d="M636.53 264.2V273.4M633.23 264.2h6.6M633.23 273.4h6.6" stroke="#2f9a50" stroke-width="1.25" fill="none"/>
<path d="M636.53 264L640.43 268.8L636.53 273.6L632.63 268.8Z" fill="#2f9a50"/>
<path d="M644.37 265.54V274.7M641.07 265.54h6.6M641.07 274.7h6.6" stroke="#2f9a50" stroke-width="1.25" fill="none"/>
<path d="M644.37 265.32L648.27 270.12L644.37 274.92L640.47 270.12Z" fill="#2f9a50"/>
<path d="M652.21 267.59V276.68M648.91 267.59h6.6M648.91 276.68h6.6" stroke="#2f9a50" stroke-width="1.25" fill="none"/>
<path d="M652.21 267.34L656.11 272.14L652.21 276.94L648.31 272.14Z" fill="#2f9a50"/>
<path d="M660.05 269.46V278.47M656.75 269.46h6.6M656.75 278.47h6.6" stroke="#2f9a50" stroke-width="1.25" fill="none"/>
<path d="M660.05 269.16L663.95 273.96L660.05 278.76L656.15 273.96Z" fill="#2f9a50"/>
<path d="M667.88 269.65V278.65M664.58 269.65h6.6M664.58 278.65h6.6" stroke="#2f9a50" stroke-width="1.25" fill="none"/>
<path d="M667.88 269.35L671.78 274.15L667.88 278.95L663.98 274.15Z" fill="#2f9a50"/>
<path d="M675.72 271.08V280.03M672.42 271.08h6.6M672.42 280.03h6.6" stroke="#2f9a50" stroke-width="1.25" fill="none"/>
<path d="M675.72 270.76L679.62 275.56L675.72 280.36L671.82 275.56Z" fill="#2f9a50"/>
<path d="M683.56 270.78V279.74M680.26 270.78h6.6M680.26 279.74h6.6" stroke="#2f9a50" stroke-width="1.25" fill="none"/>
<path d="M683.56 270.46L687.46 275.26L683.56 280.06L679.66 275.26Z" fill="#2f9a50"/>
<rect x="401.8" y="29.2" width="28.02" height="287.6" fill="#7a7a7a" fill-opacity="0.62"/>
<rect x="251.7" y="39.5" width="116.6" height="128.7" fill="#fff" stroke="#7a7a7a" stroke-width="1.1"/>
<path d="M272.2 43.9V59.1M268.9 43.9h6.6M268.9 59.1h6.6" stroke="#0000f5" stroke-width="1.25" fill="none"/>
<circle cx="272.2" cy="51.5" r="3.55" fill="#0000f5"/>
<text x="291.6" y="58" font-size="15.6" fill="#111" font-family="Liberation Sans" textLength="70.5" lengthAdjust="spacingAndGlyphs">q = 0.175</text>
<path d="M272.2 64.78V79.98M268.9 64.78h6.6M268.9 79.98h6.6" stroke="#9400f0" stroke-width="1.25" fill="none"/>
<path d="M272.2 68.42L276.3 75.62L268.1 75.62Z" fill="#9400f0"/>
<text x="291.6" y="78.88" font-size="15.6" fill="#111" font-family="Liberation Sans" textLength="61.0" lengthAdjust="spacingAndGlyphs">q = 0.20</text>
<path d="M272.2 85.66V100.86M268.9 85.66h6.6M268.9 100.86h6.6" stroke="#ff1f8f" stroke-width="1.25" fill="none"/>
<path d="M272.2 96.89L276 90.29L268.4 90.29Z" fill="none" stroke="#ff1f8f" stroke-width="1.1"/>
<text x="291.6" y="99.76" font-size="15.6" fill="#111" font-family="Liberation Sans" textLength="70.5" lengthAdjust="spacingAndGlyphs">q = 0.225</text>
<path d="M272.2 106.54V121.74M268.9 106.54h6.6M268.9 121.74h6.6" stroke="#ff0a0a" stroke-width="1.25" fill="none"/>
<rect x="269.2" y="111.14" width="6" height="6" fill="#ff0a0a"/>
<text x="291.6" y="120.64" font-size="15.6" fill="#111" font-family="Liberation Sans" textLength="61.0" lengthAdjust="spacingAndGlyphs">q = 0.30</text>
<path d="M272.2 127.42V142.62M268.9 127.42h6.6M268.9 142.62h6.6" stroke="#ff7a1a" stroke-width="1.25" fill="none"/>
<circle cx="272.2" cy="135.02" r="3.1" fill="none" stroke="#ff7a1a" stroke-width="1.25"/>
<text x="291.6" y="141.52" font-size="15.6" fill="#111" font-family="Liberation Sans" textLength="61.0" lengthAdjust="spacingAndGlyphs">q = 0.40</text>
<path d="M272.2 148.3V163.5M268.9 148.3h6.6M268.9 163.5h6.6" stroke="#2f9a50" stroke-width="1.25" fill="none"/>
<path d="M272.2 151.1L276.1 155.9L272.2 160.7L268.3 155.9Z" fill="#2f9a50"/>
<text x="291.6" y="162.4" font-size="15.6" fill="#111" font-family="Liberation Sans" textLength="61.0" lengthAdjust="spacingAndGlyphs">q = 0.50</text>
<rect x="597.3" y="39.5" width="107.3" height="128.7" fill="#fff" stroke="#7a7a7a" stroke-width="1.1"/>
<path d="M617.4 43.9V59.1M614.1 43.9h6.6M614.1 59.1h6.6" stroke="#0000f5" stroke-width="1.25" fill="none"/>
<circle cx="617.4" cy="51.5" r="3.55" fill="#0000f5"/>
<text x="637.2" y="58" font-size="15.6" fill="#111" font-family="Liberation Sans" textLength="61.0" lengthAdjust="spacingAndGlyphs">q = 0.10</text>
<path d="M617.4 64.78V79.98M614.1 64.78h6.6M614.1 79.98h6.6" stroke="#9400f0" stroke-width="1.25" fill="none"/>
<path d="M617.4 68.42L621.5 75.62L613.3 75.62Z" fill="#9400f0"/>
<text x="637.2" y="78.88" font-size="15.6" fill="#111" font-family="Liberation Sans" textLength="61.0" lengthAdjust="spacingAndGlyphs">q = 0.12</text>
<path d="M617.4 85.66V100.86M614.1 85.66h6.6M614.1 100.86h6.6" stroke="#ff1f8f" stroke-width="1.25" fill="none"/>
<path d="M617.4 96.89L621.2 90.29L613.6 90.29Z" fill="none" stroke="#ff1f8f" stroke-width="1.1"/>
<text x="637.2" y="99.76" font-size="15.6" fill="#111" font-family="Liberation Sans" textLength="61.0" lengthAdjust="spacingAndGlyphs">q = 0.14</text>
<path d="M617.4 106.54V121.74M614.1 106.54h6.6M614.1 121.74h6.6" stroke="#ff0a0a" stroke-width="1.25" fill="none"/>
<rect x="614.4" y="111.14" width="6" height="6" fill="#ff0a0a"/>
<text x="637.2" y="120.64" font-size="15.6" fill="#111" font-family="Liberation Sans" textLength="61.0" lengthAdjust="spacingAndGlyphs">q = 0.16</text>
<path d="M617.4 127.42V142.62M614.1 127.42h6.6M614.1 142.62h6.6" stroke="#ff7a1a" stroke-width="1.25" fill="none"/>
<circle cx="617.4" cy="135.02" r="3.1" fill="none" stroke="#ff7a1a" stroke-width="1.25"/>
<text x="637.2" y="141.52" font-size="15.6" fill="#111" font-family="Liberation Sans" textLength="61.0" lengthAdjust="spacingAndGlyphs">q = 0.20</text>
<path d="M617.4 148.3V163.5M614.1 148.3h6.6M614.1 163.5h6.6" stroke="#2f9a50" stroke-width="1.25" fill="none"/>
<path d="M617.4 151.1L621.3 155.9L617.4 160.7L613.5 155.9Z" fill="#2f9a50"/>
<text x="637.2" y="162.4" font-size="15.6" fill="#111" font-family="Liberation Sans" textLength="61.0" lengthAdjust="spacingAndGlyphs">q = 0.30</text>
<path d="M65.8 675.6L68.38 673.76L70.97 671.93L73.55 670.09L76.14 668.26L78.72 666.42L81.31 664.59L83.89 662.76L86.48 660.93L89.06 659.11L91.64 657.28L94.23 655.46L96.81 653.65L99.4 651.84L101.98 650.03L104.57 648.22L107.15 646.43L109.74 644.63L112.32 642.84L114.9 641.06L117.49 639.29L120.07 637.52L122.66 635.75L125.24 634L127.83 632.25L130.41 630.5L133 628.77L135.58 627.04L138.16 625.33L140.75 623.62L143.33 621.92L145.92 620.23L148.5 618.55L151.09 616.88L153.67 615.22L156.26 613.57L158.84 611.93L161.42 610.3L164.01 608.68L166.59 607.08L169.18 605.49L171.76 603.91L174.35 602.34L176.93 600.78L179.52 599.24L182.1 597.71L184.68 596.2L187.27 594.69L189.85 593.21L192.44 591.73L195.02 590.27L197.61 588.83L200.19 587.4L202.78 585.99L205.36 584.59L207.94 583.21L210.53 581.84L213.11 580.49L215.7 579.16L218.28 577.85L220.87 576.55L223.45 575.27L226.04 574L228.62 572.75L231.2 571.53L233.79 570.32L236.37 569.12L238.96 567.95L241.54 566.79L244.13 565.66L246.71 564.54L249.3 563.45L251.88 562.37L254.46 561.31L257.05 560.27L259.63 559.25L262.22 558.26L264.8 557.28L267.39 556.32L269.97 555.39L272.56 554.47L275.14 553.58L277.72 552.7L280.31 551.85L282.89 551.02L285.48 550.21L288.06 549.43L290.65 548.66L293.23 547.92L295.82 547.2L298.4 546.51L300.98 545.83L303.57 545.18L306.15 544.55L308.74 543.94L311.32 543.36L313.91 542.8L316.49 542.26L319.08 541.75L321.66 541.25L324.24 540.79L326.83 540.34L329.41 539.92L332 539.53L334.58 539.15L337.17 538.8L339.75 538.48L342.34 538.18L344.92 537.9L347.5 537.64L350.09 537.41L352.67 537.21L355.26 537.03L357.84 536.87L360.43 536.74L363.01 536.63L365.6 536.54L368.18 536.48L370.76 536.45L373.35 536.43" stroke="#b0001e" stroke-width="1.8" fill="none"/>
<path d="M401.7 675.6L404.04 672.46L406.37 669.33L408.71 666.2L411.05 663.06L413.38 659.93L415.72 656.8L418.06 653.68L420.39 650.55L422.73 647.43L425.07 644.32L427.4 641.21L429.74 638.1L432.08 635L434.41 631.91L436.75 628.82L439.08 625.74L441.42 622.66L443.76 619.59L446.09 616.53L448.43 613.48L450.77 610.44L453.1 607.41L455.44 604.38L457.78 601.37L460.11 598.37L462.45 595.38L464.79 592.4L467.12 589.43L469.46 586.47L471.8 583.53L474.13 580.6L476.47 577.68L478.81 574.78L481.14 571.89L483.48 569.02L485.82 566.16L488.15 563.32L490.49 560.49L492.83 557.68L495.16 554.89L497.5 552.11L499.84 549.35L502.17 546.61L504.51 543.89L506.85 541.18L509.18 538.5L511.52 535.83L513.85 533.19L516.19 530.56L518.53 527.96L520.86 525.37L523.2 522.81L525.54 520.27L527.87 517.75L530.21 515.26L532.55 512.79L534.88 510.34L537.22 507.91L539.56 505.51L541.89 503.13L544.23 500.78L546.57 498.45L548.9 496.14L551.24 493.87L553.58 491.61L555.91 489.39L558.25 487.19L560.59 485.01L562.92 482.87L565.26 480.75L567.6 478.66L569.93 476.6L572.27 474.56L574.61 472.56L576.94 470.58L579.28 468.64L581.62 466.72L583.95 464.83L586.29 462.97" stroke="#b0001e" stroke-width="1.8" fill="none"/>
<path d="M586.29 462.97L587.85 461.75L589.4 460.54L590.96 459.35L592.52 458.17L594.08 457L595.63 455.84L597.19 454.71L598.75 453.58L600.31 452.47L601.87 451.37L603.42 450.29L604.98 449.22L606.54 448.16L608.1 447.12L609.65 446.1L611.21 445.09L612.77 444.09L614.33 443.11L615.88 442.14L617.44 441.19L619 440.25L620.56 439.33L622.12 438.42L623.67 437.52L625.23 436.65L626.79 435.78L628.35 434.94L629.9 434.1L631.46 433.29L633.02 432.48L634.58 431.7L636.13 430.93L637.69 430.17L639.25 429.43L640.81 428.71L642.37 428L643.92 427.3L645.48 426.63L647.04 425.97L648.6 425.32L650.15 424.69L651.71 424.08L653.27 423.48L654.83 422.89L656.39 422.33L657.94 421.78L659.5 421.24L661.06 420.73L662.62 420.22L664.17 419.74L665.73 419.27L667.29 418.81L668.85 418.38L670.4 417.96L671.96 417.55L673.52 417.16L675.08 416.79L676.64 416.43L678.19 416.1L679.75 415.77L681.31 415.47L682.87 415.18L684.42 414.9L685.98 414.65L687.54 414.4L689.1 414.18L690.65 413.97L692.21 413.78L693.77 413.61L695.33 413.45L696.89 413.31L698.44 413.18L700 413.08L701.56 412.98L703.12 412.91L704.67 412.85L706.23 412.81L707.79 412.79L709.35 412.78" stroke="#b0001e" stroke-width="1.8" fill="none" stroke-dasharray="10.5 7" stroke-dashoffset="10.5"/>
<path d="M111.93 641.13V649.75M109.43 641.13h5M109.43 649.75h5" stroke="#0000f5" stroke-width="1.1" fill="none"/>
<path d="M111.93 639.34L116.23 645.44L111.93 651.54L107.63 645.44Z" fill="none" stroke="#0000f5" stroke-width="1.3"/>
<path d="M127.31 633.38V640.27M124.81 633.38h5M124.81 640.27h5" stroke="#0000f5" stroke-width="1.1" fill="none"/>
<path d="M127.31 630.72L131.61 636.82L127.31 642.92L123.01 636.82Z" fill="none" stroke="#0000f5" stroke-width="1.3"/>
<path d="M142.69 623.47V632.08M140.19 623.47h5M140.19 632.08h5" stroke="#0000f5" stroke-width="1.1" fill="none"/>
<path d="M142.69 621.67L146.99 627.77L142.69 633.87L138.39 627.77Z" fill="none" stroke="#0000f5" stroke-width="1.3"/>
<path d="M158.06 614.85V623.47M155.56 614.85h5M155.56 623.47h5" stroke="#0000f5" stroke-width="1.1" fill="none"/>
<path d="M158.06 613.06L162.36 619.16L158.06 625.26L153.76 619.16Z" fill="none" stroke="#0000f5" stroke-width="1.3"/>
<path d="M173.44 595.89V602.79M170.14 595.89h6.6M170.14 602.79h6.6" stroke="#0000f5" stroke-width="1.25" fill="none"/>
<path d="M173.44 592.64L178.64 599.34L173.44 606.04L168.24 599.34Z" fill="#0000f5"/>
<path d="M188.82 584.69V591.58M185.52 584.69h6.6M185.52 591.58h6.6" stroke="#0000f5" stroke-width="1.25" fill="none"/>
<path d="M188.82 581.44L194.02 588.14L188.82 594.84L183.62 588.14Z" fill="#0000f5"/>
<path d="M204.2 573.06V581.67M200.9 573.06h6.6M200.9 581.67h6.6" stroke="#0000f5" stroke-width="1.25" fill="none"/>
<path d="M204.2 570.66L209.4 577.36L204.2 584.06L199 577.36Z" fill="#0000f5"/>
<path d="M234.95 556.68V569.61M231.65 556.68h6.6M231.65 569.61h6.6" stroke="#0000f5" stroke-width="1.25" fill="none"/>
<path d="M234.95 556.45L240.15 563.15L234.95 569.85L229.75 563.15Z" fill="#0000f5"/>
<path d="M250.33 556.25V564.87M247.03 556.25h6.6M247.03 564.87h6.6" stroke="#0000f5" stroke-width="1.25" fill="none"/>
<path d="M250.33 553.86L255.53 560.56L250.33 567.26L245.13 560.56Z" fill="#0000f5"/>
<path d="M265.71 543.76V557.55M262.41 543.76h6.6M262.41 557.55h6.6" stroke="#0000f5" stroke-width="1.25" fill="none"/>
<path d="M265.71 543.95L270.91 550.65L265.71 557.35L260.51 550.65Z" fill="#0000f5"/>
<path d="M281.08 542.03V556.68M277.78 542.03h6.6M277.78 556.68h6.6" stroke="#0000f5" stroke-width="1.25" fill="none"/>
<path d="M281.08 542.66L286.28 549.36L281.08 556.06L275.88 549.36Z" fill="#0000f5"/>
<path d="M296.46 538.16V552.81M293.16 538.16h6.6M293.16 552.81h6.6" stroke="#0000f5" stroke-width="1.25" fill="none"/>
<path d="M296.46 538.78L301.66 545.48L296.46 552.18L291.26 545.48Z" fill="#0000f5"/>
<path d="M311.84 530.4V548.5M308.54 530.4h6.6M308.54 548.5h6.6" stroke="#0000f5" stroke-width="1.25" fill="none"/>
<path d="M311.84 532.75L317.04 539.45L311.84 546.15L306.64 539.45Z" fill="#0000f5"/>
<path d="M327.22 521.57V547.85M323.92 521.57h6.6M323.92 547.85h6.6" stroke="#0000f5" stroke-width="1.25" fill="none"/>
<path d="M327.22 528.01L332.42 534.71L327.22 541.41L322.02 534.71Z" fill="#0000f5"/>
<path d="M373.35 500.24V548.5M370.05 500.24h6.6M370.05 548.5h6.6" stroke="#0000f5" stroke-width="1.25" fill="none"/>
<path d="M373.35 517.67L378.55 524.37L373.35 531.07L368.15 524.37Z" fill="#0000f5"/>
<path d="M463.23 592.66V596.97M459.93 592.66h6.6M459.93 596.97h6.6" stroke="#ff0a0a" stroke-width="1.25" fill="none"/>
<rect x="458.43" y="590.01" width="9.6" height="9.6" fill="#ff0a0a"/>
<path d="M475.54 573.06V577.36M472.24 573.06h6.6M472.24 577.36h6.6" stroke="#ff0a0a" stroke-width="1.25" fill="none"/>
<rect x="470.74" y="570.41" width="9.6" height="9.6" fill="#ff0a0a"/>
<path d="M487.84 560.13V564.44M484.54 560.13h6.6M484.54 564.44h6.6" stroke="#ff0a0a" stroke-width="1.25" fill="none"/>
<rect x="483.04" y="557.48" width="9.6" height="9.6" fill="#ff0a0a"/>
<path d="M500.15 545.48V549.79M496.85 545.48h6.6M496.85 549.79h6.6" stroke="#ff0a0a" stroke-width="1.25" fill="none"/>
<rect x="495.35" y="542.84" width="9.6" height="9.6" fill="#ff0a0a"/>
<path d="M512.45 533.42V537.73M509.15 533.42h6.6M509.15 537.73h6.6" stroke="#ff0a0a" stroke-width="1.25" fill="none"/>
<rect x="507.65" y="530.77" width="9.6" height="9.6" fill="#ff0a0a"/>
<path d="M524.76 523.51V527.82M521.46 523.51h6.6M521.46 527.82h6.6" stroke="#ff0a0a" stroke-width="1.25" fill="none"/>
<rect x="519.96" y="520.86" width="9.6" height="9.6" fill="#ff0a0a"/>
<path d="M537.06 513.17V522.65M533.76 513.17h6.6M533.76 522.65h6.6" stroke="#ff0a0a" stroke-width="1.25" fill="none"/>
<rect x="532.26" y="513.11" width="9.6" height="9.6" fill="#ff0a0a"/>
<path d="M549.37 492.92V520.49M546.07 492.92h6.6M546.07 520.49h6.6" stroke="#ff0a0a" stroke-width="1.25" fill="none"/>
<rect x="544.57" y="501.9" width="9.6" height="9.6" fill="#ff0a0a"/>
<path d="M586.29 470.94V514.46M582.99 470.94h6.6M582.99 514.46h6.6" stroke="#ff0a0a" stroke-width="1.25" fill="none"/>
<rect x="581.49" y="487.9" width="9.6" height="9.6" fill="#ff0a0a"/>
<path d="M111.93 983.67V988.5M109.43 983.67h5M109.43 988.5h5" stroke="#0000f5" stroke-width="1.1" fill="none"/>
<circle cx="111.93" cy="986.09" r="4.3" fill="none" stroke="#0000f5" stroke-width="1.3"/>
<path d="M127.31 983.67V988.5M124.81 983.67h5M124.81 988.5h5" stroke="#0000f5" stroke-width="1.1" fill="none"/>
<circle cx="127.31" cy="986.09" r="4.3" fill="none" stroke="#0000f5" stroke-width="1.3"/>
<path d="M142.69 958.54V978.84M140.19 958.54h5M140.19 978.84h5" stroke="#0000f5" stroke-width="1.1" fill="none"/>
<circle cx="142.69" cy="968.69" r="4.3" fill="none" stroke="#0000f5" stroke-width="1.3"/>
<path d="M158.06 961.68V987.54M155.56 961.68h5M155.56 987.54h5" stroke="#0000f5" stroke-width="1.1" fill="none"/>
<circle cx="158.06" cy="974.61" r="4.3" fill="none" stroke="#0000f5" stroke-width="1.3"/>
<path d="M173.44 963.37V973.04M170.14 963.37h6.6M170.14 973.04h6.6" stroke="#0000f5" stroke-width="1.25" fill="none"/>
<circle cx="173.44" cy="968.2" r="5.15" fill="#0000f5"/>
<path d="M188.82 949.96V964.46M185.52 949.96h6.6M185.52 964.46h6.6" stroke="#0000f5" stroke-width="1.25" fill="none"/>
<circle cx="188.82" cy="957.21" r="5.15" fill="#0000f5"/>
<path d="M204.2 913.7V939.32M200.9 913.7h6.6M200.9 939.32h6.6" stroke="#0000f5" stroke-width="1.25" fill="none"/>
<circle cx="204.2" cy="926.51" r="5.15" fill="#0000f5"/>
<path d="M234.95 910.44V950.8M231.65 910.44h6.6M231.65 950.8h6.6" stroke="#0000f5" stroke-width="1.25" fill="none"/>
<circle cx="234.95" cy="930.62" r="5.15" fill="#0000f5"/>
<path d="M250.33 919.38V934.61M247.03 919.38h6.6M247.03 934.61h6.6" stroke="#0000f5" stroke-width="1.25" fill="none"/>
<circle cx="250.33" cy="927" r="5.15" fill="#0000f5"/>
<path d="M265.71 904.52V940.29M262.41 904.52h6.6M262.41 940.29h6.6" stroke="#0000f5" stroke-width="1.25" fill="none"/>
<circle cx="265.71" cy="922.4" r="5.15" fill="#0000f5"/>
<path d="M281.08 868.75V911.77M277.78 868.75h6.6M277.78 911.77h6.6" stroke="#0000f5" stroke-width="1.25" fill="none"/>
<circle cx="281.08" cy="890.26" r="5.15" fill="#0000f5"/>
<path d="M296.46 879.75V920.11M293.16 879.75h6.6M293.16 920.11h6.6" stroke="#0000f5" stroke-width="1.25" fill="none"/>
<circle cx="296.46" cy="899.93" r="5.15" fill="#0000f5"/>
<path d="M311.84 852.56V903.31M308.54 852.56h6.6M308.54 903.31h6.6" stroke="#0000f5" stroke-width="1.25" fill="none"/>
<circle cx="311.84" cy="877.93" r="5.15" fill="#0000f5"/>
<path d="M327.22 823.44V902.22M323.92 823.44h6.6M323.92 902.22h6.6" stroke="#0000f5" stroke-width="1.25" fill="none"/>
<circle cx="327.22" cy="862.83" r="5.15" fill="#0000f5"/>
<path d="M373.35 724.83V891.59M370.05 724.83h6.6M370.05 891.59h6.6" stroke="#0000f5" stroke-width="1.25" fill="none"/>
<circle cx="373.35" cy="808.21" r="5.15" fill="#0000f5"/>
<path d="M463.23 952.49V957.33M459.93 952.49h6.6M459.93 957.33h6.6" stroke="#ff0a0a" stroke-width="1.25" fill="none"/>
<path d="M456.63 954.91L468.63 948.61L468.63 961.21Z" fill="#ff0a0a"/>
<path d="M475.54 950.2V955.03M472.24 950.2h6.6M472.24 955.03h6.6" stroke="#ff0a0a" stroke-width="1.25" fill="none"/>
<path d="M468.94 952.61L480.94 946.31L480.94 958.91Z" fill="#ff0a0a"/>
<path d="M487.84 943.43V950.68M484.54 943.43h6.6M484.54 950.68h6.6" stroke="#ff0a0a" stroke-width="1.25" fill="none"/>
<path d="M481.24 947.06L493.24 940.76L493.24 953.36Z" fill="#ff0a0a"/>
<path d="M500.15 926.51V940.29M496.85 926.51h6.6M496.85 940.29h6.6" stroke="#ff0a0a" stroke-width="1.25" fill="none"/>
<path d="M493.55 933.4L505.55 927.1L505.55 939.7Z" fill="#ff0a0a"/>
<path d="M512.45 916.85V937.87M509.15 916.85h6.6M509.15 937.87h6.6" stroke="#ff0a0a" stroke-width="1.25" fill="none"/>
<path d="M505.85 927.36L517.85 921.06L517.85 933.66Z" fill="#ff0a0a"/>
<path d="M524.76 909.47V928.81M521.46 909.47h6.6M521.46 928.81h6.6" stroke="#ff0a0a" stroke-width="1.25" fill="none"/>
<path d="M518.16 919.14L530.16 912.84L530.16 925.44Z" fill="#ff0a0a"/>
<path d="M537.06 860.78V895.09M533.76 860.78h6.6M533.76 895.09h6.6" stroke="#ff0a0a" stroke-width="1.25" fill="none"/>
<path d="M530.46 877.93L542.46 871.63L542.46 884.23Z" fill="#ff0a0a"/>
<path d="M549.37 756.01V844.95M546.07 756.01h6.6M546.07 844.95h6.6" stroke="#ff0a0a" stroke-width="1.25" fill="none"/>
<path d="M542.77 800.48L554.77 794.18L554.77 806.78Z" fill="#ff0a0a"/>
<path d="M586.29 774.86V843.5M582.99 774.86h6.6M582.99 843.5h6.6" stroke="#ff0a0a" stroke-width="1.25" fill="none"/>
<path d="M579.69 809.18L591.69 802.88L591.69 815.48Z" fill="#ff0a0a"/>
<rect x="279.5" y="384.4" width="89" height="42.2" fill="#fff" stroke="#7a7a7a" stroke-width="1.1"/>
<rect x="279.5" y="707.6" width="89" height="42.1" fill="#fff" stroke="#7a7a7a" stroke-width="1.1"/>
<path d="M299.8 388.7V403.3M296.8 388.7h6M296.8 403.3h6" stroke="#0000f5" stroke-width="1.2" fill="none"/>
<path d="M299.8 392.22L302.47 396L299.8 399.78L297.13 396Z" fill="none" stroke="#0000f5" stroke-width="1.3"/>
<text x="318.8" y="401.4" font-size="15" fill="#111" font-family="Liberation Sans">SPINS</text>
<path d="M299.8 408.1V422.7M296.8 408.1h6M296.8 422.7h6" stroke="#0000f5" stroke-width="1.2" fill="none"/>
<path d="M299.8 411.25L303.02 415.4L299.8 419.55L296.58 415.4Z" fill="#0000f5"/>
<text x="318.8" y="420.8" font-size="15" fill="#111" font-family="Liberation Sans">IN22</text>
<path d="M299.6 711.8V726.4M296.6 711.8h6M296.6 726.4h6" stroke="#0000f5" stroke-width="1.2" fill="none"/>
<circle cx="299.6" cy="719.1" r="3.1" fill="none" stroke="#0000f5" stroke-width="1.3"/>
<text x="318.8" y="724.5" font-size="15" fill="#111" font-family="Liberation Sans">SPINS</text>
<path d="M299.6 730.9V745.5M296.6 730.9h6M296.6 745.5h6" stroke="#0000f5" stroke-width="1.2" fill="none"/>
<circle cx="299.6" cy="738.2" r="3.71" fill="#0000f5"/>
<text x="318.8" y="743.6" font-size="15" fill="#111" font-family="Liberation Sans">IN22</text>
<rect x="628.2" y="384.3" width="76.2" height="23" fill="#fff" stroke="#7a7a7a" stroke-width="1.1"/>
<path d="M648.4 388.6V403.3M645.4 388.6h6M645.4 403.3h6" stroke="#ff0a0a" stroke-width="1.2" fill="none"/>
<rect x="645.52" y="393.12" width="5.76" height="5.76" fill="#ff0a0a"/>
<text x="667.9" y="401.4" font-size="15" fill="#111" font-family="Liberation Sans">IN22</text>
<rect x="628.2" y="707.5" width="76.2" height="22.8" fill="#fff" stroke="#7a7a7a" stroke-width="1.1"/>
<path d="M648 711.8V726.2M645 711.8h6M645 726.2h6" stroke="#ff0a0a" stroke-width="1.2" fill="none"/>
<path d="M643.85 719L652.49 714.46L652.49 723.54Z" fill="#ff0a0a"/>
<text x="667.9" y="724.4" font-size="15" fill="#111" font-family="Liberation Sans">IN22</text>
<path d="M66 316.8v-2M66 29.2v2M85.59 316.8v-2M85.59 29.2v2M105.17 316.8v-2M105.17 29.2v2M124.76 316.8v-2M124.76 29.2v2M144.35 316.8v-2M144.35 29.2v2M163.94 316.8v-2M163.94 29.2v2M183.52 316.8v-2M183.52 29.2v2M203.11 316.8v-2M203.11 29.2v2M222.7 316.8v-2M222.7 29.2v2M242.29 316.8v-2M242.29 29.2v2M261.88 316.8v-2M261.88 29.2v2M281.46 316.8v-2M281.46 29.2v2M301.05 316.8v-2M301.05 29.2v2M320.64 316.8v-2M320.64 29.2v2M340.22 316.8v-2M340.22 29.2v2M359.81 316.8v-2M359.81 29.2v2M379.4 316.8v-2M379.4 29.2v2M66 316.8v-3.5M66 29.2v3.5M144.35 316.8v-3.5M144.35 29.2v3.5M222.7 316.8v-3.5M222.7 29.2v3.5M301.05 316.8v-3.5M301.05 29.2v3.5M379.4 316.8v-3.5M379.4 29.2v3.5M66 316.8h2M379.4 316.8h-2M66 306.53h2M379.4 306.53h-2M66 296.26h2M379.4 296.26h-2M66 285.99h2M379.4 285.99h-2M66 275.71h2M379.4 275.71h-2M66 265.44h2M379.4 265.44h-2M66 255.17h2M379.4 255.17h-2M66 244.9h2M379.4 244.9h-2M66 234.63h2M379.4 234.63h-2M66 224.36h2M379.4 224.36h-2M66 214.09h2M379.4 214.09h-2M66 203.81h2M379.4 203.81h-2M66 193.54h2M379.4 193.54h-2M66 183.27h2M379.4 183.27h-2M66 173h2M379.4 173h-2M66 162.73h2M379.4 162.73h-2M66 152.46h2M379.4 152.46h-2M66 142.19h2M379.4 142.19h-2M66 131.91h2M379.4 131.91h-2M66 121.64h2M379.4 121.64h-2M66 111.37h2M379.4 111.37h-2M66 101.1h2M379.4 101.1h-2M66 90.83h2M379.4 90.83h-2M66 80.56h2M379.4 80.56h-2M66 70.29h2M379.4 70.29h-2M66 60.01h2M379.4 60.01h-2M66 49.74h2M379.4 49.74h-2M66 39.47h2M379.4 39.47h-2M66 29.2h2M379.4 29.2h-2M66 316.8h3.5M379.4 316.8h-3.5M66 275.71h3.5M379.4 275.71h-3.5M66 234.63h3.5M379.4 234.63h-3.5M66 193.54h3.5M379.4 193.54h-3.5M66 152.46h3.5M379.4 152.46h-3.5M66 111.37h3.5M379.4 111.37h-3.5M66 70.29h3.5M379.4 70.29h-3.5M66 29.2h3.5M379.4 29.2h-3.5" stroke="#555" stroke-width="1" fill="none"/>
<rect x="66" y="29.2" width="313.4" height="287.6" fill="none" stroke="#9a9a9a" stroke-width="1.6"/>
<path d="M401.8 316.8v-2M401.8 29.2v2M421.39 316.8v-2M421.39 29.2v2M440.99 316.8v-2M440.99 29.2v2M460.58 316.8v-2M460.58 29.2v2M480.18 316.8v-2M480.18 29.2v2M499.77 316.8v-2M499.77 29.2v2M519.36 316.8v-2M519.36 29.2v2M538.96 316.8v-2M538.96 29.2v2M558.55 316.8v-2M558.55 29.2v2M578.14 316.8v-2M578.14 29.2v2M597.74 316.8v-2M597.74 29.2v2M617.33 316.8v-2M617.33 29.2v2M636.92 316.8v-2M636.92 29.2v2M656.52 316.8v-2M656.52 29.2v2M676.11 316.8v-2M676.11 29.2v2M695.71 316.8v-2M695.71 29.2v2M715.3 316.8v-2M715.3 29.2v2M401.8 316.8v-3.5M401.8 29.2v3.5M480.18 316.8v-3.5M480.18 29.2v3.5M558.55 316.8v-3.5M558.55 29.2v3.5M636.92 316.8v-3.5M636.92 29.2v3.5M715.3 316.8v-3.5M715.3 29.2v3.5M401.8 316.8h2M715.3 316.8h-2M401.8 306.53h2M715.3 306.53h-2M401.8 296.26h2M715.3 296.26h-2M401.8 285.99h2M715.3 285.99h-2M401.8 275.71h2M715.3 275.71h-2M401.8 265.44h2M715.3 265.44h-2M401.8 255.17h2M715.3 255.17h-2M401.8 244.9h2M715.3 244.9h-2M401.8 234.63h2M715.3 234.63h-2M401.8 224.36h2M715.3 224.36h-2M401.8 214.09h2M715.3 214.09h-2M401.8 203.81h2M715.3 203.81h-2M401.8 193.54h2M715.3 193.54h-2M401.8 183.27h2M715.3 183.27h-2M401.8 173h2M715.3 173h-2M401.8 162.73h2M715.3 162.73h-2M401.8 152.46h2M715.3 152.46h-2M401.8 142.19h2M715.3 142.19h-2M401.8 131.91h2M715.3 131.91h-2M401.8 121.64h2M715.3 121.64h-2M401.8 111.37h2M715.3 111.37h-2M401.8 101.1h2M715.3 101.1h-2M401.8 90.83h2M715.3 90.83h-2M401.8 80.56h2M715.3 80.56h-2M401.8 70.29h2M715.3 70.29h-2M401.8 60.01h2M715.3 60.01h-2M401.8 49.74h2M715.3 49.74h-2M401.8 39.47h2M715.3 39.47h-2M401.8 29.2h2M715.3 29.2h-2M401.8 316.8h3.5M715.3 316.8h-3.5M401.8 275.71h3.5M715.3 275.71h-3.5M401.8 234.63h3.5M715.3 234.63h-3.5M401.8 193.54h3.5M715.3 193.54h-3.5M401.8 152.46h3.5M715.3 152.46h-3.5M401.8 111.37h3.5M715.3 111.37h-3.5M401.8 70.29h3.5M715.3 70.29h-3.5M401.8 29.2h3.5M715.3 29.2h-3.5" stroke="#555" stroke-width="1" fill="none"/>
<rect x="401.8" y="29.2" width="313.5" height="287.6" fill="none" stroke="#9a9a9a" stroke-width="1.6"/>
<path d="M65.8 675.6v-2M65.8 374v2M78.1 675.6v-2M78.1 374v2M90.4 675.6v-2M90.4 374v2M102.71 675.6v-2M102.71 374v2M115.01 675.6v-2M115.01 374v2M127.31 675.6v-2M127.31 374v2M139.61 675.6v-2M139.61 374v2M151.91 675.6v-2M151.91 374v2M164.22 675.6v-2M164.22 374v2M176.52 675.6v-2M176.52 374v2M188.82 675.6v-2M188.82 374v2M201.12 675.6v-2M201.12 374v2M213.42 675.6v-2M213.42 374v2M225.73 675.6v-2M225.73 374v2M238.03 675.6v-2M238.03 374v2M250.33 675.6v-2M250.33 374v2M262.63 675.6v-2M262.63 374v2M274.93 675.6v-2M274.93 374v2M287.24 675.6v-2M287.24 374v2M299.54 675.6v-2M299.54 374v2M311.84 675.6v-2M311.84 374v2M324.14 675.6v-2M324.14 374v2M336.44 675.6v-2M336.44 374v2M348.75 675.6v-2M348.75 374v2M361.05 675.6v-2M361.05 374v2M373.35 675.6v-2M373.35 374v2M65.8 675.6v-3.5M65.8 374v3.5M127.31 675.6v-3.5M127.31 374v3.5M188.82 675.6v-3.5M188.82 374v3.5M250.33 675.6v-3.5M250.33 374v3.5M311.84 675.6v-3.5M311.84 374v3.5M373.35 675.6v-3.5M373.35 374v3.5M65.8 675.6h2M379.5 675.6h-2M65.8 666.98h2M379.5 666.98h-2M65.8 658.37h2M379.5 658.37h-2M65.8 649.75h2M379.5 649.75h-2M65.8 641.13h2M379.5 641.13h-2M65.8 632.51h2M379.5 632.51h-2M65.8 623.9h2M379.5 623.9h-2M65.8 615.28h2M379.5 615.28h-2M65.8 606.66h2M379.5 606.66h-2M65.8 598.05h2M379.5 598.05h-2M65.8 589.43h2M379.5 589.43h-2M65.8 580.81h2M379.5 580.81h-2M65.8 572.19h2M379.5 572.19h-2M65.8 563.58h2M379.5 563.58h-2M65.8 554.96h2M379.5 554.96h-2M65.8 546.34h2M379.5 546.34h-2M65.8 537.73h2M379.5 537.73h-2M65.8 529.11h2M379.5 529.11h-2M65.8 520.49h2M379.5 520.49h-2M65.8 511.87h2M379.5 511.87h-2M65.8 503.26h2M379.5 503.26h-2M65.8 494.64h2M379.5 494.64h-2M65.8 486.02h2M379.5 486.02h-2M65.8 477.41h2M379.5 477.41h-2M65.8 468.79h2M379.5 468.79h-2M65.8 460.17h2M379.5 460.17h-2M65.8 451.55h2M379.5 451.55h-2M65.8 442.94h2M379.5 442.94h-2M65.8 434.32h2M379.5 434.32h-2M65.8 425.7h2M379.5 425.7h-2M65.8 417.09h2M379.5 417.09h-2M65.8 408.47h2M379.5 408.47h-2M65.8 399.85h2M379.5 399.85h-2M65.8 391.23h2M379.5 391.23h-2M65.8 382.62h2M379.5 382.62h-2M65.8 374h2M379.5 374h-2M65.8 675.6h3.5M379.5 675.6h-3.5M65.8 632.51h3.5M379.5 632.51h-3.5M65.8 589.43h3.5M379.5 589.43h-3.5M65.8 546.34h3.5M379.5 546.34h-3.5M65.8 503.26h3.5M379.5 503.26h-3.5M65.8 460.17h3.5M379.5 460.17h-3.5M65.8 417.09h3.5M379.5 417.09h-3.5M65.8 374h3.5M379.5 374h-3.5" stroke="#555" stroke-width="1" fill="none"/>
<rect x="65.8" y="374" width="313.7" height="301.6" fill="none" stroke="#9a9a9a" stroke-width="1.6"/>
<path d="M401.7 675.6v-2M401.7 374v2M414.01 675.6v-2M414.01 374v2M426.31 675.6v-2M426.31 374v2M438.62 675.6v-2M438.62 374v2M450.92 675.6v-2M450.92 374v2M463.23 675.6v-2M463.23 374v2M475.54 675.6v-2M475.54 374v2M487.84 675.6v-2M487.84 374v2M500.15 675.6v-2M500.15 374v2M512.45 675.6v-2M512.45 374v2M524.76 675.6v-2M524.76 374v2M537.06 675.6v-2M537.06 374v2M549.37 675.6v-2M549.37 374v2M561.68 675.6v-2M561.68 374v2M573.98 675.6v-2M573.98 374v2M586.29 675.6v-2M586.29 374v2M598.59 675.6v-2M598.59 374v2M610.9 675.6v-2M610.9 374v2M623.21 675.6v-2M623.21 374v2M635.51 675.6v-2M635.51 374v2M647.82 675.6v-2M647.82 374v2M660.12 675.6v-2M660.12 374v2M672.43 675.6v-2M672.43 374v2M684.74 675.6v-2M684.74 374v2M697.04 675.6v-2M697.04 374v2M709.35 675.6v-2M709.35 374v2M401.7 675.6v-3.5M401.7 374v3.5M463.23 675.6v-3.5M463.23 374v3.5M524.76 675.6v-3.5M524.76 374v3.5M586.29 675.6v-3.5M586.29 374v3.5M647.82 675.6v-3.5M647.82 374v3.5M709.35 675.6v-3.5M709.35 374v3.5M401.7 675.6h2M715.5 675.6h-2M401.7 666.98h2M715.5 666.98h-2M401.7 658.37h2M715.5 658.37h-2M401.7 649.75h2M715.5 649.75h-2M401.7 641.13h2M715.5 641.13h-2M401.7 632.51h2M715.5 632.51h-2M401.7 623.9h2M715.5 623.9h-2M401.7 615.28h2M715.5 615.28h-2M401.7 606.66h2M715.5 606.66h-2M401.7 598.05h2M715.5 598.05h-2M401.7 589.43h2M715.5 589.43h-2M401.7 580.81h2M715.5 580.81h-2M401.7 572.19h2M715.5 572.19h-2M401.7 563.58h2M715.5 563.58h-2M401.7 554.96h2M715.5 554.96h-2M401.7 546.34h2M715.5 546.34h-2M401.7 537.73h2M715.5 537.73h-2M401.7 529.11h2M715.5 529.11h-2M401.7 520.49h2M715.5 520.49h-2M401.7 511.87h2M715.5 511.87h-2M401.7 503.26h2M715.5 503.26h-2M401.7 494.64h2M715.5 494.64h-2M401.7 486.02h2M715.5 486.02h-2M401.7 477.41h2M715.5 477.41h-2M401.7 468.79h2M715.5 468.79h-2M401.7 460.17h2M715.5 460.17h-2M401.7 451.55h2M715.5 451.55h-2M401.7 442.94h2M715.5 442.94h-2M401.7 434.32h2M715.5 434.32h-2M401.7 425.7h2M715.5 425.7h-2M401.7 417.09h2M715.5 417.09h-2M401.7 408.47h2M715.5 408.47h-2M401.7 399.85h2M715.5 399.85h-2M401.7 391.23h2M715.5 391.23h-2M401.7 382.62h2M715.5 382.62h-2M401.7 374h2M715.5 374h-2M401.7 675.6h3.5M715.5 675.6h-3.5M401.7 632.51h3.5M715.5 632.51h-3.5M401.7 589.43h3.5M715.5 589.43h-3.5M401.7 546.34h3.5M715.5 546.34h-3.5M401.7 503.26h3.5M715.5 503.26h-3.5M401.7 460.17h3.5M715.5 460.17h-3.5M401.7 417.09h3.5M715.5 417.09h-3.5M401.7 374h3.5M715.5 374h-3.5" stroke="#555" stroke-width="1" fill="none"/>
<rect x="401.7" y="374" width="313.8" height="301.6" fill="none" stroke="#9a9a9a" stroke-width="1.6"/>
<path d="M65.8 999.5v-2M65.8 697.4v2M78.1 999.5v-2M78.1 697.4v2M90.4 999.5v-2M90.4 697.4v2M102.71 999.5v-2M102.71 697.4v2M115.01 999.5v-2M115.01 697.4v2M127.31 999.5v-2M127.31 697.4v2M139.61 999.5v-2M139.61 697.4v2M151.91 999.5v-2M151.91 697.4v2M164.22 999.5v-2M164.22 697.4v2M176.52 999.5v-2M176.52 697.4v2M188.82 999.5v-2M188.82 697.4v2M201.12 999.5v-2M201.12 697.4v2M213.42 999.5v-2M213.42 697.4v2M225.73 999.5v-2M225.73 697.4v2M238.03 999.5v-2M238.03 697.4v2M250.33 999.5v-2M250.33 697.4v2M262.63 999.5v-2M262.63 697.4v2M274.93 999.5v-2M274.93 697.4v2M287.24 999.5v-2M287.24 697.4v2M299.54 999.5v-2M299.54 697.4v2M311.84 999.5v-2M311.84 697.4v2M324.14 999.5v-2M324.14 697.4v2M336.44 999.5v-2M336.44 697.4v2M348.75 999.5v-2M348.75 697.4v2M361.05 999.5v-2M361.05 697.4v2M373.35 999.5v-2M373.35 697.4v2M65.8 999.5v-3.5M65.8 697.4v3.5M127.31 999.5v-3.5M127.31 697.4v3.5M188.82 999.5v-3.5M188.82 697.4v3.5M250.33 999.5v-3.5M250.33 697.4v3.5M311.84 999.5v-3.5M311.84 697.4v3.5M373.35 999.5v-3.5M373.35 697.4v3.5M65.8 999.5h2M379.5 999.5h-2M65.8 987.42h2M379.5 987.42h-2M65.8 975.33h2M379.5 975.33h-2M65.8 963.25h2M379.5 963.25h-2M65.8 951.16h2M379.5 951.16h-2M65.8 939.08h2M379.5 939.08h-2M65.8 927h2M379.5 927h-2M65.8 914.91h2M379.5 914.91h-2M65.8 902.83h2M379.5 902.83h-2M65.8 890.74h2M379.5 890.74h-2M65.8 878.66h2M379.5 878.66h-2M65.8 866.58h2M379.5 866.58h-2M65.8 854.49h2M379.5 854.49h-2M65.8 842.41h2M379.5 842.41h-2M65.8 830.32h2M379.5 830.32h-2M65.8 818.24h2M379.5 818.24h-2M65.8 806.16h2M379.5 806.16h-2M65.8 794.07h2M379.5 794.07h-2M65.8 781.99h2M379.5 781.99h-2M65.8 769.9h2M379.5 769.9h-2M65.8 757.82h2M379.5 757.82h-2M65.8 745.74h2M379.5 745.74h-2M65.8 733.65h2M379.5 733.65h-2M65.8 721.57h2M379.5 721.57h-2M65.8 709.48h2M379.5 709.48h-2M65.8 697.4h2M379.5 697.4h-2M65.8 999.5h3.5M379.5 999.5h-3.5M65.8 939.08h3.5M379.5 939.08h-3.5M65.8 878.66h3.5M379.5 878.66h-3.5M65.8 818.24h3.5M379.5 818.24h-3.5M65.8 757.82h3.5M379.5 757.82h-3.5M65.8 697.4h3.5M379.5 697.4h-3.5" stroke="#555" stroke-width="1" fill="none"/>
<rect x="65.8" y="697.4" width="313.7" height="302.1" fill="none" stroke="#9a9a9a" stroke-width="1.6"/>
<path d="M401.7 999.5v-2M401.7 697.4v2M414.01 999.5v-2M414.01 697.4v2M426.31 999.5v-2M426.31 697.4v2M438.62 999.5v-2M438.62 697.4v2M450.92 999.5v-2M450.92 697.4v2M463.23 999.5v-2M463.23 697.4v2M475.54 999.5v-2M475.54 697.4v2M487.84 999.5v-2M487.84 697.4v2M500.15 999.5v-2M500.15 697.4v2M512.45 999.5v-2M512.45 697.4v2M524.76 999.5v-2M524.76 697.4v2M537.06 999.5v-2M537.06 697.4v2M549.37 999.5v-2M549.37 697.4v2M561.68 999.5v-2M561.68 697.4v2M573.98 999.5v-2M573.98 697.4v2M586.29 999.5v-2M586.29 697.4v2M598.59 999.5v-2M598.59 697.4v2M610.9 999.5v-2M610.9 697.4v2M623.21 999.5v-2M623.21 697.4v2M635.51 999.5v-2M635.51 697.4v2M647.82 999.5v-2M647.82 697.4v2M660.12 999.5v-2M660.12 697.4v2M672.43 999.5v-2M672.43 697.4v2M684.74 999.5v-2M684.74 697.4v2M697.04 999.5v-2M697.04 697.4v2M709.35 999.5v-2M709.35 697.4v2M401.7 999.5v-3.5M401.7 697.4v3.5M463.23 999.5v-3.5M463.23 697.4v3.5M524.76 999.5v-3.5M524.76 697.4v3.5M586.29 999.5v-3.5M586.29 697.4v3.5M647.82 999.5v-3.5M647.82 697.4v3.5M709.35 999.5v-3.5M709.35 697.4v3.5M401.7 999.5h2M715.5 999.5h-2M401.7 987.42h2M715.5 987.42h-2M401.7 975.33h2M715.5 975.33h-2M401.7 963.25h2M715.5 963.25h-2M401.7 951.16h2M715.5 951.16h-2M401.7 939.08h2M715.5 939.08h-2M401.7 927h2M715.5 927h-2M401.7 914.91h2M715.5 914.91h-2M401.7 902.83h2M715.5 902.83h-2M401.7 890.74h2M715.5 890.74h-2M401.7 878.66h2M715.5 878.66h-2M401.7 866.58h2M715.5 866.58h-2M401.7 854.49h2M715.5 854.49h-2M401.7 842.41h2M715.5 842.41h-2M401.7 830.32h2M715.5 830.32h-2M401.7 818.24h2M715.5 818.24h-2M401.7 806.16h2M715.5 806.16h-2M401.7 794.07h2M715.5 794.07h-2M401.7 781.99h2M715.5 781.99h-2M401.7 769.9h2M715.5 769.9h-2M401.7 757.82h2M715.5 757.82h-2M401.7 745.74h2M715.5 745.74h-2M401.7 733.65h2M715.5 733.65h-2M401.7 721.57h2M715.5 721.57h-2M401.7 709.48h2M715.5 709.48h-2M401.7 697.4h2M715.5 697.4h-2M401.7 999.5h3.5M715.5 999.5h-3.5M401.7 939.08h3.5M715.5 939.08h-3.5M401.7 878.66h3.5M715.5 878.66h-3.5M401.7 818.24h3.5M715.5 818.24h-3.5M401.7 757.82h3.5M715.5 757.82h-3.5M401.7 697.4h3.5M715.5 697.4h-3.5" stroke="#555" stroke-width="1" fill="none"/>
<rect x="401.7" y="697.4" width="313.8" height="302.1" fill="none" stroke="#9a9a9a" stroke-width="1.6"/>
<text x="59.5" y="323.1" font-size="16.5" fill="#4d4d4d" font-weight="normal" text-anchor="end" font-family="Liberation Sans" >0</text>
<text x="59.5" y="282.01" font-size="16.5" fill="#4d4d4d" font-weight="normal" text-anchor="end" font-family="Liberation Sans" >200</text>
<text x="59.5" y="240.93" font-size="16.5" fill="#4d4d4d" font-weight="normal" text-anchor="end" font-family="Liberation Sans" >400</text>
<text x="59.5" y="199.84" font-size="16.5" fill="#4d4d4d" font-weight="normal" text-anchor="end" font-family="Liberation Sans" >600</text>
<text x="59.5" y="158.76" font-size="16.5" fill="#4d4d4d" font-weight="normal" text-anchor="end" font-family="Liberation Sans" >800</text>
<text x="59.5" y="117.67" font-size="16.5" fill="#4d4d4d" font-weight="normal" text-anchor="end" font-family="Liberation Sans" >1000</text>
<text x="59.5" y="76.59" font-size="16.5" fill="#4d4d4d" font-weight="normal" text-anchor="end" font-family="Liberation Sans" >1200</text>
<text x="59.5" y="35.5" font-size="16.5" fill="#4d4d4d" font-weight="normal" text-anchor="end" font-family="Liberation Sans" >1400</text>
<text x="66" y="339.5" font-size="16.5" fill="#4d4d4d" font-weight="normal" text-anchor="middle" font-family="Liberation Sans" >0</text>
<text x="401.8" y="339.5" font-size="16.5" fill="#262626" font-weight="normal" text-anchor="middle" font-family="Liberation Sans" >0</text>
<text x="144.35" y="339.5" font-size="16.5" fill="#4d4d4d" font-weight="normal" text-anchor="middle" font-family="Liberation Sans" >2</text>
<text x="480.18" y="339.5" font-size="16.5" fill="#262626" font-weight="normal" text-anchor="middle" font-family="Liberation Sans" >2</text>
<text x="222.7" y="339.5" font-size="16.5" fill="#4d4d4d" font-weight="normal" text-anchor="middle" font-family="Liberation Sans" >4</text>
<text x="558.55" y="339.5" font-size="16.5" fill="#262626" font-weight="normal" text-anchor="middle" font-family="Liberation Sans" >4</text>
<text x="301.05" y="339.5" font-size="16.5" fill="#4d4d4d" font-weight="normal" text-anchor="middle" font-family="Liberation Sans" >6</text>
<text x="636.92" y="339.5" font-size="16.5" fill="#262626" font-weight="normal" text-anchor="middle" font-family="Liberation Sans" >6</text>
<text x="379.4" y="339.5" font-size="16.5" fill="#4d4d4d" font-weight="normal" text-anchor="middle" font-family="Liberation Sans" >8</text>
<text x="715.3" y="339.5" font-size="16.5" fill="#262626" font-weight="normal" text-anchor="middle" font-family="Liberation Sans" >8</text>
<text x="223.4" y="361.7" font-size="18.7" fill="#4d4d4d" font-weight="bold" text-anchor="middle" font-family="Liberation Sans" textLength="71" lengthAdjust="spacingAndGlyphs">E (meV)</text>
<text x="559.35" y="361.7" font-size="18.7" fill="#262626" font-weight="bold" text-anchor="middle" font-family="Liberation Sans" textLength="71" lengthAdjust="spacingAndGlyphs">E (meV)</text>
<text transform="translate(14.6,171.9) rotate(-90)" font-size="18.7" textLength="184" lengthAdjust="spacingAndGlyphs" fill="#4d4d4d" font-weight="bold" text-anchor="middle" font-family="Liberation Sans">Intensity (arb. units)</text>
<text x="71" y="14.8" font-size="22.5" fill="#000" font-weight="bold" text-anchor="start" font-family="Liberation Sans" textLength="93" lengthAdjust="spacingAndGlyphs">T = 300 K</text>
<text x="223.4" y="20.8" font-size="21" fill="#333" font-weight="normal" text-anchor="middle" font-family="Liberation Sans" >(2 q 0)</text>
<text x="557.8" y="21" font-size="21.2" fill="#333" font-weight="normal" text-anchor="middle" font-family="Liberation Sans" >(2-q 2+q 0)</text>
<text x="134.6" y="57.2" font-size="23.6" fill="#000" font-weight="bold" text-anchor="middle" font-family="Liberation Sans" >(a)</text>
<text x="457.4" y="57.3" font-size="23.6" fill="#000" font-weight="bold" text-anchor="middle" font-family="Liberation Sans" >(b)</text>
<text x="102.8" y="406.6" font-size="23.6" fill="#000" font-weight="bold" text-anchor="middle" font-family="Liberation Sans" >(c)</text>
<text x="441.4" y="406.6" font-size="23.6" fill="#000" font-weight="bold" text-anchor="middle" font-family="Liberation Sans" >(d)</text>
<text x="102.8" y="732.6" font-size="23.6" fill="#000" font-weight="bold" text-anchor="middle" font-family="Liberation Sans" >(e)</text>
<text x="440.4" y="732.6" font-size="23.6" fill="#000" font-weight="bold" text-anchor="middle" font-family="Liberation Sans" >(f)</text>
<text x="59.8" y="681.4" font-size="16.5" fill="#1a1a1a" font-weight="normal" text-anchor="end" font-family="Liberation Sans" >0</text>
<text x="59.8" y="638.31" font-size="16.5" fill="#1a1a1a" font-weight="normal" text-anchor="end" font-family="Liberation Sans" >1</text>
<text x="59.8" y="595.23" font-size="16.5" fill="#1a1a1a" font-weight="normal" text-anchor="end" font-family="Liberation Sans" >2</text>
<text x="59.8" y="552.14" font-size="16.5" fill="#1a1a1a" font-weight="normal" text-anchor="end" font-family="Liberation Sans" >3</text>
<text x="59.8" y="509.06" font-size="16.5" fill="#1a1a1a" font-weight="normal" text-anchor="end" font-family="Liberation Sans" >4</text>
<text x="59.8" y="465.97" font-size="16.5" fill="#1a1a1a" font-weight="normal" text-anchor="end" font-family="Liberation Sans" >5</text>
<text x="59.8" y="422.89" font-size="16.5" fill="#1a1a1a" font-weight="normal" text-anchor="end" font-family="Liberation Sans" >6</text>
<text x="59.8" y="379.8" font-size="16.5" fill="#1a1a1a" font-weight="normal" text-anchor="end" font-family="Liberation Sans" >7</text>
<text x="59.8" y="1005.3" font-size="16.5" fill="#1a1a1a" font-weight="normal" text-anchor="end" font-family="Liberation Sans" >0</text>
<text x="59.8" y="944.88" font-size="16.5" fill="#1a1a1a" font-weight="normal" text-anchor="end" font-family="Liberation Sans" >0.5</text>
<text x="59.8" y="884.46" font-size="16.5" fill="#1a1a1a" font-weight="normal" text-anchor="end" font-family="Liberation Sans" >1</text>
<text x="59.8" y="824.04" font-size="16.5" fill="#1a1a1a" font-weight="normal" text-anchor="end" font-family="Liberation Sans" >1.5</text>
<text x="59.8" y="763.62" font-size="16.5" fill="#1a1a1a" font-weight="normal" text-anchor="end" font-family="Liberation Sans" >2</text>
<text x="59.8" y="703.2" font-size="16.5" fill="#1a1a1a" font-weight="normal" text-anchor="end" font-family="Liberation Sans" >2.5</text>
<text x="65.8" y="1022.5" font-size="16.5" fill="#1a1a1a" font-weight="normal" text-anchor="middle" font-family="Liberation Sans" >0</text>
<text x="401.7" y="1022.5" font-size="16.5" fill="#1a1a1a" font-weight="normal" text-anchor="middle" font-family="Liberation Sans" >0</text>
<text x="127.31" y="1022.5" font-size="16.5" fill="#1a1a1a" font-weight="normal" text-anchor="middle" font-family="Liberation Sans" >0.1</text>
<text x="463.23" y="1022.5" font-size="16.5" fill="#1a1a1a" font-weight="normal" text-anchor="middle" font-family="Liberation Sans" >0.1</text>
<text x="188.82" y="1022.5" font-size="16.5" fill="#1a1a1a" font-weight="normal" text-anchor="middle" font-family="Liberation Sans" >0.2</text>
<text x="524.76" y="1022.5" font-size="16.5" fill="#1a1a1a" font-weight="normal" text-anchor="middle" font-family="Liberation Sans" >0.2</text>
<text x="250.33" y="1022.5" font-size="16.5" fill="#1a1a1a" font-weight="normal" text-anchor="middle" font-family="Liberation Sans" >0.3</text>
<text x="586.29" y="1022.5" font-size="16.5" fill="#1a1a1a" font-weight="normal" text-anchor="middle" font-family="Liberation Sans" >0.3</text>
<text x="311.84" y="1022.5" font-size="16.5" fill="#1a1a1a" font-weight="normal" text-anchor="middle" font-family="Liberation Sans" >0.4</text>
<text x="647.82" y="1022.5" font-size="16.5" fill="#1a1a1a" font-weight="normal" text-anchor="middle" font-family="Liberation Sans" >0.4</text>
<text x="373.35" y="1022.5" font-size="16.5" fill="#1a1a1a" font-weight="normal" text-anchor="middle" font-family="Liberation Sans" >0.5</text>
<text x="709.35" y="1022.5" font-size="16.5" fill="#1a1a1a" font-weight="normal" text-anchor="middle" font-family="Liberation Sans" >0.5</text>
<text x="42.9" y="524.5" font-size="1" fill="#111" font-weight="normal" text-anchor="start" font-family="Liberation Sans" ></text>
<text transform="translate(42.9,524.5) rotate(-90)" font-size="18.7" textLength="71" lengthAdjust="spacingAndGlyphs" fill="#1a1a1a" font-weight="bold" text-anchor="middle" font-family="Liberation Sans">E (meV)</text>
<text transform="translate(28.8,847.7) rotate(-90)" font-size="18.7" textLength="216.5" lengthAdjust="spacingAndGlyphs" fill="#1a1a1a" font-weight="bold" text-anchor="middle" font-family="Liberation Sans">Phonon linewidth (meV)</text>
<text x="67.3" y="1045" font-size="21" fill="#000" font-weight="bold" text-anchor="middle" font-family="Liberation Serif" >Γ</text>
<text x="402.2" y="1045" font-size="21" fill="#000" font-weight="bold" text-anchor="middle" font-family="Liberation Serif" >Γ</text>
<text x="373" y="1045" font-size="20" fill="#000" font-weight="bold" text-anchor="middle" font-family="Liberation Sans" >X</text>
<text x="709.4" y="1045" font-size="20" fill="#000" font-weight="bold" text-anchor="middle" font-family="Liberation Sans" >M</text>
<text x="223.2" y="1045" font-size="19.2" fill="#1a1a1a" font-weight="bold" text-anchor="middle" font-family="Liberation Sans" >(2 q&#160;&#160;0)</text>
<text x="558" y="1045" font-size="19.2" fill="#1a1a1a" font-weight="bold" text-anchor="middle" font-family="Liberation Sans" >(2-q 2+q&#160;&#160;0)</text>
</svg>
</body></html>
